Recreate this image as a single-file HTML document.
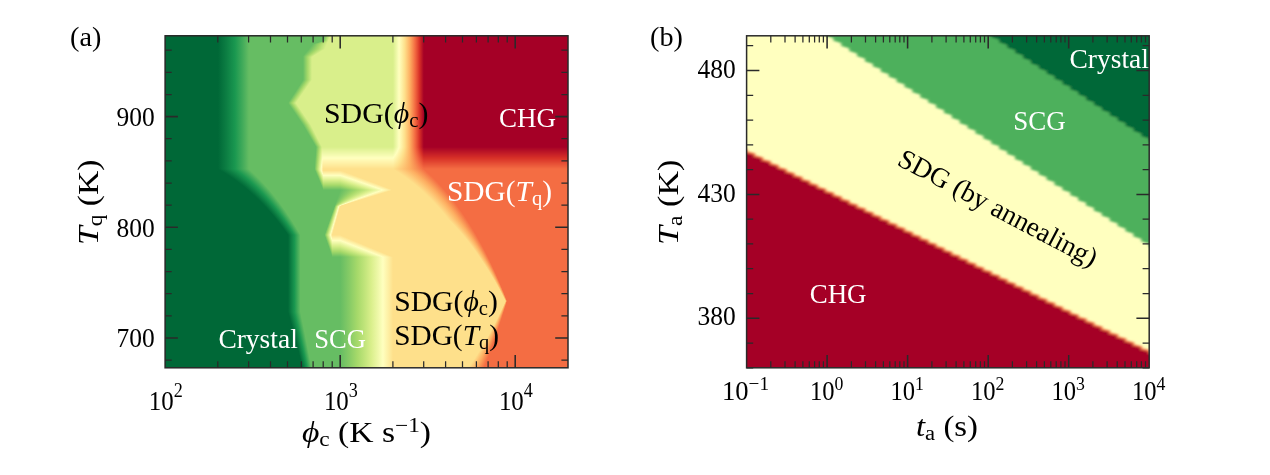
<!DOCTYPE html>
<html><head><meta charset="utf-8"><title>Phase diagrams</title>
<style>
html,body{margin:0;padding:0;background:#fff}
body{width:1270px;height:475px;position:relative;overflow:hidden;font-family:"Liberation Serif",serif}
#ha{position:absolute;left:165px;top:35px;width:403px;height:333px}
.r{height:1px;width:100%}
svg{position:absolute;left:0;top:0}
text{font-family:"Liberation Serif",serif}
.i{font-style:italic}
</style></head><body>
<div id="ha">

<div class="r" style="background:linear-gradient(90deg,#006837 -0.47%,#006837 13.15%,#0d8044 15.39%,#1a9850 17.39%,#40aa5a 19.19%,#66bd63 20.84%,#66bd63 39.43%,#a6d96a 40.24%,#d9ef8b 41.02%,#d9ef8b 56.58%,#ecf7a5 57.35%,#ffffbf 58.08%,#fef0a5 58.80%,#fee08b 59.48%,#fec776 60.14%,#fdae61 60.78%,#f88e52 61.40%,#f46d43 62.00%,#e64f35 62.58%,#d73027 63.14%,#be1826 63.69%,#a50026 64.22%,#a50026 100.48%)"></div>
<div class="r" style="background:linear-gradient(90deg,#006837 -0.47%,#006837 13.15%,#0d8044 15.39%,#1a9850 17.39%,#40aa5a 19.19%,#66bd63 20.84%,#66bd63 39.39%,#a6d96a 40.17%,#d9ef8b 40.92%,#d9ef8b 56.58%,#ecf7a5 57.35%,#ffffbf 58.08%,#fef0a5 58.80%,#fee08b 59.48%,#fec776 60.14%,#fdae61 60.78%,#f88e52 61.40%,#f46d43 62.00%,#e64f35 62.58%,#d73027 63.14%,#be1826 63.69%,#a50026 64.22%,#a50026 100.48%)"></div>
<div class="r" style="background:linear-gradient(90deg,#006837 -0.47%,#006837 13.15%,#0d8044 15.39%,#1a9850 17.39%,#40aa5a 19.19%,#66bd63 20.84%,#66bd63 39.35%,#a6d96a 40.10%,#d9ef8b 40.82%,#d9ef8b 56.58%,#ecf7a5 57.35%,#ffffbf 58.08%,#fef0a5 58.80%,#fee08b 59.48%,#fec776 60.14%,#fdae61 60.78%,#f88e52 61.40%,#f46d43 62.00%,#e64f35 62.58%,#d73027 63.14%,#be1826 63.69%,#a50026 64.22%,#a50026 100.48%)"></div>
<div class="r" style="background:linear-gradient(90deg,#006837 -0.47%,#006837 13.15%,#0d8044 15.39%,#1a9850 17.39%,#40aa5a 19.19%,#66bd63 20.84%,#66bd63 39.31%,#a6d96a 40.03%,#d9ef8b 40.73%,#d9ef8b 56.58%,#ecf7a5 57.35%,#ffffbf 58.08%,#fef0a5 58.80%,#fee08b 59.48%,#fec776 60.14%,#fdae61 60.78%,#f88e52 61.40%,#f46d43 62.00%,#e64f35 62.58%,#d73027 63.14%,#be1826 63.69%,#a50026 64.22%,#a50026 100.48%)"></div>
<div class="r" style="background:linear-gradient(90deg,#006837 -0.47%,#006837 13.15%,#0d8044 15.39%,#1a9850 17.39%,#40aa5a 19.19%,#66bd63 20.84%,#66bd63 39.27%,#a6d96a 39.96%,#d9ef8b 40.63%,#d9ef8b 56.58%,#ecf7a5 57.35%,#ffffbf 58.08%,#fef0a5 58.80%,#fee08b 59.48%,#fec776 60.14%,#fdae61 60.78%,#f88e52 61.40%,#f46d43 62.00%,#e64f35 62.58%,#d73027 63.14%,#be1826 63.69%,#a50026 64.22%,#a50026 100.48%)"></div>
<div class="r" style="background:linear-gradient(90deg,#006837 -0.47%,#006837 13.15%,#0d8044 15.39%,#1a9850 17.39%,#40aa5a 19.19%,#66bd63 20.84%,#66bd63 39.23%,#a6d96a 39.89%,#d9ef8b 40.53%,#d9ef8b 56.58%,#ecf7a5 57.35%,#ffffbf 58.08%,#fef0a5 58.80%,#fee08b 59.48%,#fec776 60.14%,#fdae61 60.78%,#f88e52 61.40%,#f46d43 62.00%,#e64f35 62.58%,#d73027 63.14%,#be1826 63.69%,#a50026 64.22%,#a50026 100.48%)"></div>
<div class="r" style="background:linear-gradient(90deg,#006837 -0.47%,#006837 13.15%,#0d8044 15.39%,#1a9850 17.39%,#40aa5a 19.19%,#66bd63 20.84%,#66bd63 38.79%,#a6d96a 39.63%,#d9ef8b 40.43%,#d9ef8b 56.58%,#ecf7a5 57.35%,#ffffbf 58.08%,#fef0a5 58.80%,#fee08b 59.48%,#fec776 60.14%,#fdae61 60.78%,#f88e52 61.40%,#f46d43 62.00%,#e64f35 62.58%,#d73027 63.14%,#be1826 63.69%,#a50026 64.22%,#a50026 100.48%)"></div>
<div class="r" style="background:linear-gradient(90deg,#006837 -0.47%,#006837 13.15%,#0d8044 15.39%,#1a9850 17.39%,#40aa5a 19.19%,#66bd63 20.84%,#66bd63 37.97%,#a6d96a 39.19%,#d9ef8b 40.34%,#d9ef8b 56.58%,#ecf7a5 57.35%,#ffffbf 58.08%,#fef0a5 58.80%,#fee08b 59.48%,#fec776 60.14%,#fdae61 60.78%,#f88e52 61.40%,#f46d43 62.00%,#e64f35 62.58%,#d73027 63.14%,#be1826 63.69%,#a50026 64.22%,#a50026 100.48%)"></div>
<div class="r" style="background:linear-gradient(90deg,#006837 -0.47%,#006837 13.15%,#0d8044 15.39%,#1a9850 17.39%,#40aa5a 19.19%,#66bd63 20.84%,#66bd63 37.14%,#a6d96a 38.75%,#d9ef8b 40.24%,#d9ef8b 56.58%,#ecf7a5 57.35%,#ffffbf 58.08%,#fef0a5 58.80%,#fee08b 59.48%,#fec776 60.14%,#fdae61 60.78%,#f88e52 61.40%,#f46d43 62.00%,#e64f35 62.58%,#d73027 63.14%,#be1826 63.69%,#a50026 64.22%,#a50026 100.48%)"></div>
<div class="r" style="background:linear-gradient(90deg,#006837 -0.47%,#006837 13.15%,#0d8044 15.39%,#1a9850 17.39%,#40aa5a 19.19%,#66bd63 20.84%,#66bd63 36.62%,#a6d96a 38.46%,#d9ef8b 40.14%,#d9ef8b 56.58%,#ecf7a5 57.35%,#ffffbf 58.08%,#fef0a5 58.80%,#fee08b 59.48%,#fec776 60.14%,#fdae61 60.78%,#f88e52 61.40%,#f46d43 62.00%,#e64f35 62.58%,#d73027 63.14%,#be1826 63.69%,#a50026 64.22%,#a50026 100.48%)"></div>
<div class="r" style="background:linear-gradient(90deg,#006837 -0.47%,#006837 13.15%,#0d8044 15.39%,#1a9850 17.39%,#40aa5a 19.19%,#66bd63 20.84%,#66bd63 36.41%,#a6d96a 38.32%,#d9ef8b 40.04%,#d9ef8b 56.58%,#ecf7a5 57.35%,#ffffbf 58.08%,#fef0a5 58.80%,#fee08b 59.48%,#fec776 60.14%,#fdae61 60.78%,#f88e52 61.40%,#f46d43 62.00%,#e64f35 62.58%,#d73027 63.14%,#be1826 63.69%,#a50026 64.22%,#a50026 100.48%)"></div>
<div class="r" style="background:linear-gradient(90deg,#006837 -0.47%,#006837 13.15%,#0d8044 15.39%,#1a9850 17.39%,#40aa5a 19.19%,#66bd63 20.84%,#66bd63 36.21%,#a6d96a 38.17%,#d9ef8b 39.95%,#d9ef8b 56.58%,#ecf7a5 57.35%,#ffffbf 58.08%,#fef0a5 58.80%,#fee08b 59.48%,#fec776 60.14%,#fdae61 60.78%,#f88e52 61.40%,#f46d43 62.00%,#e64f35 62.58%,#d73027 63.14%,#be1826 63.69%,#a50026 64.22%,#a50026 100.48%)"></div>
<div class="r" style="background:linear-gradient(90deg,#006837 -0.47%,#006837 13.15%,#0d8044 15.39%,#1a9850 17.39%,#40aa5a 19.19%,#66bd63 20.84%,#66bd63 36.00%,#a6d96a 38.02%,#d9ef8b 39.85%,#d9ef8b 56.58%,#ecf7a5 57.35%,#ffffbf 58.08%,#fef0a5 58.80%,#fee08b 59.48%,#fec776 60.14%,#fdae61 60.78%,#f88e52 61.40%,#f46d43 62.00%,#e64f35 62.58%,#d73027 63.14%,#be1826 63.69%,#a50026 64.22%,#a50026 100.48%)"></div>
<div class="r" style="background:linear-gradient(90deg,#006837 -0.47%,#006837 13.15%,#0d8044 15.39%,#1a9850 17.39%,#40aa5a 19.19%,#66bd63 20.84%,#66bd63 35.79%,#a6d96a 37.88%,#d9ef8b 39.75%,#d9ef8b 56.58%,#ecf7a5 57.35%,#ffffbf 58.08%,#fef0a5 58.80%,#fee08b 59.48%,#fec776 60.14%,#fdae61 60.78%,#f88e52 61.40%,#f46d43 62.00%,#e64f35 62.58%,#d73027 63.14%,#be1826 63.69%,#a50026 64.22%,#a50026 100.48%)"></div>
<div class="r" style="background:linear-gradient(90deg,#006837 -0.47%,#006837 13.15%,#0d8044 15.39%,#1a9850 17.39%,#40aa5a 19.19%,#66bd63 20.84%,#66bd63 35.59%,#a6d96a 37.65%,#d9ef8b 39.50%,#d9ef8b 56.58%,#ecf7a5 57.35%,#ffffbf 58.08%,#fef0a5 58.80%,#fee08b 59.48%,#fec776 60.14%,#fdae61 60.78%,#f88e52 61.40%,#f46d43 62.00%,#e64f35 62.58%,#d73027 63.14%,#be1826 63.69%,#a50026 64.22%,#a50026 100.48%)"></div>
<div class="r" style="background:linear-gradient(90deg,#006837 -0.47%,#006837 13.15%,#0d8044 15.39%,#1a9850 17.39%,#40aa5a 19.19%,#66bd63 20.84%,#66bd63 35.38%,#a6d96a 37.33%,#d9ef8b 39.10%,#d9ef8b 56.58%,#ecf7a5 57.35%,#ffffbf 58.08%,#fef0a5 58.80%,#fee08b 59.48%,#fec776 60.14%,#fdae61 60.78%,#f88e52 61.40%,#f46d43 62.00%,#e64f35 62.58%,#d73027 63.14%,#be1826 63.69%,#a50026 64.22%,#a50026 100.48%)"></div>
<div class="r" style="background:linear-gradient(90deg,#006837 -0.47%,#006837 13.15%,#0d8044 15.39%,#1a9850 17.39%,#40aa5a 19.19%,#66bd63 20.84%,#66bd63 35.17%,#a6d96a 37.02%,#d9ef8b 38.69%,#d9ef8b 56.58%,#ecf7a5 57.35%,#ffffbf 58.08%,#fef0a5 58.80%,#fee08b 59.48%,#fec776 60.14%,#fdae61 60.78%,#f88e52 61.40%,#f46d43 62.00%,#e64f35 62.58%,#d73027 63.14%,#be1826 63.69%,#a50026 64.22%,#a50026 100.48%)"></div>
<div class="r" style="background:linear-gradient(90deg,#006837 -0.47%,#006837 13.15%,#0d8044 15.39%,#1a9850 17.39%,#40aa5a 19.19%,#66bd63 20.84%,#66bd63 34.97%,#a6d96a 36.70%,#d9ef8b 38.29%,#d9ef8b 56.58%,#ecf7a5 57.35%,#ffffbf 58.08%,#fef0a5 58.80%,#fee08b 59.48%,#fec776 60.14%,#fdae61 60.78%,#f88e52 61.40%,#f46d43 62.00%,#e64f35 62.58%,#d73027 63.14%,#be1826 63.69%,#a50026 64.22%,#a50026 100.48%)"></div>
<div class="r" style="background:linear-gradient(90deg,#006837 -0.47%,#006837 13.15%,#0d8044 15.39%,#1a9850 17.39%,#40aa5a 19.19%,#66bd63 20.84%,#66bd63 34.76%,#a6d96a 36.39%,#d9ef8b 37.89%,#d9ef8b 56.58%,#ecf7a5 57.35%,#ffffbf 58.08%,#fef0a5 58.80%,#fee08b 59.48%,#fec776 60.14%,#fdae61 60.78%,#f88e52 61.40%,#f46d43 62.00%,#e64f35 62.58%,#d73027 63.14%,#be1826 63.69%,#a50026 64.22%,#a50026 100.48%)"></div>
<div class="r" style="background:linear-gradient(90deg,#006837 -0.47%,#006837 13.15%,#0d8044 15.39%,#1a9850 17.39%,#40aa5a 19.19%,#66bd63 20.84%,#66bd63 34.55%,#a6d96a 36.08%,#d9ef8b 37.48%,#d9ef8b 56.58%,#ecf7a5 57.35%,#ffffbf 58.08%,#fef0a5 58.80%,#fee08b 59.48%,#fec776 60.14%,#fdae61 60.78%,#f88e52 61.40%,#f46d43 62.00%,#e64f35 62.58%,#d73027 63.14%,#be1826 63.69%,#a50026 64.22%,#a50026 100.48%)"></div>
<div class="r" style="background:linear-gradient(90deg,#006837 -0.47%,#006837 13.15%,#0d8044 15.39%,#1a9850 17.39%,#40aa5a 19.19%,#66bd63 20.84%,#66bd63 34.35%,#a6d96a 35.76%,#d9ef8b 37.08%,#d9ef8b 56.58%,#ecf7a5 57.35%,#ffffbf 58.08%,#fef0a5 58.80%,#fee08b 59.48%,#fec776 60.14%,#fdae61 60.78%,#f88e52 61.40%,#f46d43 62.00%,#e64f35 62.58%,#d73027 63.14%,#be1826 63.69%,#a50026 64.22%,#a50026 100.48%)"></div>
<div class="r" style="background:linear-gradient(90deg,#006837 -0.47%,#006837 13.15%,#0d8044 15.39%,#1a9850 17.39%,#40aa5a 19.19%,#66bd63 20.84%,#66bd63 34.24%,#a6d96a 35.50%,#d9ef8b 36.68%,#d9ef8b 56.58%,#ecf7a5 57.35%,#ffffbf 58.08%,#fef0a5 58.80%,#fee08b 59.48%,#fec776 60.14%,#fdae61 60.78%,#f88e52 61.40%,#f46d43 62.00%,#e64f35 62.58%,#d73027 63.14%,#be1826 63.69%,#a50026 64.22%,#a50026 100.48%)"></div>
<div class="r" style="background:linear-gradient(90deg,#006837 -0.47%,#006837 13.15%,#0d8044 15.39%,#1a9850 17.39%,#40aa5a 19.19%,#66bd63 20.84%,#66bd63 34.24%,#a6d96a 35.39%,#d9ef8b 36.48%,#d9ef8b 56.58%,#ecf7a5 57.35%,#ffffbf 58.08%,#fef0a5 58.80%,#fee08b 59.48%,#fec776 60.14%,#fdae61 60.78%,#f88e52 61.40%,#f46d43 62.00%,#e64f35 62.58%,#d73027 63.14%,#be1826 63.69%,#a50026 64.22%,#a50026 100.48%)"></div>
<div class="r" style="background:linear-gradient(90deg,#006837 -0.47%,#006837 13.15%,#0d8044 15.39%,#1a9850 17.39%,#40aa5a 19.19%,#66bd63 20.84%,#66bd63 34.24%,#a6d96a 35.39%,#d9ef8b 36.48%,#d9ef8b 56.58%,#ecf7a5 57.35%,#ffffbf 58.08%,#fef0a5 58.80%,#fee08b 59.48%,#fec776 60.14%,#fdae61 60.78%,#f88e52 61.40%,#f46d43 62.00%,#e64f35 62.58%,#d73027 63.14%,#be1826 63.69%,#a50026 64.22%,#a50026 100.48%)"></div>
<div class="r" style="background:linear-gradient(90deg,#006837 -0.47%,#006837 13.15%,#0d8044 15.39%,#1a9850 17.39%,#40aa5a 19.19%,#66bd63 20.84%,#66bd63 34.24%,#a6d96a 35.39%,#d9ef8b 36.48%,#d9ef8b 56.58%,#ecf7a5 57.35%,#ffffbf 58.08%,#fef0a5 58.80%,#fee08b 59.48%,#fec776 60.14%,#fdae61 60.78%,#f88e52 61.40%,#f46d43 62.00%,#e64f35 62.58%,#d73027 63.14%,#be1826 63.69%,#a50026 64.22%,#a50026 100.48%)"></div>
<div class="r" style="background:linear-gradient(90deg,#006837 -0.47%,#006837 13.15%,#0d8044 15.39%,#1a9850 17.39%,#40aa5a 19.19%,#66bd63 20.84%,#66bd63 34.24%,#a6d96a 35.39%,#d9ef8b 36.48%,#d9ef8b 56.58%,#ecf7a5 57.35%,#ffffbf 58.08%,#fef0a5 58.80%,#fee08b 59.48%,#fec776 60.14%,#fdae61 60.78%,#f88e52 61.40%,#f46d43 62.00%,#e64f35 62.58%,#d73027 63.14%,#be1826 63.69%,#a50026 64.22%,#a50026 100.48%)"></div>
<div class="r" style="background:linear-gradient(90deg,#006837 -0.47%,#006837 13.15%,#0d8044 15.39%,#1a9850 17.39%,#40aa5a 19.19%,#66bd63 20.84%,#66bd63 34.24%,#a6d96a 35.39%,#d9ef8b 36.48%,#d9ef8b 56.58%,#ecf7a5 57.35%,#ffffbf 58.08%,#fef0a5 58.80%,#fee08b 59.48%,#fec776 60.14%,#fdae61 60.78%,#f88e52 61.40%,#f46d43 62.00%,#e64f35 62.58%,#d73027 63.14%,#be1826 63.69%,#a50026 64.22%,#a50026 100.48%)"></div>
<div class="r" style="background:linear-gradient(90deg,#006837 -0.47%,#006837 13.15%,#0d8044 15.39%,#1a9850 17.39%,#40aa5a 19.19%,#66bd63 20.84%,#66bd63 34.24%,#a6d96a 35.39%,#d9ef8b 36.48%,#d9ef8b 56.58%,#ecf7a5 57.35%,#ffffbf 58.08%,#fef0a5 58.80%,#fee08b 59.48%,#fec776 60.14%,#fdae61 60.78%,#f88e52 61.40%,#f46d43 62.00%,#e64f35 62.58%,#d73027 63.14%,#be1826 63.69%,#a50026 64.22%,#a50026 100.48%)"></div>
<div class="r" style="background:linear-gradient(90deg,#006837 -0.47%,#006837 13.15%,#0d8044 15.39%,#1a9850 17.39%,#40aa5a 19.19%,#66bd63 20.84%,#66bd63 34.24%,#a6d96a 35.39%,#d9ef8b 36.48%,#d9ef8b 56.58%,#ecf7a5 57.35%,#ffffbf 58.08%,#fef0a5 58.80%,#fee08b 59.48%,#fec776 60.14%,#fdae61 60.78%,#f88e52 61.40%,#f46d43 62.00%,#e64f35 62.58%,#d73027 63.14%,#be1826 63.69%,#a50026 64.22%,#a50026 100.48%)"></div>
<div class="r" style="background:linear-gradient(90deg,#006837 -0.47%,#006837 13.15%,#0d8044 15.39%,#1a9850 17.39%,#40aa5a 19.19%,#66bd63 20.84%,#66bd63 34.24%,#a6d96a 35.39%,#d9ef8b 36.48%,#d9ef8b 56.58%,#ecf7a5 57.35%,#ffffbf 58.08%,#fef0a5 58.80%,#fee08b 59.48%,#fec776 60.14%,#fdae61 60.78%,#f88e52 61.40%,#f46d43 62.00%,#e64f35 62.58%,#d73027 63.14%,#be1826 63.69%,#a50026 64.22%,#a50026 100.48%)"></div>
<div class="r" style="background:linear-gradient(90deg,#006837 -0.47%,#006837 13.15%,#0d8044 15.39%,#1a9850 17.39%,#40aa5a 19.19%,#66bd63 20.84%,#66bd63 34.24%,#a6d96a 35.39%,#d9ef8b 36.48%,#d9ef8b 56.58%,#ecf7a5 57.35%,#ffffbf 58.08%,#fef0a5 58.80%,#fee08b 59.48%,#fec776 60.14%,#fdae61 60.78%,#f88e52 61.40%,#f46d43 62.00%,#e64f35 62.58%,#d73027 63.14%,#be1826 63.69%,#a50026 64.22%,#a50026 100.48%)"></div>
<div class="r" style="background:linear-gradient(90deg,#006837 -0.47%,#006837 13.15%,#0d8044 15.39%,#1a9850 17.39%,#40aa5a 19.19%,#66bd63 20.84%,#66bd63 34.24%,#a6d96a 35.39%,#d9ef8b 36.48%,#d9ef8b 56.58%,#ecf7a5 57.35%,#ffffbf 58.08%,#fef0a5 58.80%,#fee08b 59.48%,#fec776 60.14%,#fdae61 60.78%,#f88e52 61.40%,#f46d43 62.00%,#e64f35 62.58%,#d73027 63.14%,#be1826 63.69%,#a50026 64.22%,#a50026 100.48%)"></div>
<div class="r" style="background:linear-gradient(90deg,#006837 -0.47%,#006837 13.15%,#0d8044 15.39%,#1a9850 17.39%,#40aa5a 19.19%,#66bd63 20.84%,#66bd63 34.24%,#a6d96a 35.39%,#d9ef8b 36.48%,#d9ef8b 56.58%,#ecf7a5 57.35%,#ffffbf 58.08%,#fef0a5 58.80%,#fee08b 59.48%,#fec776 60.14%,#fdae61 60.78%,#f88e52 61.40%,#f46d43 62.00%,#e64f35 62.58%,#d73027 63.14%,#be1826 63.69%,#a50026 64.22%,#a50026 100.48%)"></div>
<div class="r" style="background:linear-gradient(90deg,#006837 -0.47%,#006837 13.15%,#0d8044 15.39%,#1a9850 17.39%,#40aa5a 19.19%,#66bd63 20.84%,#66bd63 34.24%,#a6d96a 35.39%,#d9ef8b 36.48%,#d9ef8b 56.58%,#ecf7a5 57.35%,#ffffbf 58.08%,#fef0a5 58.80%,#fee08b 59.48%,#fec776 60.14%,#fdae61 60.78%,#f88e52 61.40%,#f46d43 62.00%,#e64f35 62.58%,#d73027 63.14%,#be1826 63.69%,#a50026 64.22%,#a50026 100.48%)"></div>
<div class="r" style="background:linear-gradient(90deg,#006837 -0.47%,#006837 13.15%,#0d8044 15.39%,#1a9850 17.39%,#40aa5a 19.19%,#66bd63 20.84%,#66bd63 34.24%,#a6d96a 35.39%,#d9ef8b 36.48%,#d9ef8b 56.58%,#ecf7a5 57.35%,#ffffbf 58.08%,#fef0a5 58.80%,#fee08b 59.48%,#fec776 60.14%,#fdae61 60.78%,#f88e52 61.40%,#f46d43 62.00%,#e64f35 62.58%,#d73027 63.14%,#be1826 63.69%,#a50026 64.22%,#a50026 100.48%)"></div>
<div class="r" style="background:linear-gradient(90deg,#006837 -0.47%,#006837 13.15%,#0d8044 15.39%,#1a9850 17.39%,#40aa5a 19.19%,#66bd63 20.84%,#66bd63 34.24%,#a6d96a 35.39%,#d9ef8b 36.48%,#d9ef8b 56.58%,#ecf7a5 57.35%,#ffffbf 58.08%,#fef0a5 58.80%,#fee08b 59.48%,#fec776 60.14%,#fdae61 60.78%,#f88e52 61.40%,#f46d43 62.00%,#e64f35 62.58%,#d73027 63.14%,#be1826 63.69%,#a50026 64.22%,#a50026 100.48%)"></div>
<div class="r" style="background:linear-gradient(90deg,#006837 -0.47%,#006837 13.15%,#0d8044 15.39%,#1a9850 17.39%,#40aa5a 19.19%,#66bd63 20.84%,#66bd63 34.24%,#a6d96a 35.39%,#d9ef8b 36.48%,#d9ef8b 56.58%,#ecf7a5 57.35%,#ffffbf 58.08%,#fef0a5 58.80%,#fee08b 59.48%,#fec776 60.14%,#fdae61 60.78%,#f88e52 61.40%,#f46d43 62.00%,#e64f35 62.58%,#d73027 63.14%,#be1826 63.69%,#a50026 64.22%,#a50026 100.48%)"></div>
<div class="r" style="background:linear-gradient(90deg,#006837 -0.47%,#006837 13.15%,#0d8044 15.39%,#1a9850 17.39%,#40aa5a 19.19%,#66bd63 20.84%,#66bd63 34.24%,#a6d96a 35.39%,#d9ef8b 36.48%,#d9ef8b 56.58%,#ecf7a5 57.35%,#ffffbf 58.08%,#fef0a5 58.80%,#fee08b 59.48%,#fec776 60.14%,#fdae61 60.78%,#f88e52 61.40%,#f46d43 62.00%,#e64f35 62.58%,#d73027 63.14%,#be1826 63.69%,#a50026 64.22%,#a50026 100.48%)"></div>
<div class="r" style="background:linear-gradient(90deg,#006837 -0.47%,#006837 13.15%,#0d8044 15.39%,#1a9850 17.39%,#40aa5a 19.19%,#66bd63 20.84%,#66bd63 34.24%,#a6d96a 35.39%,#d9ef8b 36.48%,#d9ef8b 56.58%,#ecf7a5 57.35%,#ffffbf 58.08%,#fef0a5 58.80%,#fee08b 59.48%,#fec776 60.14%,#fdae61 60.78%,#f88e52 61.40%,#f46d43 62.00%,#e64f35 62.58%,#d73027 63.14%,#be1826 63.69%,#a50026 64.22%,#a50026 100.48%)"></div>
<div class="r" style="background:linear-gradient(90deg,#006837 -0.47%,#006837 13.15%,#0d8044 15.39%,#1a9850 17.39%,#40aa5a 19.19%,#66bd63 20.84%,#66bd63 34.24%,#a6d96a 35.39%,#d9ef8b 36.48%,#d9ef8b 56.58%,#ecf7a5 57.35%,#ffffbf 58.08%,#fef0a5 58.80%,#fee08b 59.48%,#fec776 60.14%,#fdae61 60.78%,#f88e52 61.40%,#f46d43 62.00%,#e64f35 62.58%,#d73027 63.14%,#be1826 63.69%,#a50026 64.22%,#a50026 100.48%)"></div>
<div class="r" style="background:linear-gradient(90deg,#006837 -0.47%,#006837 13.15%,#0d8044 15.39%,#1a9850 17.39%,#40aa5a 19.19%,#66bd63 20.84%,#66bd63 34.24%,#a6d96a 35.39%,#d9ef8b 36.48%,#d9ef8b 56.58%,#ecf7a5 57.35%,#ffffbf 58.08%,#fef0a5 58.80%,#fee08b 59.48%,#fec776 60.14%,#fdae61 60.78%,#f88e52 61.40%,#f46d43 62.00%,#e64f35 62.58%,#d73027 63.14%,#be1826 63.69%,#a50026 64.22%,#a50026 100.48%)"></div>
<div class="r" style="background:linear-gradient(90deg,#006837 -0.47%,#006837 13.15%,#0d8044 15.39%,#1a9850 17.39%,#40aa5a 19.19%,#66bd63 20.84%,#66bd63 34.24%,#a6d96a 35.39%,#d9ef8b 36.48%,#d9ef8b 56.58%,#ecf7a5 57.35%,#ffffbf 58.08%,#fef0a5 58.80%,#fee08b 59.48%,#fec776 60.14%,#fdae61 60.78%,#f88e52 61.40%,#f46d43 62.00%,#e64f35 62.58%,#d73027 63.14%,#be1826 63.69%,#a50026 64.22%,#a50026 100.48%)"></div>
<div class="r" style="background:linear-gradient(90deg,#006837 -0.47%,#006837 13.15%,#0d8044 15.39%,#1a9850 17.39%,#40aa5a 19.19%,#66bd63 20.84%,#66bd63 34.24%,#a6d96a 35.39%,#d9ef8b 36.48%,#d9ef8b 56.58%,#ecf7a5 57.35%,#ffffbf 58.08%,#fef0a5 58.80%,#fee08b 59.48%,#fec776 60.14%,#fdae61 60.78%,#f88e52 61.40%,#f46d43 62.00%,#e64f35 62.58%,#d73027 63.14%,#be1826 63.69%,#a50026 64.22%,#a50026 100.48%)"></div>
<div class="r" style="background:linear-gradient(90deg,#006837 -0.47%,#006837 13.15%,#0d8044 15.39%,#1a9850 17.39%,#40aa5a 19.19%,#66bd63 20.84%,#66bd63 34.24%,#a6d96a 35.39%,#d9ef8b 36.48%,#d9ef8b 56.58%,#ecf7a5 57.35%,#ffffbf 58.08%,#fef0a5 58.80%,#fee08b 59.48%,#fec776 60.14%,#fdae61 60.78%,#f88e52 61.40%,#f46d43 62.00%,#e64f35 62.58%,#d73027 63.14%,#be1826 63.69%,#a50026 64.22%,#a50026 100.48%)"></div>
<div class="r" style="background:linear-gradient(90deg,#006837 -0.47%,#006837 13.15%,#0d8044 15.39%,#1a9850 17.39%,#40aa5a 19.19%,#66bd63 20.84%,#66bd63 34.24%,#a6d96a 35.39%,#d9ef8b 36.48%,#d9ef8b 56.58%,#ecf7a5 57.35%,#ffffbf 58.08%,#fef0a5 58.80%,#fee08b 59.48%,#fec776 60.14%,#fdae61 60.78%,#f88e52 61.40%,#f46d43 62.00%,#e64f35 62.58%,#d73027 63.14%,#be1826 63.69%,#a50026 64.22%,#a50026 100.48%)"></div>
<div class="r" style="background:linear-gradient(90deg,#006837 -0.47%,#006837 13.15%,#0d8044 15.39%,#1a9850 17.39%,#40aa5a 19.19%,#66bd63 20.84%,#66bd63 34.16%,#a6d96a 35.31%,#d9ef8b 36.39%,#d9ef8b 56.58%,#ecf7a5 57.35%,#ffffbf 58.08%,#fef0a5 58.80%,#fee08b 59.48%,#fec776 60.14%,#fdae61 60.78%,#f88e52 61.40%,#f46d43 62.00%,#e64f35 62.58%,#d73027 63.14%,#be1826 63.69%,#a50026 64.22%,#a50026 100.48%)"></div>
<div class="r" style="background:linear-gradient(90deg,#006837 -0.47%,#006837 13.15%,#0d8044 15.39%,#1a9850 17.39%,#40aa5a 19.19%,#66bd63 20.84%,#66bd63 34.00%,#a6d96a 35.14%,#d9ef8b 36.22%,#d9ef8b 56.58%,#ecf7a5 57.35%,#ffffbf 58.08%,#fef0a5 58.80%,#fee08b 59.48%,#fec776 60.14%,#fdae61 60.78%,#f88e52 61.40%,#f46d43 62.00%,#e64f35 62.58%,#d73027 63.14%,#be1826 63.69%,#a50026 64.22%,#a50026 100.48%)"></div>
<div class="r" style="background:linear-gradient(90deg,#006837 -0.47%,#006837 13.15%,#0d8044 15.39%,#1a9850 17.39%,#40aa5a 19.19%,#66bd63 20.84%,#66bd63 33.84%,#a6d96a 34.97%,#d9ef8b 36.04%,#d9ef8b 56.58%,#ecf7a5 57.35%,#ffffbf 58.08%,#fef0a5 58.80%,#fee08b 59.48%,#fec776 60.14%,#fdae61 60.78%,#f88e52 61.40%,#f46d43 62.00%,#e64f35 62.58%,#d73027 63.14%,#be1826 63.69%,#a50026 64.22%,#a50026 100.48%)"></div>
<div class="r" style="background:linear-gradient(90deg,#006837 -0.47%,#006837 13.15%,#0d8044 15.39%,#1a9850 17.39%,#40aa5a 19.19%,#66bd63 20.84%,#66bd63 33.68%,#a6d96a 34.81%,#d9ef8b 35.87%,#d9ef8b 56.58%,#ecf7a5 57.35%,#ffffbf 58.08%,#fef0a5 58.80%,#fee08b 59.48%,#fec776 60.14%,#fdae61 60.78%,#f88e52 61.40%,#f46d43 62.00%,#e64f35 62.58%,#d73027 63.14%,#be1826 63.69%,#a50026 64.22%,#a50026 100.48%)"></div>
<div class="r" style="background:linear-gradient(90deg,#006837 -0.47%,#006837 13.15%,#0d8044 15.39%,#1a9850 17.39%,#40aa5a 19.19%,#66bd63 20.84%,#66bd63 33.51%,#a6d96a 34.64%,#d9ef8b 35.70%,#d9ef8b 56.58%,#ecf7a5 57.35%,#ffffbf 58.08%,#fef0a5 58.80%,#fee08b 59.48%,#fec776 60.14%,#fdae61 60.78%,#f88e52 61.40%,#f46d43 62.00%,#e64f35 62.58%,#d73027 63.14%,#be1826 63.69%,#a50026 64.22%,#a50026 100.48%)"></div>
<div class="r" style="background:linear-gradient(90deg,#006837 -0.47%,#006837 13.15%,#0d8044 15.39%,#1a9850 17.39%,#40aa5a 19.19%,#66bd63 20.84%,#66bd63 33.35%,#a6d96a 34.47%,#d9ef8b 35.53%,#d9ef8b 56.58%,#ecf7a5 57.35%,#ffffbf 58.08%,#fef0a5 58.80%,#fee08b 59.48%,#fec776 60.14%,#fdae61 60.78%,#f88e52 61.40%,#f46d43 62.00%,#e64f35 62.58%,#d73027 63.14%,#be1826 63.69%,#a50026 64.22%,#a50026 100.48%)"></div>
<div class="r" style="background:linear-gradient(90deg,#006837 -0.47%,#006837 13.15%,#0d8044 15.39%,#1a9850 17.39%,#40aa5a 19.19%,#66bd63 20.84%,#66bd63 33.19%,#a6d96a 34.30%,#d9ef8b 35.35%,#d9ef8b 56.58%,#ecf7a5 57.35%,#ffffbf 58.08%,#fef0a5 58.80%,#fee08b 59.48%,#fec776 60.14%,#fdae61 60.78%,#f88e52 61.40%,#f46d43 62.00%,#e64f35 62.58%,#d73027 63.14%,#be1826 63.69%,#a50026 64.22%,#a50026 100.48%)"></div>
<div class="r" style="background:linear-gradient(90deg,#006837 -0.47%,#006837 13.15%,#0d8044 15.39%,#1a9850 17.39%,#40aa5a 19.19%,#66bd63 20.84%,#66bd63 33.03%,#a6d96a 34.14%,#d9ef8b 35.18%,#d9ef8b 56.58%,#ecf7a5 57.35%,#ffffbf 58.08%,#fef0a5 58.80%,#fee08b 59.48%,#fec776 60.14%,#fdae61 60.78%,#f88e52 61.40%,#f46d43 62.00%,#e64f35 62.58%,#d73027 63.14%,#be1826 63.69%,#a50026 64.22%,#a50026 100.48%)"></div>
<div class="r" style="background:linear-gradient(90deg,#006837 -0.47%,#006837 13.15%,#0d8044 15.39%,#1a9850 17.39%,#40aa5a 19.19%,#66bd63 20.84%,#66bd63 32.87%,#a6d96a 33.97%,#d9ef8b 35.01%,#d9ef8b 56.58%,#ecf7a5 57.35%,#ffffbf 58.08%,#fef0a5 58.80%,#fee08b 59.48%,#fec776 60.14%,#fdae61 60.78%,#f88e52 61.40%,#f46d43 62.00%,#e64f35 62.58%,#d73027 63.14%,#be1826 63.69%,#a50026 64.22%,#a50026 100.48%)"></div>
<div class="r" style="background:linear-gradient(90deg,#006837 -0.47%,#006837 13.15%,#0d8044 15.39%,#1a9850 17.39%,#40aa5a 19.19%,#66bd63 20.84%,#66bd63 32.71%,#a6d96a 33.80%,#d9ef8b 34.84%,#d9ef8b 56.58%,#ecf7a5 57.35%,#ffffbf 58.08%,#fef0a5 58.80%,#fee08b 59.48%,#fec776 60.14%,#fdae61 60.78%,#f88e52 61.40%,#f46d43 62.00%,#e64f35 62.58%,#d73027 63.14%,#be1826 63.69%,#a50026 64.22%,#a50026 100.48%)"></div>
<div class="r" style="background:linear-gradient(90deg,#006837 -0.47%,#006837 13.15%,#0d8044 15.39%,#1a9850 17.39%,#40aa5a 19.19%,#66bd63 20.84%,#66bd63 32.54%,#a6d96a 33.63%,#d9ef8b 34.66%,#d9ef8b 56.58%,#ecf7a5 57.35%,#ffffbf 58.08%,#fef0a5 58.80%,#fee08b 59.48%,#fec776 60.14%,#fdae61 60.78%,#f88e52 61.40%,#f46d43 62.00%,#e64f35 62.58%,#d73027 63.14%,#be1826 63.69%,#a50026 64.22%,#a50026 100.48%)"></div>
<div class="r" style="background:linear-gradient(90deg,#006837 -0.47%,#006837 13.15%,#0d8044 15.39%,#1a9850 17.39%,#40aa5a 19.19%,#66bd63 20.84%,#66bd63 32.38%,#a6d96a 33.47%,#d9ef8b 34.49%,#d9ef8b 56.58%,#ecf7a5 57.35%,#ffffbf 58.08%,#fef0a5 58.80%,#fee08b 59.48%,#fec776 60.14%,#fdae61 60.78%,#f88e52 61.40%,#f46d43 62.00%,#e64f35 62.58%,#d73027 63.14%,#be1826 63.69%,#a50026 64.22%,#a50026 100.48%)"></div>
<div class="r" style="background:linear-gradient(90deg,#006837 -0.47%,#006837 13.15%,#0d8044 15.39%,#1a9850 17.39%,#40aa5a 19.19%,#66bd63 20.84%,#66bd63 32.22%,#a6d96a 33.30%,#d9ef8b 34.32%,#d9ef8b 56.58%,#ecf7a5 57.35%,#ffffbf 58.08%,#fef0a5 58.80%,#fee08b 59.48%,#fec776 60.14%,#fdae61 60.78%,#f88e52 61.40%,#f46d43 62.00%,#e64f35 62.58%,#d73027 63.14%,#be1826 63.69%,#a50026 64.22%,#a50026 100.48%)"></div>
<div class="r" style="background:linear-gradient(90deg,#006837 -0.47%,#006837 13.15%,#0d8044 15.39%,#1a9850 17.39%,#40aa5a 19.19%,#66bd63 20.84%,#66bd63 32.06%,#a6d96a 33.13%,#d9ef8b 34.15%,#d9ef8b 56.58%,#ecf7a5 57.35%,#ffffbf 58.08%,#fef0a5 58.80%,#fee08b 59.48%,#fec776 60.14%,#fdae61 60.78%,#f88e52 61.40%,#f46d43 62.00%,#e64f35 62.58%,#d73027 63.14%,#be1826 63.69%,#a50026 64.22%,#a50026 100.48%)"></div>
<div class="r" style="background:linear-gradient(90deg,#006837 -0.47%,#006837 13.15%,#0d8044 15.39%,#1a9850 17.39%,#40aa5a 19.19%,#66bd63 20.84%,#66bd63 31.90%,#a6d96a 32.96%,#d9ef8b 33.97%,#d9ef8b 56.58%,#ecf7a5 57.35%,#ffffbf 58.08%,#fef0a5 58.80%,#fee08b 59.48%,#fec776 60.14%,#fdae61 60.78%,#f88e52 61.40%,#f46d43 62.00%,#e64f35 62.58%,#d73027 63.14%,#be1826 63.69%,#a50026 64.22%,#a50026 100.48%)"></div>
<div class="r" style="background:linear-gradient(90deg,#006837 -0.47%,#006837 13.15%,#0d8044 15.39%,#1a9850 17.39%,#40aa5a 19.19%,#66bd63 20.84%,#66bd63 31.73%,#a6d96a 32.80%,#d9ef8b 33.80%,#d9ef8b 56.58%,#ecf7a5 57.35%,#ffffbf 58.08%,#fef0a5 58.80%,#fee08b 59.48%,#fec776 60.14%,#fdae61 60.78%,#f88e52 61.40%,#f46d43 62.00%,#e64f35 62.58%,#d73027 63.14%,#be1826 63.69%,#a50026 64.22%,#a50026 100.48%)"></div>
<div class="r" style="background:linear-gradient(90deg,#006837 -0.47%,#006837 13.15%,#0d8044 15.39%,#1a9850 17.39%,#40aa5a 19.19%,#66bd63 20.84%,#66bd63 31.57%,#a6d96a 32.63%,#d9ef8b 33.63%,#d9ef8b 56.58%,#ecf7a5 57.35%,#ffffbf 58.08%,#fef0a5 58.80%,#fee08b 59.48%,#fec776 60.14%,#fdae61 60.78%,#f88e52 61.40%,#f46d43 62.00%,#e64f35 62.58%,#d73027 63.14%,#be1826 63.69%,#a50026 64.22%,#a50026 100.48%)"></div>
<div class="r" style="background:linear-gradient(90deg,#006837 -0.47%,#006837 13.15%,#0d8044 15.39%,#1a9850 17.39%,#40aa5a 19.19%,#66bd63 20.84%,#66bd63 31.41%,#a6d96a 32.46%,#d9ef8b 33.46%,#d9ef8b 56.58%,#ecf7a5 57.35%,#ffffbf 58.08%,#fef0a5 58.80%,#fee08b 59.48%,#fec776 60.14%,#fdae61 60.78%,#f88e52 61.40%,#f46d43 62.00%,#e64f35 62.58%,#d73027 63.14%,#be1826 63.69%,#a50026 64.22%,#a50026 100.48%)"></div>
<div class="r" style="background:linear-gradient(90deg,#006837 -0.47%,#006837 13.15%,#0d8044 15.39%,#1a9850 17.39%,#40aa5a 19.19%,#66bd63 20.84%,#66bd63 31.25%,#a6d96a 32.29%,#d9ef8b 33.28%,#d9ef8b 56.58%,#ecf7a5 57.35%,#ffffbf 58.08%,#fef0a5 58.80%,#fee08b 59.48%,#fec776 60.14%,#fdae61 60.78%,#f88e52 61.40%,#f46d43 62.00%,#e64f35 62.58%,#d73027 63.14%,#be1826 63.69%,#a50026 64.22%,#a50026 100.48%)"></div>
<div class="r" style="background:linear-gradient(90deg,#006837 -0.47%,#006837 13.15%,#0d8044 15.39%,#1a9850 17.39%,#40aa5a 19.19%,#66bd63 20.84%,#66bd63 31.09%,#a6d96a 32.13%,#d9ef8b 33.11%,#d9ef8b 56.58%,#ecf7a5 57.35%,#ffffbf 58.08%,#fef0a5 58.80%,#fee08b 59.48%,#fec776 60.14%,#fdae61 60.78%,#f88e52 61.40%,#f46d43 62.00%,#e64f35 62.58%,#d73027 63.14%,#be1826 63.69%,#a50026 64.22%,#a50026 100.48%)"></div>
<div class="r" style="background:linear-gradient(90deg,#006837 -0.47%,#006837 13.15%,#0d8044 15.39%,#1a9850 17.39%,#40aa5a 19.19%,#66bd63 20.84%,#66bd63 30.93%,#a6d96a 31.96%,#d9ef8b 32.94%,#d9ef8b 56.58%,#ecf7a5 57.35%,#ffffbf 58.08%,#fef0a5 58.80%,#fee08b 59.48%,#fec776 60.14%,#fdae61 60.78%,#f88e52 61.40%,#f46d43 62.00%,#e64f35 62.58%,#d73027 63.14%,#be1826 63.69%,#a50026 64.22%,#a50026 100.48%)"></div>
<div class="r" style="background:linear-gradient(90deg,#006837 -0.47%,#006837 13.15%,#0d8044 15.39%,#1a9850 17.39%,#40aa5a 19.19%,#66bd63 20.84%,#66bd63 30.76%,#a6d96a 31.79%,#d9ef8b 32.77%,#d9ef8b 56.58%,#ecf7a5 57.35%,#ffffbf 58.08%,#fef0a5 58.80%,#fee08b 59.48%,#fec776 60.14%,#fdae61 60.78%,#f88e52 61.40%,#f46d43 62.00%,#e64f35 62.58%,#d73027 63.14%,#be1826 63.69%,#a50026 64.22%,#a50026 100.48%)"></div>
<div class="r" style="background:linear-gradient(90deg,#006837 -0.47%,#006837 13.15%,#0d8044 15.39%,#1a9850 17.39%,#40aa5a 19.19%,#66bd63 20.84%,#66bd63 30.60%,#a6d96a 31.62%,#d9ef8b 32.59%,#d9ef8b 56.58%,#ecf7a5 57.35%,#ffffbf 58.08%,#fef0a5 58.80%,#fee08b 59.48%,#fec776 60.14%,#fdae61 60.78%,#f88e52 61.40%,#f46d43 62.00%,#e64f35 62.58%,#d73027 63.14%,#be1826 63.69%,#a50026 64.22%,#a50026 100.48%)"></div>
<div class="r" style="background:linear-gradient(90deg,#006837 -0.47%,#006837 13.15%,#0d8044 15.39%,#1a9850 17.39%,#40aa5a 19.19%,#66bd63 20.84%,#66bd63 30.61%,#a6d96a 31.62%,#d9ef8b 32.59%,#d9ef8b 56.58%,#ecf7a5 57.35%,#ffffbf 58.08%,#fef0a5 58.80%,#fee08b 59.48%,#fec776 60.14%,#fdae61 60.78%,#f88e52 61.40%,#f46d43 62.00%,#e64f35 62.58%,#d73027 63.14%,#be1826 63.69%,#a50026 64.22%,#a50026 100.48%)"></div>
<div class="r" style="background:linear-gradient(90deg,#006837 -0.47%,#006837 13.15%,#0d8044 15.39%,#1a9850 17.39%,#40aa5a 19.19%,#66bd63 20.84%,#66bd63 30.77%,#a6d96a 31.79%,#d9ef8b 32.76%,#d9ef8b 56.58%,#ecf7a5 57.35%,#ffffbf 58.08%,#fef0a5 58.80%,#fee08b 59.48%,#fec776 60.14%,#fdae61 60.78%,#f88e52 61.40%,#f46d43 62.00%,#e64f35 62.58%,#d73027 63.14%,#be1826 63.69%,#a50026 64.22%,#a50026 100.48%)"></div>
<div class="r" style="background:linear-gradient(90deg,#006837 -0.47%,#006837 13.15%,#0d8044 15.39%,#1a9850 17.39%,#40aa5a 19.19%,#66bd63 20.84%,#66bd63 30.94%,#a6d96a 31.96%,#d9ef8b 32.93%,#d9ef8b 56.58%,#ecf7a5 57.35%,#ffffbf 58.08%,#fef0a5 58.80%,#fee08b 59.48%,#fec776 60.14%,#fdae61 60.78%,#f88e52 61.40%,#f46d43 62.00%,#e64f35 62.58%,#d73027 63.14%,#be1826 63.69%,#a50026 64.22%,#a50026 100.48%)"></div>
<div class="r" style="background:linear-gradient(90deg,#006837 -0.47%,#006837 13.15%,#0d8044 15.39%,#1a9850 17.39%,#40aa5a 19.19%,#66bd63 20.84%,#66bd63 31.11%,#a6d96a 32.13%,#d9ef8b 33.10%,#d9ef8b 56.58%,#ecf7a5 57.35%,#ffffbf 58.08%,#fef0a5 58.80%,#fee08b 59.48%,#fec776 60.14%,#fdae61 60.78%,#f88e52 61.40%,#f46d43 62.00%,#e64f35 62.58%,#d73027 63.14%,#be1826 63.69%,#a50026 64.22%,#a50026 100.48%)"></div>
<div class="r" style="background:linear-gradient(90deg,#006837 -0.47%,#006837 13.15%,#0d8044 15.39%,#1a9850 17.39%,#40aa5a 19.19%,#66bd63 20.84%,#66bd63 31.28%,#a6d96a 32.30%,#d9ef8b 33.27%,#d9ef8b 56.58%,#ecf7a5 57.35%,#ffffbf 58.08%,#fef0a5 58.80%,#fee08b 59.48%,#fec776 60.14%,#fdae61 60.78%,#f88e52 61.40%,#f46d43 62.00%,#e64f35 62.58%,#d73027 63.14%,#be1826 63.69%,#a50026 64.22%,#a50026 100.48%)"></div>
<div class="r" style="background:linear-gradient(90deg,#006837 -0.47%,#006837 13.15%,#0d8044 15.39%,#1a9850 17.39%,#40aa5a 19.19%,#66bd63 20.84%,#66bd63 31.45%,#a6d96a 32.47%,#d9ef8b 33.44%,#d9ef8b 56.58%,#ecf7a5 57.35%,#ffffbf 58.08%,#fef0a5 58.80%,#fee08b 59.48%,#fec776 60.14%,#fdae61 60.78%,#f88e52 61.40%,#f46d43 62.00%,#e64f35 62.58%,#d73027 63.14%,#be1826 63.69%,#a50026 64.22%,#a50026 100.48%)"></div>
<div class="r" style="background:linear-gradient(90deg,#006837 -0.47%,#006837 13.15%,#0d8044 15.39%,#1a9850 17.39%,#40aa5a 19.19%,#66bd63 20.84%,#66bd63 31.62%,#a6d96a 32.64%,#d9ef8b 33.61%,#d9ef8b 56.58%,#ecf7a5 57.35%,#ffffbf 58.08%,#fef0a5 58.80%,#fee08b 59.48%,#fec776 60.14%,#fdae61 60.78%,#f88e52 61.40%,#f46d43 62.00%,#e64f35 62.58%,#d73027 63.14%,#be1826 63.69%,#a50026 64.22%,#a50026 100.48%)"></div>
<div class="r" style="background:linear-gradient(90deg,#006837 -0.47%,#006837 13.15%,#0d8044 15.39%,#1a9850 17.39%,#40aa5a 19.19%,#66bd63 20.84%,#66bd63 31.79%,#a6d96a 32.81%,#d9ef8b 33.78%,#d9ef8b 56.58%,#ecf7a5 57.35%,#ffffbf 58.08%,#fef0a5 58.80%,#fee08b 59.48%,#fec776 60.14%,#fdae61 60.78%,#f88e52 61.40%,#f46d43 62.00%,#e64f35 62.58%,#d73027 63.14%,#be1826 63.69%,#a50026 64.22%,#a50026 100.48%)"></div>
<div class="r" style="background:linear-gradient(90deg,#006837 -0.47%,#006837 13.15%,#0d8044 15.39%,#1a9850 17.39%,#40aa5a 19.19%,#66bd63 20.84%,#66bd63 31.96%,#a6d96a 32.98%,#d9ef8b 33.94%,#d9ef8b 56.58%,#ecf7a5 57.35%,#ffffbf 58.08%,#fef0a5 58.80%,#fee08b 59.48%,#fec776 60.14%,#fdae61 60.78%,#f88e52 61.40%,#f46d43 62.00%,#e64f35 62.58%,#d73027 63.14%,#be1826 63.69%,#a50026 64.22%,#a50026 100.48%)"></div>
<div class="r" style="background:linear-gradient(90deg,#006837 -0.47%,#006837 13.15%,#0d8044 15.39%,#1a9850 17.39%,#40aa5a 19.19%,#66bd63 20.84%,#66bd63 32.13%,#a6d96a 33.15%,#d9ef8b 34.11%,#d9ef8b 56.58%,#ecf7a5 57.35%,#ffffbf 58.08%,#fef0a5 58.80%,#fee08b 59.48%,#fec776 60.14%,#fdae61 60.78%,#f88e52 61.40%,#f46d43 62.00%,#e64f35 62.58%,#d73027 63.14%,#be1826 63.69%,#a50026 64.22%,#a50026 100.48%)"></div>
<div class="r" style="background:linear-gradient(90deg,#006837 -0.47%,#006837 13.15%,#0d8044 15.39%,#1a9850 17.39%,#40aa5a 19.19%,#66bd63 20.84%,#66bd63 32.30%,#a6d96a 33.32%,#d9ef8b 34.28%,#d9ef8b 56.58%,#ecf7a5 57.35%,#ffffbf 58.08%,#fef0a5 58.80%,#fee08b 59.48%,#fec776 60.14%,#fdae61 60.78%,#f88e52 61.40%,#f46d43 62.00%,#e64f35 62.58%,#d73027 63.14%,#be1826 63.69%,#a50026 64.22%,#a50026 100.48%)"></div>
<div class="r" style="background:linear-gradient(90deg,#006837 -0.47%,#006837 13.15%,#0d8044 15.39%,#1a9850 17.39%,#40aa5a 19.19%,#66bd63 20.84%,#66bd63 32.47%,#a6d96a 33.49%,#d9ef8b 34.45%,#d9ef8b 56.58%,#ecf7a5 57.35%,#ffffbf 58.08%,#fef0a5 58.80%,#fee08b 59.48%,#fec776 60.14%,#fdae61 60.78%,#f88e52 61.40%,#f46d43 62.00%,#e64f35 62.58%,#d73027 63.14%,#be1826 63.69%,#a50026 64.22%,#a50026 100.48%)"></div>
<div class="r" style="background:linear-gradient(90deg,#006837 -0.47%,#006837 13.15%,#0d8044 15.39%,#1a9850 17.39%,#40aa5a 19.19%,#66bd63 20.84%,#66bd63 32.64%,#a6d96a 33.65%,#d9ef8b 34.62%,#d9ef8b 56.58%,#ecf7a5 57.35%,#ffffbf 58.08%,#fef0a5 58.80%,#fee08b 59.48%,#fec776 60.14%,#fdae61 60.78%,#f88e52 61.40%,#f46d43 62.00%,#e64f35 62.58%,#d73027 63.14%,#be1826 63.69%,#a50026 64.22%,#a50026 100.48%)"></div>
<div class="r" style="background:linear-gradient(90deg,#006837 -0.47%,#006837 13.15%,#0d8044 15.39%,#1a9850 17.39%,#40aa5a 19.19%,#66bd63 20.84%,#66bd63 32.81%,#a6d96a 33.82%,#d9ef8b 34.79%,#d9ef8b 56.58%,#ecf7a5 57.35%,#ffffbf 58.08%,#fef0a5 58.80%,#fee08b 59.48%,#fec776 60.14%,#fdae61 60.78%,#f88e52 61.40%,#f46d43 62.00%,#e64f35 62.58%,#d73027 63.14%,#be1826 63.69%,#a50026 64.22%,#a50026 100.48%)"></div>
<div class="r" style="background:linear-gradient(90deg,#006837 -0.47%,#006837 13.15%,#0d8044 15.39%,#1a9850 17.39%,#40aa5a 19.19%,#66bd63 20.84%,#66bd63 32.97%,#a6d96a 33.99%,#d9ef8b 34.96%,#d9ef8b 56.58%,#ecf7a5 57.35%,#ffffbf 58.08%,#fef0a5 58.80%,#fee08b 59.48%,#fec776 60.14%,#fdae61 60.78%,#f88e52 61.40%,#f46d43 62.00%,#e64f35 62.58%,#d73027 63.14%,#be1826 63.69%,#a50026 64.22%,#a50026 100.48%)"></div>
<div class="r" style="background:linear-gradient(90deg,#006837 -0.47%,#006837 13.15%,#0d8044 15.39%,#1a9850 17.39%,#40aa5a 19.19%,#66bd63 20.84%,#66bd63 33.14%,#a6d96a 34.16%,#d9ef8b 35.13%,#d9ef8b 56.58%,#ecf7a5 57.35%,#ffffbf 58.08%,#fef0a5 58.80%,#fee08b 59.48%,#fec776 60.14%,#fdae61 60.78%,#f88e52 61.40%,#f46d43 62.00%,#e64f35 62.58%,#d73027 63.14%,#be1826 63.69%,#a50026 64.22%,#a50026 100.48%)"></div>
<div class="r" style="background:linear-gradient(90deg,#006837 -0.47%,#006837 13.15%,#0d8044 15.39%,#1a9850 17.39%,#40aa5a 19.19%,#66bd63 20.84%,#66bd63 33.31%,#a6d96a 34.33%,#d9ef8b 35.30%,#d9ef8b 56.58%,#ecf7a5 57.35%,#ffffbf 58.08%,#fef0a5 58.80%,#fee08b 59.48%,#fec776 60.14%,#fdae61 60.78%,#f88e52 61.40%,#f46d43 62.00%,#e64f35 62.58%,#d73027 63.14%,#be1826 63.69%,#a50026 64.22%,#a50026 100.48%)"></div>
<div class="r" style="background:linear-gradient(90deg,#006837 -0.47%,#006837 13.15%,#0d8044 15.39%,#1a9850 17.39%,#40aa5a 19.19%,#66bd63 20.84%,#66bd63 33.48%,#a6d96a 34.50%,#d9ef8b 35.47%,#d9ef8b 56.58%,#ecf7a5 57.35%,#ffffbf 58.08%,#fef0a5 58.80%,#fee08b 59.48%,#fec776 60.14%,#fdae61 60.78%,#f88e52 61.40%,#f46d43 62.00%,#e64f35 62.58%,#d73027 63.14%,#be1826 63.69%,#a50026 64.22%,#a50026 100.48%)"></div>
<div class="r" style="background:linear-gradient(90deg,#006837 -0.47%,#006837 13.15%,#0d8044 15.39%,#1a9850 17.39%,#40aa5a 19.19%,#66bd63 20.84%,#66bd63 33.65%,#a6d96a 34.67%,#d9ef8b 35.64%,#d9ef8b 56.58%,#ecf7a5 57.35%,#ffffbf 58.08%,#fef0a5 58.80%,#fee08b 59.48%,#fec776 60.14%,#fdae61 60.78%,#f88e52 61.40%,#f46d43 62.00%,#e64f35 62.58%,#d73027 63.14%,#be1826 63.69%,#a50026 64.22%,#a50026 100.48%)"></div>
<div class="r" style="background:linear-gradient(90deg,#006837 -0.47%,#006837 13.15%,#0d8044 15.39%,#1a9850 17.39%,#40aa5a 19.19%,#66bd63 20.84%,#66bd63 33.82%,#a6d96a 34.84%,#d9ef8b 35.81%,#d9ef8b 56.58%,#ecf7a5 57.35%,#ffffbf 58.08%,#fef0a5 58.80%,#fee08b 59.48%,#fec776 60.14%,#fdae61 60.78%,#f88e52 61.40%,#f46d43 62.00%,#e64f35 62.58%,#d73027 63.14%,#be1826 63.69%,#a50026 64.22%,#a50026 100.48%)"></div>
<div class="r" style="background:linear-gradient(90deg,#006837 -0.47%,#006837 13.15%,#0d8044 15.39%,#1a9850 17.39%,#40aa5a 19.19%,#66bd63 20.84%,#66bd63 33.99%,#a6d96a 35.01%,#d9ef8b 35.97%,#d9ef8b 56.58%,#ecf7a5 57.35%,#ffffbf 58.08%,#fef0a5 58.80%,#fee08b 59.48%,#fec776 60.14%,#fdae61 60.78%,#f88e52 61.40%,#f46d43 62.00%,#e64f35 62.58%,#d73027 63.14%,#be1826 63.69%,#a50026 64.22%,#a50026 100.48%)"></div>
<div class="r" style="background:linear-gradient(90deg,#006837 -0.47%,#006837 13.15%,#0d8044 15.39%,#1a9850 17.39%,#40aa5a 19.19%,#66bd63 20.84%,#66bd63 34.16%,#a6d96a 35.18%,#d9ef8b 36.14%,#d9ef8b 56.58%,#ecf7a5 57.35%,#ffffbf 58.08%,#fef0a5 58.80%,#fee08b 59.48%,#fec776 60.14%,#fdae61 60.78%,#f88e52 61.40%,#f46d43 62.00%,#e64f35 62.58%,#d73027 63.14%,#be1826 63.69%,#a50026 64.22%,#a50026 100.48%)"></div>
<div class="r" style="background:linear-gradient(90deg,#006837 -0.47%,#006837 13.15%,#0d8044 15.39%,#1a9850 17.39%,#40aa5a 19.19%,#66bd63 20.84%,#66bd63 34.32%,#a6d96a 35.33%,#d9ef8b 36.29%,#d9ef8b 56.58%,#ecf7a5 57.35%,#ffffbf 58.08%,#fef0a5 58.80%,#fee08b 59.48%,#fec776 60.14%,#fdae61 60.78%,#f88e52 61.40%,#f46d43 62.00%,#e64f35 62.58%,#d73027 63.14%,#be1826 63.69%,#a50026 64.22%,#a50026 100.48%)"></div>
<div class="r" style="background:linear-gradient(90deg,#006837 -0.47%,#006837 13.15%,#0d8044 15.39%,#1a9850 17.39%,#40aa5a 19.19%,#66bd63 20.84%,#66bd63 34.46%,#a6d96a 35.46%,#d9ef8b 36.41%,#d9ef8b 56.58%,#ecf7a5 57.35%,#ffffbf 58.08%,#fef0a5 58.80%,#fee08b 59.48%,#fec776 60.14%,#fdae61 60.78%,#f88e52 61.40%,#f46d43 62.00%,#e64f35 62.58%,#d73027 63.14%,#be1826 63.69%,#a50026 64.22%,#a50026 100.48%)"></div>
<div class="r" style="background:linear-gradient(90deg,#006837 -0.47%,#006837 13.15%,#0d8044 15.39%,#1a9850 17.39%,#40aa5a 19.19%,#66bd63 20.84%,#66bd63 34.61%,#a6d96a 35.60%,#d9ef8b 36.54%,#d9ef8b 56.58%,#ecf7a5 57.35%,#ffffbf 58.08%,#fef0a5 58.80%,#fee08b 59.48%,#fec776 60.14%,#fdae61 60.78%,#f88e52 61.40%,#f46d43 62.00%,#e64f35 62.58%,#d73027 63.14%,#be1826 63.69%,#a50026 64.22%,#a50026 100.48%)"></div>
<div class="r" style="background:linear-gradient(90deg,#006837 -0.47%,#006837 13.15%,#0d8044 15.39%,#1a9850 17.39%,#40aa5a 19.19%,#66bd63 20.84%,#66bd63 34.76%,#a6d96a 35.73%,#d9ef8b 36.66%,#d9ef8b 56.58%,#ecf7a5 57.35%,#ffffbf 58.08%,#fef0a5 58.80%,#fee08b 59.48%,#fec776 60.14%,#fdae61 60.78%,#f88e52 61.40%,#f46d43 62.00%,#e64f35 62.58%,#d73027 63.14%,#be1826 63.69%,#a50026 64.22%,#a50026 100.48%)"></div>
<div class="r" style="background:linear-gradient(90deg,#006837 -0.47%,#006837 13.15%,#0d8044 15.39%,#1a9850 17.39%,#40aa5a 19.19%,#66bd63 20.84%,#66bd63 34.90%,#a6d96a 35.87%,#d9ef8b 36.79%,#d9ef8b 56.58%,#ecf7a5 57.35%,#ffffbf 58.08%,#fef0a5 58.80%,#fee08b 59.48%,#fec776 60.14%,#fdae61 60.78%,#f88e52 61.40%,#f46d43 62.00%,#e64f35 62.58%,#d73027 63.14%,#be1826 63.69%,#a50026 64.22%,#a50026 100.48%)"></div>
<div class="r" style="background:linear-gradient(90deg,#006837 -0.47%,#006837 13.15%,#0d8044 15.39%,#1a9850 17.39%,#40aa5a 19.19%,#66bd63 20.84%,#66bd63 35.05%,#a6d96a 36.00%,#d9ef8b 36.91%,#d9ef8b 56.58%,#ecf7a5 57.35%,#ffffbf 58.08%,#fef0a5 58.80%,#fee08b 59.48%,#fec776 60.14%,#fdae61 60.78%,#f88e52 61.40%,#f46d43 62.00%,#e64f35 62.58%,#d73027 63.14%,#be1826 63.69%,#a50026 64.22%,#a50026 100.48%)"></div>
<div class="r" style="background:linear-gradient(90deg,#006837 -0.47%,#006837 13.15%,#0d8044 15.39%,#1a9850 17.39%,#40aa5a 19.19%,#66bd63 20.84%,#66bd63 35.20%,#a6d96a 36.14%,#d9ef8b 37.03%,#d9ef8b 56.58%,#ecf7a5 57.35%,#ffffbf 58.08%,#fef0a5 58.80%,#fee08b 59.48%,#fec776 60.14%,#fdae61 60.78%,#f88e52 61.40%,#f46d43 62.00%,#e64f35 62.58%,#d73027 63.14%,#be1826 63.69%,#a50026 64.22%,#a50026 100.48%)"></div>
<div class="r" style="background:linear-gradient(90deg,#006837 -0.47%,#006837 13.15%,#0d8044 15.39%,#1a9850 17.39%,#40aa5a 19.19%,#66bd63 20.84%,#66bd63 35.34%,#a6d96a 36.27%,#d9ef8b 37.16%,#d9ef8b 56.58%,#ecf7a5 57.35%,#ffffbf 58.08%,#fef0a5 58.80%,#fee08b 59.48%,#fec776 60.14%,#fdae61 60.78%,#f88e52 61.40%,#f46d43 62.00%,#e64f35 62.58%,#d73027 63.14%,#be1826 63.69%,#a50026 64.22%,#a50026 100.48%)"></div>
<div class="r" style="background:linear-gradient(90deg,#006837 -0.47%,#006837 13.15%,#0d8044 15.39%,#1a9850 17.39%,#40aa5a 19.19%,#66bd63 20.84%,#66bd63 35.49%,#a6d96a 36.41%,#d9ef8b 37.28%,#d9ef8b 56.58%,#ecf7a5 57.35%,#ffffbf 58.08%,#fef0a5 58.80%,#fee08b 59.48%,#fec776 60.14%,#fdae61 60.78%,#f88e52 61.40%,#f46d43 62.00%,#e64f35 62.58%,#d73027 63.14%,#be1826 63.69%,#a50026 64.22%,#a50026 100.48%)"></div>
<div class="r" style="background:linear-gradient(90deg,#006837 -0.47%,#006837 13.15%,#0d8044 15.39%,#1a9850 17.39%,#40aa5a 19.19%,#66bd63 20.84%,#66bd63 35.64%,#a6d96a 36.54%,#d9ef8b 37.41%,#d9ef8b 56.58%,#ecf7a5 57.35%,#ffffbf 58.08%,#fef0a5 58.80%,#fee08b 59.48%,#fec776 60.14%,#fdae61 60.78%,#f88e52 61.40%,#f46d43 62.00%,#e64f35 62.58%,#d73027 63.14%,#be1826 63.69%,#a50026 64.22%,#a50026 100.48%)"></div>
<div class="r" style="background:linear-gradient(90deg,#006837 -0.47%,#006837 13.15%,#0d8044 15.39%,#1a9850 17.39%,#40aa5a 19.19%,#66bd63 20.84%,#66bd63 35.78%,#a6d96a 36.68%,#d9ef8b 37.53%,#d9ef8b 56.58%,#ecf7a5 57.35%,#ffffbf 58.08%,#fef0a5 58.80%,#fee08b 59.48%,#fec776 60.14%,#fdae61 60.78%,#f88e52 61.40%,#f46d43 62.00%,#e64f35 62.58%,#d73027 63.14%,#be1826 63.69%,#a50026 64.22%,#a50026 100.48%)"></div>
<div class="r" style="background:linear-gradient(90deg,#006837 -0.47%,#006837 13.15%,#0d8044 15.39%,#1a9850 17.39%,#40aa5a 19.19%,#66bd63 20.84%,#66bd63 35.93%,#a6d96a 36.81%,#d9ef8b 37.66%,#d9ef8b 56.58%,#ecf7a5 57.35%,#ffffbf 58.08%,#fef0a5 58.80%,#fee08b 59.48%,#fec776 60.14%,#fdae61 60.78%,#f88e52 61.40%,#f46d43 62.00%,#e64f35 62.58%,#d73027 63.14%,#be1826 63.69%,#a50026 64.22%,#a50026 100.48%)"></div>
<div class="r" style="background:linear-gradient(90deg,#006837 -0.47%,#006837 13.15%,#0d8044 15.39%,#1a9850 17.39%,#40aa5a 19.19%,#66bd63 20.84%,#66bd63 36.08%,#a6d96a 36.95%,#d9ef8b 37.78%,#d9ef8b 56.58%,#ecf7a5 57.35%,#ffffbf 58.08%,#fef0a5 58.80%,#fee08b 59.48%,#fec776 60.14%,#fdae61 60.78%,#f88e52 61.40%,#f46d43 62.00%,#e64f35 62.58%,#d73027 63.14%,#be1826 63.69%,#a50026 64.22%,#a50026 100.48%)"></div>
<div class="r" style="background:linear-gradient(90deg,#006837 -0.47%,#006837 13.15%,#0d8044 15.39%,#1a9850 17.39%,#40aa5a 19.19%,#66bd63 20.84%,#66bd63 36.22%,#a6d96a 37.08%,#d9ef8b 37.90%,#d9ef8b 56.58%,#ecf7a5 57.35%,#ffffbf 58.08%,#fef0a5 58.80%,#fee08b 59.48%,#fec776 60.14%,#fdae61 60.78%,#f88e52 61.40%,#f46d43 62.00%,#e64f35 62.58%,#d73027 63.14%,#be1826 63.69%,#a50026 64.22%,#a50026 100.48%)"></div>
<div class="r" style="background:linear-gradient(90deg,#006837 -0.47%,#006837 13.15%,#0d8044 15.39%,#1a9850 17.39%,#40aa5a 19.19%,#66bd63 20.84%,#66bd63 36.37%,#a6d96a 37.22%,#d9ef8b 38.03%,#d9ef8b 56.58%,#ecf7a5 57.35%,#ffffbf 58.08%,#fef0a5 58.80%,#fee08b 59.48%,#fec776 60.14%,#fdae61 60.78%,#f88e52 61.40%,#f46d43 62.00%,#e64f35 62.58%,#d73027 63.14%,#be1826 63.69%,#a50026 64.22%,#a50026 100.48%)"></div>
<div class="r" style="background:linear-gradient(90deg,#006837 -0.47%,#006837 13.15%,#0d8044 15.39%,#1a9850 17.39%,#40aa5a 19.19%,#66bd63 20.84%,#66bd63 36.52%,#a6d96a 37.35%,#d9ef8b 38.15%,#d9ef8b 56.58%,#ecf7a5 57.35%,#ffffbf 58.08%,#fef0a5 58.80%,#fee08b 59.48%,#fec776 60.14%,#fdae61 60.78%,#f88e52 61.40%,#f46d43 62.00%,#e64f35 62.58%,#d73027 63.14%,#be1826 63.69%,#a50026 64.22%,#a50026 100.48%)"></div>
<div class="r" style="background:linear-gradient(90deg,#006837 -0.47%,#006837 13.15%,#0d8044 15.39%,#1a9850 17.39%,#40aa5a 19.19%,#66bd63 20.84%,#66bd63 36.66%,#a6d96a 37.49%,#d9ef8b 38.28%,#d9ef8b 56.58%,#ecf7a5 57.35%,#ffffbf 58.08%,#fef0a5 58.80%,#fee08b 59.48%,#fec776 60.14%,#fdae61 60.78%,#f88e52 61.40%,#f46d43 62.00%,#e64f35 62.58%,#d73027 63.14%,#be1826 63.69%,#a50026 64.22%,#a50026 100.48%)"></div>
<div class="r" style="background:linear-gradient(90deg,#006837 -0.47%,#006837 13.15%,#0d8044 15.39%,#1a9850 17.39%,#40aa5a 19.19%,#66bd63 20.84%,#66bd63 36.81%,#a6d96a 37.62%,#d9ef8b 38.40%,#d9ef8b 56.58%,#ecf7a5 57.35%,#ffffbf 58.08%,#fef0a5 58.80%,#fee08b 59.48%,#fec776 60.14%,#fdae61 60.78%,#f88e52 61.40%,#f46d43 62.00%,#e64f35 62.58%,#d73027 63.14%,#be1826 63.69%,#a50026 64.22%,#a50026 100.48%)"></div>
<div class="r" style="background:linear-gradient(90deg,#006837 -0.47%,#006837 13.15%,#0d8044 15.39%,#1a9850 17.39%,#40aa5a 19.19%,#66bd63 20.84%,#66bd63 36.96%,#a6d96a 37.76%,#d9ef8b 38.52%,#d9ef8b 56.58%,#ecf7a5 57.35%,#ffffbf 58.08%,#fef0a5 58.80%,#fee08b 59.48%,#fec776 60.14%,#fdae61 60.78%,#f88e52 61.40%,#f46d43 62.00%,#e64f35 62.58%,#d73027 63.14%,#be1826 63.69%,#a50026 64.22%,#a50026 100.48%)"></div>
<div class="r" style="background:linear-gradient(90deg,#006837 -0.47%,#006837 13.15%,#0d8044 15.39%,#1a9850 17.39%,#40aa5a 19.19%,#66bd63 20.84%,#66bd63 37.10%,#a6d96a 37.89%,#d9ef8b 38.65%,#d9ef8b 56.58%,#ecf7a5 57.35%,#ffffbf 58.08%,#fef0a5 58.80%,#fee08b 59.48%,#fec776 60.14%,#fdae61 60.78%,#f88e52 61.40%,#f46d43 62.00%,#e64f35 62.58%,#d73027 63.14%,#be1826 63.69%,#a50026 64.22%,#a50026 100.48%)"></div>
<div class="r" style="background:linear-gradient(90deg,#006837 -0.47%,#006837 13.15%,#0d8044 15.39%,#1a9850 17.39%,#40aa5a 19.19%,#66bd63 20.84%,#66bd63 37.25%,#a6d96a 38.03%,#d9ef8b 38.77%,#d9ef8b 56.58%,#ecf7a5 57.35%,#ffffbf 58.08%,#fef0a5 58.80%,#fee08b 59.48%,#fec776 60.14%,#fdae61 60.78%,#f88e52 61.40%,#f46d43 62.00%,#e64f35 62.58%,#d73027 63.14%,#be1826 63.69%,#a50026 64.22%,#a50026 100.48%)"></div>
<div class="r" style="background:linear-gradient(90deg,#006837 -0.47%,#006837 13.15%,#0d8044 15.39%,#1a9850 17.39%,#40aa5a 19.19%,#66bd63 20.84%,#66bd63 37.40%,#a6d96a 38.16%,#d9ef8b 38.90%,#d9ef8b 56.58%,#ecf7a5 57.35%,#ffffbf 58.08%,#fef0a5 58.80%,#fee08b 59.48%,#fec776 60.14%,#fdae61 60.78%,#f88e52 61.40%,#f46d43 62.00%,#e64f35 62.58%,#d73027 63.14%,#be1826 63.69%,#a50026 64.22%,#a50026 100.48%)"></div>
<div class="r" style="background:linear-gradient(90deg,#006837 -0.47%,#006837 13.15%,#0d8044 15.39%,#1a9850 17.39%,#40aa5a 19.19%,#66bd63 20.84%,#66bd63 37.46%,#a6d96a 38.21%,#d9ef8b 38.93%,#dbf08d 38.97%,#dbf08d 56.58%,#ecf7a5 57.29%,#ffffbf 58.04%,#fef0a5 58.76%,#fee08b 59.46%,#fec776 60.13%,#fdae61 60.78%,#f88e52 61.41%,#f46d43 62.02%,#e64f35 62.60%,#d73027 63.17%,#be1826 63.73%,#a70226 64.22%,#a70226 100.48%)"></div>
<div class="r" style="background:linear-gradient(90deg,#006837 -0.47%,#006837 13.15%,#0d8044 15.39%,#1a9850 17.39%,#40aa5a 19.19%,#66bd63 20.84%,#66bd63 37.44%,#a6d96a 38.18%,#d9ef8b 38.89%,#def192 38.98%,#def192 56.58%,#ecf7a5 57.16%,#ffffbf 57.95%,#fef0a5 58.70%,#fee08b 59.42%,#fec776 60.11%,#fdae61 60.78%,#f88e52 61.43%,#f46d43 62.05%,#e64f35 62.66%,#d73027 63.25%,#be1826 63.82%,#ac0726 64.22%,#ac0726 100.48%)"></div>
<div class="r" style="background:linear-gradient(90deg,#006837 -0.47%,#006837 13.15%,#0d8044 15.39%,#1a9850 17.39%,#40aa5a 19.19%,#66bd63 20.84%,#66bd63 37.43%,#a6d96a 38.15%,#d9ef8b 38.84%,#e2f397 38.99%,#e2f397 56.58%,#ecf7a5 57.03%,#ffffbf 57.85%,#fef0a5 58.62%,#fee08b 59.37%,#fec776 60.09%,#fdae61 60.78%,#f88e52 61.45%,#f46d43 62.09%,#e64f35 62.72%,#d73027 63.32%,#be1826 63.91%,#b00b26 64.22%,#b00b26 100.48%)"></div>
<div class="r" style="background:linear-gradient(90deg,#006837 -0.47%,#006837 13.15%,#0d8044 15.39%,#1a9850 17.39%,#40aa5a 19.19%,#66bd63 20.84%,#66bd63 37.41%,#a6d96a 38.12%,#d9ef8b 38.80%,#e5f49c 39.01%,#e5f49c 56.58%,#ecf7a5 56.89%,#ffffbf 57.74%,#fef0a5 58.55%,#fee08b 59.32%,#fec776 60.07%,#fdae61 60.78%,#f88e52 61.47%,#f46d43 62.14%,#e64f35 62.78%,#d73027 63.40%,#be1826 64.00%,#b50f26 64.22%,#b50f26 100.48%)"></div>
<div class="r" style="background:linear-gradient(90deg,#006837 -0.47%,#006837 13.15%,#0d8044 15.39%,#1a9850 17.39%,#40aa5a 19.19%,#66bd63 20.84%,#66bd63 37.39%,#a6d96a 38.09%,#d9ef8b 38.76%,#e9f6a0 39.02%,#e9f6a0 56.58%,#ecf7a5 56.74%,#ffffbf 57.62%,#fef0a5 58.46%,#fee08b 59.27%,#fec776 60.04%,#fdae61 60.78%,#f88e52 61.50%,#f46d43 62.18%,#e64f35 62.85%,#d73027 63.49%,#be1826 64.11%,#b91426 64.22%,#b91426 100.48%)"></div>
<div class="r" style="background:linear-gradient(90deg,#006837 -0.47%,#006837 13.15%,#0d8044 15.39%,#1a9850 17.39%,#40aa5a 19.19%,#66bd63 20.84%,#66bd63 37.38%,#a6d96a 38.06%,#d9ef8b 38.72%,#ecf7a5 39.04%,#ecf7a5 56.58%,#ffffbf 57.50%,#fef0a5 58.37%,#fee08b 59.21%,#fec776 60.01%,#fdae61 60.78%,#f88e52 61.52%,#f46d43 62.23%,#e64f35 62.92%,#d73027 63.58%,#be1826 64.22%,#be1826 100.48%)"></div>
<div class="r" style="background:linear-gradient(90deg,#006837 -0.47%,#006837 13.15%,#0d8044 15.39%,#1a9850 17.39%,#40aa5a 19.19%,#66bd63 20.84%,#66bd63 37.36%,#a6d96a 38.03%,#d9ef8b 38.68%,#eff8aa 39.05%,#eff8aa 56.58%,#ffffbf 57.36%,#fef0a5 58.27%,#fee08b 59.15%,#fec776 59.98%,#fdae61 60.78%,#f88e52 61.55%,#f46d43 62.28%,#e64f35 62.99%,#d73027 63.68%,#c31c27 64.22%,#c31c27 100.48%)"></div>
<div class="r" style="background:linear-gradient(90deg,#006837 -0.47%,#006837 13.15%,#0d8044 15.39%,#1a9850 17.39%,#40aa5a 19.19%,#66bd63 20.84%,#66bd63 37.34%,#a6d96a 38.00%,#d9ef8b 38.64%,#f3faae 39.07%,#f3faae 56.58%,#ffffbf 57.21%,#fef0a5 58.17%,#fee08b 59.08%,#fec776 59.95%,#fdae61 60.78%,#f88e52 61.58%,#f46d43 62.34%,#e64f35 63.08%,#d73027 63.78%,#c72127 64.22%,#c72127 100.48%)"></div>
<div class="r" style="background:linear-gradient(90deg,#006837 -0.47%,#006837 13.15%,#0d8044 15.39%,#1a9850 17.39%,#40aa5a 19.19%,#66bd63 20.84%,#66bd63 37.33%,#a6d96a 37.98%,#d9ef8b 38.61%,#f6fbb3 39.08%,#f6fbb3 56.58%,#ffffbf 57.05%,#fef0a5 58.05%,#fee08b 59.01%,#fec776 59.92%,#fdae61 60.78%,#f88e52 61.61%,#f46d43 62.40%,#e64f35 63.16%,#d73027 63.89%,#cc2527 64.22%,#cc2527 100.48%)"></div>
<div class="r" style="background:linear-gradient(90deg,#006837 -0.47%,#006837 13.15%,#0d8044 15.39%,#1a9850 17.39%,#40aa5a 19.19%,#66bd63 20.84%,#66bd63 37.31%,#a6d96a 37.95%,#d9ef8b 38.58%,#fafdb8 39.10%,#fafdb8 56.58%,#ffffbf 56.87%,#fef0a5 57.93%,#fee08b 58.93%,#fec776 59.88%,#fdae61 60.78%,#f88e52 61.64%,#f46d43 62.47%,#e64f35 63.26%,#d73027 64.02%,#d02927 64.22%,#d02927 100.48%)"></div>
<div class="r" style="background:linear-gradient(90deg,#006837 -0.47%,#006837 13.15%,#0d8044 15.39%,#1a9850 17.39%,#40aa5a 19.19%,#66bd63 20.84%,#66bd63 37.29%,#a6d96a 37.93%,#d9ef8b 38.54%,#fdfebd 39.11%,#fdfebd 56.58%,#ffffbf 56.68%,#fef0a5 57.79%,#fee08b 58.84%,#fec776 59.84%,#fdae61 60.78%,#f88e52 61.68%,#f46d43 62.54%,#e64f35 63.36%,#d73027 64.15%,#d52e27 64.22%,#d52e27 100.48%)"></div>
<div class="r" style="background:linear-gradient(90deg,#006837 -0.47%,#006837 13.15%,#0d8044 15.39%,#1a9850 17.39%,#40aa5a 19.19%,#66bd63 20.84%,#66bd63 37.27%,#a6d96a 37.90%,#d9ef8b 38.51%,#ffffbf 39.10%,#fffebd 39.13%,#fffebd 56.58%,#fef0a5 57.64%,#fee08b 58.75%,#fec776 59.79%,#fdae61 60.78%,#f88e52 61.72%,#f46d43 62.62%,#e64f35 63.47%,#d83328 64.22%,#d83328 100.48%)"></div>
<div class="r" style="background:linear-gradient(90deg,#006837 -0.47%,#006837 13.15%,#0d8044 15.39%,#1a9850 17.39%,#40aa5a 19.19%,#66bd63 20.84%,#66bd63 37.26%,#a6d96a 37.88%,#d9ef8b 38.48%,#ffffbf 39.06%,#fffbb8 39.14%,#fffbb8 56.58%,#fef0a5 57.47%,#fee08b 58.64%,#fec776 59.74%,#fdae61 60.78%,#f88e52 61.77%,#f46d43 62.70%,#e64f35 63.60%,#db382b 64.22%,#db382b 100.48%)"></div>
<div class="r" style="background:linear-gradient(90deg,#006837 -0.47%,#006837 13.15%,#0d8044 15.39%,#1a9850 17.39%,#40aa5a 19.19%,#66bd63 20.84%,#66bd63 37.24%,#a6d96a 37.86%,#d9ef8b 38.45%,#ffffbf 39.03%,#fff8b3 39.16%,#fff8b3 56.58%,#fef0a5 57.29%,#fee08b 58.53%,#fec776 59.69%,#fdae61 60.78%,#f88e52 61.82%,#f46d43 62.80%,#e64f35 63.73%,#de3e2d 64.22%,#de3e2d 100.48%)"></div>
<div class="r" style="background:linear-gradient(90deg,#006837 -0.47%,#006837 13.15%,#0d8044 15.39%,#1a9850 17.39%,#40aa5a 19.19%,#66bd63 20.84%,#66bd63 37.22%,#a6d96a 37.83%,#d9ef8b 38.42%,#ffffbf 38.99%,#fff5ae 39.17%,#fff5ae 56.58%,#fef0a5 57.08%,#fee08b 58.40%,#fec776 59.63%,#fdae61 60.78%,#f88e52 61.87%,#f46d43 62.90%,#e64f35 63.88%,#e04330 64.22%,#e04330 100.48%)"></div>
<div class="r" style="background:linear-gradient(90deg,#006837 -0.47%,#006837 13.15%,#0d8044 15.39%,#1a9850 17.39%,#40aa5a 19.19%,#66bd63 20.84%,#66bd63 37.21%,#a6d96a 37.81%,#d9ef8b 38.39%,#ffffbf 38.96%,#fff2aa 39.19%,#fff2aa 56.58%,#fef0a5 56.84%,#fee08b 58.25%,#fec776 59.56%,#fdae61 60.78%,#f88e52 61.93%,#f46d43 63.01%,#e64f35 64.04%,#e34932 64.22%,#e34932 100.48%)"></div>
<div class="r" style="background:linear-gradient(90deg,#006837 -0.47%,#006837 13.15%,#0d8044 15.39%,#1a9850 17.39%,#40aa5a 19.19%,#66bd63 20.84%,#66bd63 37.19%,#a6d96a 37.79%,#d9ef8b 38.36%,#ffffbf 38.93%,#fef0a5 39.20%,#fef0a5 56.58%,#fee08b 58.08%,#fec776 59.48%,#fdae61 60.78%,#f88e52 62.00%,#f46d43 63.14%,#e64f35 64.22%,#e64f35 100.48%)"></div>
<div class="r" style="background:linear-gradient(90deg,#006837 -0.47%,#006837 13.15%,#0d8044 15.39%,#1a9850 17.39%,#40aa5a 19.19%,#66bd63 20.84%,#66bd63 37.17%,#a6d96a 37.76%,#d9ef8b 38.34%,#ffffbf 38.89%,#feeda0 39.21%,#feeda0 56.58%,#fee08b 57.90%,#fec776 59.39%,#fdae61 60.78%,#f88e52 62.07%,#f46d43 63.28%,#e85438 64.22%,#e85438 100.48%)"></div>
<div class="r" style="background:linear-gradient(90deg,#006837 -0.47%,#006837 13.15%,#0d8044 15.39%,#1a9850 17.39%,#40aa5a 19.19%,#66bd63 20.84%,#66bd63 37.16%,#a6d96a 37.74%,#d9ef8b 38.31%,#ffffbf 38.86%,#feea9c 39.23%,#feea9c 56.58%,#fee08b 57.68%,#fec776 59.29%,#fdae61 60.78%,#f88e52 62.16%,#f46d43 63.44%,#eb5a3a 64.22%,#eb5a3a 100.48%)"></div>
<div class="r" style="background:linear-gradient(90deg,#006837 -0.47%,#006837 13.15%,#0d8044 15.39%,#1a9850 17.39%,#40aa5a 19.19%,#66bd63 20.84%,#66bd63 37.14%,#a6d96a 37.72%,#d9ef8b 38.28%,#ffffbf 38.83%,#fee797 39.24%,#fee797 56.58%,#fee08b 57.43%,#fec776 59.18%,#fdae61 60.78%,#f88e52 62.26%,#f46d43 63.63%,#ed5f3d 64.22%,#ed5f3d 100.48%)"></div>
<div class="r" style="background:linear-gradient(90deg,#006837 -0.47%,#006837 13.15%,#0d8044 15.39%,#1a9850 17.39%,#40aa5a 19.19%,#66bd63 20.84%,#66bd63 37.12%,#a6d96a 37.70%,#d9ef8b 38.26%,#ffffbf 38.80%,#fee492 39.26%,#fee492 56.58%,#fee08b 57.13%,#fec776 59.05%,#fdae61 60.78%,#f88e52 62.37%,#f46d43 63.84%,#f0653f 64.22%,#f0653f 100.48%)"></div>
<div class="r" style="background:linear-gradient(90deg,#006837 -0.47%,#006837 13.15%,#0d8044 15.39%,#1a9850 17.39%,#40aa5a 19.19%,#66bd63 20.84%,#66bd63 37.11%,#a6d96a 37.68%,#d9ef8b 38.23%,#ffffbf 38.77%,#fee18d 39.27%,#fee18d 56.58%,#fee08b 56.78%,#fec776 58.89%,#fdae61 60.78%,#f88e52 62.50%,#f46d43 64.08%,#f36a42 64.22%,#f36a42 100.48%)"></div>
<div class="r" style="background:linear-gradient(90deg,#006837 -0.47%,#006837 13.37%,#0d8044 15.58%,#1a9850 17.56%,#40aa5a 19.35%,#66bd63 20.98%,#66bd63 37.15%,#a6d96a 37.70%,#d9ef8b 38.24%,#ffffbf 38.77%,#fee08b 39.28%,#fee08b 43.50%,#fee08b 43.60%,#fee08b 56.78%,#fec776 58.98%,#fdae61 60.95%,#f88e52 62.73%,#f46d43 64.36%,#f46d43 100.48%)"></div>
<div class="r" style="background:linear-gradient(90deg,#006837 -0.47%,#006837 13.79%,#0d8044 15.95%,#1a9850 17.89%,#40aa5a 19.65%,#66bd63 21.25%,#66bd63 37.25%,#a6d96a 37.78%,#d9ef8b 38.29%,#ffffbf 38.79%,#fee08b 39.28%,#fee08b 43.50%,#fee08b 43.80%,#fee08b 57.17%,#fec776 59.33%,#fdae61 61.27%,#f88e52 63.03%,#f46d43 64.64%,#f46d43 100.48%)"></div>
<div class="r" style="background:linear-gradient(90deg,#006837 -0.47%,#006837 14.20%,#0d8044 16.31%,#1a9850 18.22%,#40aa5a 19.94%,#66bd63 21.52%,#66bd63 37.36%,#a6d96a 37.88%,#d9ef8b 38.39%,#ffffbf 38.89%,#fee696 39.28%,#fee696 43.50%,#fee08b 44.45%,#fee08b 57.56%,#fec776 59.68%,#fdae61 61.59%,#f88e52 63.33%,#f46d43 64.92%,#f46d43 100.48%)"></div>
<div class="r" style="background:linear-gradient(90deg,#006837 -0.47%,#006837 14.61%,#0d8044 16.67%,#1a9850 18.54%,#40aa5a 20.23%,#66bd63 21.79%,#66bd63 37.46%,#a6d96a 37.99%,#d9ef8b 38.50%,#ffffbf 38.99%,#feeda0 39.28%,#feeda0 43.50%,#fee08b 45.11%,#fee08b 57.94%,#fec776 60.03%,#fdae61 61.91%,#f88e52 63.62%,#f46d43 65.19%,#f46d43 100.48%)"></div>
<div class="r" style="background:linear-gradient(90deg,#006837 -0.47%,#006837 15.00%,#0d8044 17.03%,#1a9850 18.85%,#40aa5a 20.52%,#66bd63 22.05%,#66bd63 37.56%,#a6d96a 38.09%,#d9ef8b 38.60%,#ffffbf 39.09%,#fff3ab 39.28%,#fff3ab 43.50%,#fee08b 45.76%,#fee08b 58.31%,#fec776 60.36%,#fdae61 62.22%,#f88e52 63.91%,#f46d43 65.45%,#f46d43 100.48%)"></div>
<div class="r" style="background:linear-gradient(90deg,#006837 -0.47%,#006837 15.39%,#0d8044 17.37%,#1a9850 19.16%,#40aa5a 20.80%,#66bd63 22.31%,#66bd63 37.67%,#a6d96a 38.19%,#d9ef8b 38.70%,#ffffbf 39.19%,#fff9b6 39.28%,#fff9b6 43.50%,#fee08b 46.42%,#fee08b 58.67%,#fec776 60.69%,#fdae61 62.52%,#f88e52 64.19%,#f46d43 65.72%,#f46d43 100.48%)"></div>
<div class="r" style="background:linear-gradient(90deg,#006837 -0.47%,#006837 15.77%,#0d8044 17.71%,#1a9850 19.47%,#40aa5a 21.08%,#66bd63 22.56%,#66bd63 37.77%,#a6d96a 38.29%,#d9ef8b 38.80%,#feffbe 39.28%,#feffbe 43.50%,#ffffbf 43.60%,#fee08b 47.07%,#fee08b 59.03%,#fec776 61.02%,#fdae61 62.82%,#f88e52 64.47%,#f46d43 65.98%,#f46d43 100.48%)"></div>
<div class="r" style="background:linear-gradient(90deg,#006837 -0.47%,#006837 16.14%,#0d8044 18.04%,#1a9850 19.77%,#40aa5a 21.35%,#66bd63 22.81%,#66bd63 37.88%,#a6d96a 38.40%,#d9ef8b 38.90%,#f6fbb3 39.28%,#f6fbb3 43.50%,#ffffbf 44.37%,#fef0a5 46.12%,#fee08b 47.73%,#fee08b 59.38%,#fec776 61.34%,#fdae61 63.12%,#f88e52 64.74%,#f46d43 66.24%,#f46d43 100.48%)"></div>
<div class="r" style="background:linear-gradient(90deg,#006837 -0.47%,#006837 16.51%,#0d8044 18.37%,#1a9850 20.07%,#40aa5a 21.62%,#66bd63 23.06%,#66bd63 37.98%,#a6d96a 38.50%,#d9ef8b 39.00%,#eef8a8 39.28%,#eef8a8 43.50%,#ffffbf 45.12%,#fef0a5 46.82%,#fee08b 48.38%,#fee08b 59.72%,#fec776 61.65%,#fdae61 63.41%,#f88e52 65.01%,#f46d43 66.49%,#f46d43 100.48%)"></div>
<div class="r" style="background:linear-gradient(90deg,#006837 -0.47%,#006837 16.86%,#0d8044 18.69%,#1a9850 20.36%,#40aa5a 21.89%,#66bd63 23.31%,#66bd63 38.08%,#a6d96a 38.60%,#d9ef8b 39.10%,#e7f59e 39.28%,#e7f59e 43.50%,#ecf7a5 44.04%,#ffffbf 45.86%,#fef0a5 47.52%,#fee08b 49.04%,#fee08b 60.06%,#fec776 61.96%,#fdae61 63.69%,#f88e52 65.28%,#f46d43 66.74%,#f46d43 100.48%)"></div>
<div class="r" style="background:linear-gradient(90deg,#006837 -0.47%,#006837 17.22%,#0d8044 19.01%,#1a9850 20.65%,#40aa5a 22.15%,#66bd63 23.55%,#66bd63 38.19%,#a6d96a 38.70%,#d9ef8b 39.20%,#dff193 39.28%,#dff193 43.50%,#ecf7a5 44.83%,#ffffbf 46.59%,#fef0a5 48.21%,#fee08b 49.69%,#fee08b 60.39%,#fec776 62.27%,#fdae61 63.98%,#f88e52 65.54%,#f46d43 66.99%,#f46d43 100.48%)"></div>
<div class="r" style="background:linear-gradient(90deg,#006837 -0.47%,#006837 17.56%,#0d8044 19.32%,#1a9850 20.93%,#40aa5a 22.41%,#66bd63 23.79%,#66bd63 38.29%,#a6d96a 38.81%,#d6ee89 39.28%,#d6ee89 43.50%,#d9ef8b 43.70%,#ecf7a5 45.60%,#ffffbf 47.32%,#fef0a5 48.89%,#fee08b 50.35%,#fee08b 60.72%,#fec776 62.57%,#fdae61 64.25%,#f88e52 65.80%,#f46d43 67.23%,#f46d43 100.48%)"></div>
<div class="r" style="background:linear-gradient(90deg,#006837 -0.47%,#006837 17.90%,#0d8044 19.63%,#1a9850 21.21%,#40aa5a 22.67%,#66bd63 24.02%,#66bd63 38.40%,#a6d96a 38.91%,#cce983 39.28%,#cce983 43.50%,#d9ef8b 44.52%,#ecf7a5 46.36%,#ffffbf 48.04%,#fef0a5 49.58%,#fee08b 51.01%,#fee08b 61.04%,#fec776 62.86%,#fdae61 64.53%,#f88e52 66.06%,#f46d43 67.47%,#f46d43 100.48%)"></div>
<div class="r" style="background:linear-gradient(90deg,#006837 -0.47%,#006837 18.23%,#0d8044 19.93%,#1a9850 21.48%,#40aa5a 22.92%,#66bd63 24.25%,#66bd63 38.50%,#a6d96a 39.01%,#c1e57c 39.28%,#c1e57c 43.50%,#d9ef8b 45.32%,#ecf7a5 47.12%,#ffffbf 48.76%,#fef0a5 50.26%,#fee08b 51.66%,#fee08b 61.35%,#fec776 63.15%,#fdae61 64.80%,#f88e52 66.31%,#f46d43 67.71%,#f46d43 100.48%)"></div>
<div class="r" style="background:linear-gradient(90deg,#006837 -0.47%,#006837 18.56%,#0d8044 20.22%,#1a9850 21.75%,#40aa5a 23.17%,#66bd63 24.48%,#66bd63 38.60%,#a6d96a 39.11%,#b7e075 39.28%,#b7e075 43.50%,#c0e47a 44.19%,#d9ef8b 46.12%,#ecf7a5 47.87%,#ffffbf 49.47%,#fef0a5 50.95%,#fee08b 52.32%,#fee08b 61.66%,#fec776 63.44%,#fdae61 65.06%,#f88e52 66.56%,#f46d43 67.94%,#f46d43 100.48%)"></div>
<div class="r" style="background:linear-gradient(90deg,#006837 -0.47%,#006837 18.88%,#0d8044 20.52%,#1a9850 22.02%,#40aa5a 23.41%,#66bd63 24.71%,#66bd63 38.71%,#a6d96a 39.22%,#addc6e 39.28%,#addc6e 43.50%,#c0e47a 45.03%,#d9ef8b 46.91%,#ecf7a5 48.62%,#ffffbf 50.18%,#fef0a5 51.63%,#fee08b 52.97%,#fee08b 61.97%,#fec776 63.72%,#fdae61 65.33%,#f88e52 66.80%,#f46d43 68.17%,#f46d43 100.48%)"></div>
<div class="r" style="background:linear-gradient(90deg,#006837 -0.47%,#006837 19.20%,#0d8044 20.80%,#1a9850 22.28%,#40aa5a 23.66%,#66bd63 24.93%,#66bd63 38.81%,#a1d769 39.28%,#a1d769 43.50%,#a6d96a 43.83%,#c0e47a 45.86%,#d9ef8b 47.69%,#ecf7a5 49.36%,#ffffbf 50.89%,#fef0a5 52.31%,#fee08b 53.63%,#fee08b 62.27%,#fec776 64.00%,#fdae61 65.58%,#f88e52 67.05%,#f46d43 68.40%,#f46d43 100.48%)"></div>
<div class="r" style="background:linear-gradient(90deg,#006837 -0.47%,#006837 19.51%,#0d8044 21.09%,#1a9850 22.54%,#40aa5a 23.89%,#66bd63 25.16%,#66bd63 38.92%,#94d168 39.28%,#94d168 43.50%,#a6d96a 44.71%,#c0e47a 46.68%,#d9ef8b 48.47%,#ecf7a5 50.10%,#ffffbf 51.60%,#fef0a5 52.99%,#fee08b 54.28%,#fee08b 62.56%,#fec776 64.27%,#fdae61 65.84%,#f88e52 67.29%,#f46d43 68.63%,#f46d43 100.48%)"></div>
<div class="r" style="background:linear-gradient(90deg,#006837 -0.47%,#006837 19.81%,#0d8044 21.37%,#1a9850 22.80%,#40aa5a 24.13%,#66bd63 25.38%,#66bd63 39.02%,#87cb67 39.28%,#87cb67 43.50%,#a6d96a 45.58%,#c0e47a 47.50%,#d9ef8b 49.24%,#ecf7a5 50.83%,#ffffbf 52.30%,#fef0a5 53.67%,#fee08b 54.94%,#fee08b 62.86%,#fec776 64.54%,#fdae61 66.09%,#f88e52 67.52%,#f46d43 68.85%,#f46d43 100.48%)"></div>
<div class="r" style="background:linear-gradient(90deg,#006837 -0.47%,#006837 20.11%,#0d8044 21.64%,#1a9850 23.05%,#40aa5a 24.36%,#66bd63 25.59%,#66bd63 39.12%,#7ac665 39.28%,#7ac665 43.50%,#86cb66 44.36%,#a6d96a 46.44%,#c0e47a 48.30%,#d9ef8b 50.00%,#ecf7a5 51.56%,#ffffbf 53.00%,#fef0a5 54.34%,#fee08b 55.59%,#fee08b 63.14%,#fec776 64.81%,#fdae61 66.34%,#f88e52 67.76%,#f46d43 69.07%,#f46d43 100.48%)"></div>
<div class="r" style="background:linear-gradient(90deg,#006837 -0.47%,#006837 20.41%,#0d8044 21.91%,#1a9850 23.30%,#40aa5a 24.60%,#66bd63 25.81%,#66bd63 39.23%,#6dc064 39.28%,#6dc064 43.50%,#86cb66 45.27%,#a6d96a 47.29%,#c0e47a 49.11%,#d9ef8b 50.77%,#ecf7a5 52.29%,#ffffbf 53.71%,#fef0a5 55.02%,#fee08b 56.25%,#fee08b 63.42%,#fec776 65.07%,#fdae61 66.59%,#f88e52 67.99%,#f46d43 69.29%,#f46d43 100.48%)"></div>
<div class="r" style="background:linear-gradient(90deg,#006837 -0.47%,#006837 20.70%,#0d8044 22.18%,#1a9850 23.55%,#40aa5a 24.82%,#66bd63 26.02%,#66bd63 43.46%,#86cb66 45.60%,#a6d96a 47.52%,#c0e47a 49.27%,#d9ef8b 50.86%,#ecf7a5 52.33%,#ffffbf 53.70%,#fef0a5 54.97%,#fee08b 56.17%,#fee08b 63.70%,#fec776 65.33%,#fdae61 66.83%,#f88e52 68.22%,#f46d43 69.51%,#f46d43 100.48%)"></div>
<div class="r" style="background:linear-gradient(90deg,#006837 -0.47%,#006837 20.99%,#0d8044 22.44%,#1a9850 23.79%,#40aa5a 25.05%,#66bd63 26.23%,#66bd63 43.37%,#86cb66 45.35%,#a6d96a 47.15%,#c0e47a 48.79%,#d9ef8b 50.29%,#ecf7a5 51.69%,#ffffbf 52.99%,#fef0a5 54.21%,#fee08b 55.35%,#fee08b 63.98%,#fec776 65.58%,#fdae61 67.07%,#f88e52 68.44%,#f46d43 69.72%,#f46d43 100.48%)"></div>
<div class="r" style="background:linear-gradient(90deg,#006837 -0.47%,#006837 21.27%,#0d8044 22.70%,#1a9850 24.03%,#40aa5a 25.27%,#66bd63 26.43%,#66bd63 43.28%,#86cb66 45.11%,#a6d96a 46.78%,#c0e47a 48.32%,#d9ef8b 49.73%,#ecf7a5 51.05%,#ffffbf 52.29%,#fef0a5 53.44%,#fee08b 54.53%,#fee08b 64.25%,#fec776 65.84%,#fdae61 67.30%,#f88e52 68.66%,#f46d43 69.93%,#f46d43 100.48%)"></div>
<div class="r" style="background:linear-gradient(90deg,#006837 -0.47%,#006837 21.55%,#0d8044 22.96%,#1a9850 24.27%,#40aa5a 25.49%,#66bd63 26.64%,#66bd63 43.19%,#86cb66 44.88%,#a6d96a 46.42%,#c0e47a 47.85%,#d9ef8b 49.18%,#ecf7a5 50.42%,#ffffbf 51.58%,#fef0a5 52.68%,#fee08b 53.72%,#fee08b 64.51%,#fec776 66.08%,#fdae61 67.54%,#f88e52 68.88%,#f46d43 70.14%,#f46d43 100.48%)"></div>
<div class="r" style="background:linear-gradient(90deg,#006837 -0.47%,#006837 21.83%,#0d8044 23.21%,#1a9850 24.50%,#40aa5a 25.71%,#66bd63 26.84%,#66bd63 43.11%,#86cb66 44.65%,#a6d96a 46.07%,#c0e47a 47.39%,#d9ef8b 48.63%,#ecf7a5 49.79%,#ffffbf 50.88%,#fef0a5 51.92%,#fee08b 52.90%,#fee08b 64.77%,#fec776 66.33%,#fdae61 67.77%,#f88e52 69.10%,#f46d43 70.35%,#f46d43 100.48%)"></div>
<div class="r" style="background:linear-gradient(90deg,#006837 -0.47%,#006837 22.10%,#0d8044 23.46%,#1a9850 24.73%,#40aa5a 25.92%,#66bd63 27.04%,#66bd63 43.02%,#86cb66 44.42%,#a6d96a 45.72%,#c0e47a 46.94%,#d9ef8b 48.09%,#ecf7a5 49.17%,#ffffbf 50.19%,#fef0a5 51.16%,#fee08b 52.08%,#fee08b 65.03%,#fec776 66.57%,#fdae61 67.99%,#f88e52 69.32%,#f46d43 70.55%,#f46d43 100.48%)"></div>
<div class="r" style="background:linear-gradient(90deg,#006837 -0.47%,#006837 22.36%,#0d8044 23.71%,#1a9850 24.96%,#40aa5a 26.13%,#66bd63 27.24%,#66bd63 42.93%,#86cb66 44.20%,#a6d96a 45.38%,#c0e47a 46.50%,#d9ef8b 47.55%,#ecf7a5 48.55%,#ffffbf 49.50%,#fef0a5 50.40%,#fee08b 51.26%,#fee08b 65.29%,#fec776 66.81%,#fdae61 68.22%,#f88e52 69.53%,#f46d43 70.75%,#f46d43 100.48%)"></div>
<div class="r" style="background:linear-gradient(90deg,#006837 -0.47%,#006837 22.63%,#0d8044 23.95%,#1a9850 25.18%,#40aa5a 26.34%,#66bd63 27.44%,#66bd63 42.85%,#86cb66 43.98%,#a6d96a 45.05%,#c0e47a 46.06%,#d9ef8b 47.03%,#ecf7a5 47.94%,#ffffbf 48.81%,#fef0a5 49.65%,#fee08b 50.45%,#fee08b 65.54%,#fec776 67.05%,#fdae61 68.44%,#f88e52 69.74%,#f46d43 70.95%,#f46d43 100.48%)"></div>
<div class="r" style="background:linear-gradient(90deg,#006837 -0.47%,#006837 22.89%,#0d8044 24.19%,#1a9850 25.41%,#40aa5a 26.55%,#66bd63 27.63%,#66bd63 42.76%,#86cb66 43.77%,#a6d96a 44.72%,#c0e47a 45.64%,#d9ef8b 46.50%,#ecf7a5 47.34%,#ffffbf 48.13%,#fef0a5 48.89%,#fee08b 49.63%,#fee08b 65.79%,#fec776 67.28%,#fdae61 68.66%,#f88e52 69.95%,#f46d43 71.15%,#f46d43 100.48%)"></div>
<div class="r" style="background:linear-gradient(90deg,#006837 -0.47%,#006837 23.14%,#0d8044 24.43%,#1a9850 25.63%,#40aa5a 26.76%,#66bd63 27.82%,#66bd63 42.67%,#86cb66 43.56%,#a6d96a 44.40%,#c0e47a 45.21%,#d9ef8b 45.99%,#ecf7a5 46.74%,#ffffbf 47.45%,#fef0a5 48.14%,#fee08b 48.81%,#fee08b 66.04%,#fec776 67.51%,#fdae61 68.88%,#f88e52 70.15%,#f46d43 71.35%,#f46d43 100.48%)"></div>
<div class="r" style="background:linear-gradient(90deg,#006837 -0.47%,#006837 23.40%,#0d8044 24.66%,#1a9850 25.85%,#40aa5a 26.96%,#66bd63 28.01%,#66bd63 42.58%,#86cb66 43.35%,#a6d96a 44.09%,#c0e47a 44.80%,#d9ef8b 45.48%,#ecf7a5 46.14%,#ffffbf 46.78%,#fef0a5 47.40%,#fee08b 47.99%,#fee08b 66.28%,#fec776 67.74%,#fdae61 69.09%,#f88e52 70.36%,#f46d43 71.54%,#f46d43 100.48%)"></div>
<div class="r" style="background:linear-gradient(90deg,#006837 -0.47%,#006837 23.64%,#0d8044 24.89%,#1a9850 26.06%,#40aa5a 27.16%,#66bd63 28.20%,#66bd63 42.50%,#86cb66 43.15%,#a6d96a 43.78%,#c0e47a 44.39%,#d9ef8b 44.98%,#ecf7a5 45.55%,#ffffbf 46.11%,#fef0a5 46.65%,#fee08b 47.18%,#fee08b 66.52%,#fec776 67.96%,#fdae61 69.30%,#f88e52 70.56%,#f46d43 71.73%,#f46d43 100.48%)"></div>
<div class="r" style="background:linear-gradient(90deg,#006837 -0.47%,#006837 23.89%,#0d8044 25.12%,#1a9850 26.27%,#40aa5a 27.36%,#66bd63 28.39%,#66bd63 42.41%,#a6d96a 43.48%,#d9ef8b 44.49%,#ffffbf 45.45%,#fee08b 46.36%,#fee08b 66.75%,#fec776 68.18%,#fdae61 69.51%,#f88e52 70.76%,#f46d43 71.92%,#f46d43 100.48%)"></div>
<div class="r" style="background:linear-gradient(90deg,#006837 -0.47%,#006837 24.13%,#0d8044 25.35%,#1a9850 26.48%,#40aa5a 27.56%,#66bd63 28.57%,#66bd63 42.32%,#a6d96a 43.18%,#d9ef8b 44.00%,#ffffbf 44.79%,#fee08b 45.54%,#fee08b 66.99%,#fec776 68.40%,#fdae61 69.72%,#f88e52 70.95%,#f46d43 72.11%,#f46d43 100.48%)"></div>
<div class="r" style="background:linear-gradient(90deg,#006837 -0.47%,#006837 24.37%,#0d8044 25.57%,#1a9850 26.69%,#40aa5a 27.75%,#66bd63 28.76%,#66bd63 42.24%,#a6d96a 42.89%,#d9ef8b 43.52%,#ffffbf 44.13%,#fee08b 44.72%,#fee08b 67.22%,#fec776 68.62%,#fdae61 69.93%,#f88e52 71.15%,#f46d43 72.30%,#f46d43 100.48%)"></div>
<div class="r" style="background:linear-gradient(90deg,#006837 -0.47%,#006837 24.61%,#0d8044 25.79%,#1a9850 26.90%,#40aa5a 27.94%,#66bd63 28.94%,#66bd63 42.15%,#a6d96a 42.60%,#d9ef8b 43.05%,#ffffbf 43.48%,#fee08b 43.91%,#fee08b 67.45%,#fec776 68.84%,#fdae61 70.13%,#f88e52 71.34%,#f46d43 72.48%,#f46d43 100.48%)"></div>
<div class="r" style="background:linear-gradient(90deg,#006837 -0.47%,#006837 24.84%,#0d8044 26.01%,#1a9850 27.10%,#40aa5a 28.14%,#66bd63 29.12%,#66bd63 42.06%,#a6d96a 42.42%,#d9ef8b 42.78%,#ffffbf 43.12%,#fee08b 43.46%,#fee08b 67.67%,#fec776 69.05%,#fdae61 70.33%,#f88e52 71.53%,#f46d43 72.66%,#f46d43 100.48%)"></div>
<div class="r" style="background:linear-gradient(90deg,#006837 -0.47%,#006837 25.08%,#0d8044 26.22%,#1a9850 27.30%,#40aa5a 28.32%,#66bd63 29.29%,#66bd63 41.97%,#a6d96a 42.34%,#d9ef8b 42.70%,#ffffbf 43.05%,#fee08b 43.40%,#fee08b 67.89%,#fec776 69.26%,#fdae61 70.53%,#f88e52 71.72%,#f46d43 72.84%,#f46d43 100.48%)"></div>
<div class="r" style="background:linear-gradient(90deg,#006837 -0.47%,#006837 25.30%,#0d8044 26.43%,#1a9850 27.50%,#40aa5a 28.51%,#66bd63 29.47%,#66bd63 41.89%,#a6d96a 42.26%,#d9ef8b 42.62%,#ffffbf 42.98%,#fee08b 43.33%,#fee08b 68.11%,#fec776 69.46%,#fdae61 70.73%,#f88e52 71.91%,#f46d43 73.02%,#f46d43 100.48%)"></div>
<div class="r" style="background:linear-gradient(90deg,#006837 -0.47%,#006837 25.53%,#0d8044 26.65%,#1a9850 27.70%,#40aa5a 28.70%,#66bd63 29.64%,#66bd63 41.80%,#a6d96a 42.18%,#d9ef8b 42.54%,#ffffbf 42.90%,#fee08b 43.26%,#fee08b 68.33%,#fec776 69.67%,#fdae61 70.92%,#f88e52 72.09%,#f46d43 73.20%,#f46d43 100.48%)"></div>
<div class="r" style="background:linear-gradient(90deg,#006837 -0.47%,#006837 25.75%,#0d8044 26.85%,#1a9850 27.89%,#40aa5a 28.88%,#66bd63 29.82%,#66bd63 41.71%,#a6d96a 42.09%,#d9ef8b 42.47%,#ffffbf 42.83%,#fee08b 43.19%,#fee08b 68.54%,#fec776 69.87%,#fdae61 71.11%,#f88e52 72.28%,#f46d43 73.37%,#f46d43 100.48%)"></div>
<div class="r" style="background:linear-gradient(90deg,#006837 -0.47%,#006837 25.97%,#0d8044 27.06%,#1a9850 28.09%,#40aa5a 29.06%,#66bd63 29.99%,#66bd63 41.63%,#a6d96a 42.01%,#d9ef8b 42.39%,#ffffbf 42.76%,#fee08b 43.12%,#fee08b 68.76%,#fec776 70.07%,#fdae61 71.30%,#f88e52 72.46%,#f46d43 73.55%,#f46d43 100.48%)"></div>
<div class="r" style="background:linear-gradient(90deg,#006837 -0.47%,#006837 26.19%,#1a9850 28.28%,#66bd63 30.16%,#66bd63 41.54%,#a6d96a 41.93%,#d9ef8b 42.31%,#ffffbf 42.69%,#fee08b 43.05%,#fee08b 68.97%,#fec776 70.27%,#fdae61 71.49%,#f88e52 72.64%,#f46d43 73.72%,#f46d43 100.48%)"></div>
<div class="r" style="background:linear-gradient(90deg,#006837 -0.47%,#006837 26.40%,#1a9850 28.47%,#66bd63 30.33%,#66bd63 41.45%,#a6d96a 41.85%,#d9ef8b 42.23%,#ffffbf 42.61%,#fee08b 42.99%,#fee08b 69.17%,#fec776 70.47%,#fdae61 71.68%,#f88e52 72.82%,#f46d43 73.89%,#f46d43 100.48%)"></div>
<div class="r" style="background:linear-gradient(90deg,#006837 -0.47%,#006837 26.62%,#1a9850 28.65%,#66bd63 30.49%,#66bd63 41.36%,#a6d96a 41.76%,#d9ef8b 42.16%,#ffffbf 42.54%,#fee08b 42.92%,#fee08b 69.38%,#fec776 70.66%,#fdae61 71.87%,#f88e52 73.00%,#f46d43 74.06%,#f46d43 100.48%)"></div>
<div class="r" style="background:linear-gradient(90deg,#006837 -0.47%,#006837 26.83%,#1a9850 28.84%,#66bd63 30.66%,#66bd63 41.28%,#a6d96a 41.68%,#d9ef8b 42.08%,#ffffbf 42.47%,#fee08b 42.85%,#fee08b 69.58%,#fec776 70.86%,#fdae61 72.05%,#f88e52 73.17%,#f46d43 74.23%,#f46d43 100.48%)"></div>
<div class="r" style="background:linear-gradient(90deg,#006837 -0.47%,#006837 27.04%,#1a9850 29.02%,#66bd63 30.82%,#66bd63 41.19%,#a6d96a 41.60%,#d9ef8b 42.00%,#ffffbf 42.39%,#fee08b 42.78%,#fee08b 69.78%,#fec776 71.05%,#fdae61 72.23%,#f88e52 73.34%,#f46d43 74.40%,#f46d43 100.48%)"></div>
<div class="r" style="background:linear-gradient(90deg,#006837 -0.47%,#006837 27.24%,#1a9850 29.21%,#66bd63 30.99%,#66bd63 41.10%,#a6d96a 41.52%,#d9ef8b 41.92%,#ffffbf 42.32%,#fee08b 42.71%,#fee08b 69.98%,#fec776 71.24%,#fdae61 72.41%,#f88e52 73.52%,#f46d43 74.56%,#f46d43 100.48%)"></div>
<div class="r" style="background:linear-gradient(90deg,#006837 -0.47%,#006837 27.45%,#1a9850 29.39%,#66bd63 31.15%,#66bd63 41.02%,#a6d96a 41.44%,#d9ef8b 41.85%,#ffffbf 42.25%,#fee08b 42.64%,#fee08b 70.18%,#fec776 71.42%,#fdae61 72.59%,#f88e52 73.69%,#f46d43 74.72%,#f46d43 100.48%)"></div>
<div class="r" style="background:linear-gradient(90deg,#006837 -0.47%,#006837 27.65%,#1a9850 29.56%,#66bd63 31.31%,#66bd63 40.93%,#a6d96a 41.35%,#d9ef8b 41.77%,#ffffbf 42.18%,#fee08b 42.57%,#fee08b 70.37%,#fec776 71.61%,#fdae61 72.76%,#f88e52 73.86%,#f46d43 74.89%,#f46d43 100.48%)"></div>
<div class="r" style="background:linear-gradient(90deg,#006837 -0.47%,#006837 27.85%,#1a9850 29.74%,#66bd63 31.46%,#66bd63 40.84%,#a6d96a 41.27%,#d9ef8b 41.69%,#ffffbf 42.10%,#fee08b 42.51%,#fee08b 70.60%,#fec776 71.81%,#fdae61 72.95%,#f88e52 74.03%,#f46d43 75.05%,#f46d43 100.48%)"></div>
<div class="r" style="background:linear-gradient(90deg,#006837 -0.47%,#006837 28.04%,#1a9850 29.92%,#66bd63 31.62%,#66bd63 40.75%,#a6d96a 41.19%,#d9ef8b 41.61%,#ffffbf 42.03%,#fee08b 42.44%,#fee08b 70.85%,#fec776 72.03%,#fdae61 73.15%,#f88e52 74.21%,#f46d43 75.21%,#f46d43 100.48%)"></div>
<div class="r" style="background:linear-gradient(90deg,#006837 -0.47%,#006837 28.24%,#1a9850 30.09%,#66bd63 31.78%,#66bd63 40.67%,#a6d96a 41.11%,#d9ef8b 41.54%,#ffffbf 41.96%,#fee08b 42.37%,#fee08b 71.09%,#fec776 72.25%,#fdae61 73.35%,#f88e52 74.38%,#f46d43 75.36%,#f46d43 100.48%)"></div>
<div class="r" style="background:linear-gradient(90deg,#006837 -0.47%,#006837 28.43%,#1a9850 30.26%,#66bd63 31.93%,#66bd63 40.58%,#a6d96a 41.03%,#d9ef8b 41.46%,#ffffbf 41.89%,#fee08b 42.30%,#fee08b 71.33%,#fec776 72.47%,#fdae61 73.54%,#f88e52 74.56%,#f46d43 75.52%,#f46d43 100.48%)"></div>
<div class="r" style="background:linear-gradient(90deg,#006837 -0.47%,#006837 28.62%,#1a9850 30.43%,#66bd63 32.08%,#66bd63 40.49%,#a6d96a 40.94%,#d9ef8b 41.38%,#ffffbf 41.81%,#fee08b 42.23%,#fee08b 71.57%,#fec776 72.68%,#fdae61 73.73%,#f88e52 74.73%,#f46d43 75.68%,#f46d43 100.48%)"></div>
<div class="r" style="background:linear-gradient(90deg,#006837 -0.47%,#006837 28.81%,#1a9850 30.60%,#66bd63 32.24%,#66bd63 40.41%,#a6d96a 40.86%,#d9ef8b 41.31%,#ffffbf 41.74%,#fee08b 42.16%,#fee08b 71.81%,#fec776 72.90%,#fdae61 73.93%,#f88e52 74.90%,#f46d43 75.83%,#f46d43 100.48%)"></div>
<div class="r" style="background:linear-gradient(90deg,#006837 -0.47%,#006837 29.00%,#1a9850 30.77%,#66bd63 32.39%,#66bd63 40.32%,#a6d96a 40.78%,#d9ef8b 41.23%,#ffffbf 41.67%,#fee08b 42.10%,#fee08b 72.04%,#fdae61 74.11%,#f46d43 75.98%,#f46d43 100.48%)"></div>
<div class="r" style="background:linear-gradient(90deg,#006837 -0.47%,#006837 29.18%,#1a9850 30.94%,#66bd63 32.54%,#66bd63 40.23%,#a6d96a 40.70%,#d9ef8b 41.15%,#ffffbf 41.59%,#fee08b 42.03%,#fee08b 72.27%,#fdae61 74.30%,#f46d43 76.13%,#f46d43 100.48%)"></div>
<div class="r" style="background:linear-gradient(90deg,#006837 -0.47%,#006837 29.37%,#1a9850 31.10%,#66bd63 32.69%,#66bd63 40.14%,#a6d96a 40.61%,#d9ef8b 41.07%,#ffffbf 41.52%,#fee08b 41.96%,#fee08b 72.50%,#fdae61 74.49%,#f46d43 76.28%,#f46d43 100.48%)"></div>
<div class="r" style="background:linear-gradient(90deg,#006837 -0.47%,#006837 29.55%,#1a9850 31.26%,#66bd63 32.83%,#66bd63 40.06%,#a6d96a 40.53%,#d9ef8b 41.00%,#ffffbf 41.45%,#fee08b 41.89%,#fee08b 72.72%,#fdae61 74.67%,#f46d43 76.43%,#f46d43 100.48%)"></div>
<div class="r" style="background:linear-gradient(90deg,#006837 -0.47%,#006837 29.73%,#1a9850 31.42%,#66bd63 32.98%,#66bd63 39.97%,#a6d96a 40.45%,#d9ef8b 40.92%,#ffffbf 41.38%,#fee08b 41.82%,#fee08b 72.94%,#fdae61 74.85%,#f46d43 76.58%,#f46d43 100.48%)"></div>
<div class="r" style="background:linear-gradient(90deg,#006837 -0.47%,#006837 29.91%,#1a9850 31.59%,#66bd63 33.12%,#66bd63 39.88%,#a6d96a 40.37%,#d9ef8b 40.84%,#ffffbf 41.30%,#fee08b 41.75%,#fee08b 73.16%,#fdae61 75.03%,#f46d43 76.73%,#f46d43 100.48%)"></div>
<div class="r" style="background:linear-gradient(90deg,#006837 -0.47%,#006837 30.09%,#1a9850 31.74%,#66bd63 33.27%,#66bd63 39.80%,#a6d96a 40.29%,#d9ef8b 40.76%,#ffffbf 41.23%,#fee08b 41.68%,#fee08b 73.38%,#fdae61 75.21%,#f46d43 76.87%,#f46d43 100.48%)"></div>
<div class="r" style="background:linear-gradient(90deg,#006837 -0.47%,#006837 30.26%,#1a9850 31.90%,#66bd63 33.41%,#66bd63 39.71%,#a6d96a 40.20%,#d9ef8b 40.69%,#ffffbf 41.16%,#fee08b 41.62%,#fee08b 73.59%,#fdae61 75.38%,#f46d43 77.02%,#f46d43 100.48%)"></div>
<div class="r" style="background:linear-gradient(90deg,#006837 -0.47%,#006837 30.43%,#1a9850 32.06%,#66bd63 33.55%,#66bd63 39.62%,#a6d96a 40.12%,#d9ef8b 40.61%,#ffffbf 41.08%,#fee08b 41.55%,#fee08b 73.81%,#fdae61 75.56%,#f46d43 77.16%,#f46d43 100.48%)"></div>
<div class="r" style="background:linear-gradient(90deg,#006837 -0.47%,#006837 30.52%,#1a9850 32.14%,#66bd63 33.62%,#66bd63 39.62%,#a6d96a 40.12%,#d9ef8b 40.61%,#ffffbf 41.09%,#fee390 41.51%,#fee390 43.50%,#fee08b 43.79%,#fee08b 74.02%,#fdae61 75.73%,#f46d43 77.31%,#f46d43 100.48%)"></div>
<div class="r" style="background:linear-gradient(90deg,#006837 -0.47%,#006837 30.52%,#1a9850 32.14%,#66bd63 33.62%,#66bd63 39.71%,#a6d96a 40.21%,#d9ef8b 40.70%,#ffffbf 41.17%,#fee899 41.51%,#fee899 43.50%,#fee08b 44.38%,#fee08b 74.22%,#fdae61 75.90%,#f46d43 77.45%,#f46d43 100.48%)"></div>
<div class="r" style="background:linear-gradient(90deg,#006837 -0.47%,#006837 30.52%,#1a9850 32.14%,#66bd63 33.62%,#66bd63 39.80%,#a6d96a 40.30%,#d9ef8b 40.78%,#ffffbf 41.26%,#feeea3 41.51%,#feeea3 43.50%,#fee08b 44.98%,#fee08b 74.43%,#fdae61 76.07%,#f46d43 77.59%,#f46d43 100.48%)"></div>
<div class="r" style="background:linear-gradient(90deg,#006837 -0.47%,#006837 30.52%,#1a9850 32.14%,#66bd63 33.62%,#66bd63 39.89%,#a6d96a 40.38%,#d9ef8b 40.87%,#ffffbf 41.34%,#fff4ac 41.51%,#fff4ac 43.50%,#fee08b 45.57%,#fee08b 74.63%,#fdae61 76.24%,#f46d43 77.73%,#f46d43 100.48%)"></div>
<div class="r" style="background:linear-gradient(90deg,#006837 -0.47%,#006837 30.52%,#1a9850 32.14%,#66bd63 33.62%,#66bd63 39.97%,#a6d96a 40.47%,#d9ef8b 40.96%,#ffffbf 41.43%,#fff9b5 41.51%,#fff9b5 43.50%,#fee08b 46.17%,#fee08b 74.83%,#fdae61 76.41%,#f46d43 77.86%,#f46d43 100.48%)"></div>
<div class="r" style="background:linear-gradient(90deg,#006837 -0.47%,#006837 30.52%,#1a9850 32.14%,#66bd63 33.62%,#66bd63 40.06%,#a6d96a 40.56%,#d9ef8b 41.04%,#ffffbf 41.51%,#ffffbf 43.50%,#fee08b 46.76%,#fee08b 75.03%,#fdae61 76.57%,#f46d43 78.00%,#f46d43 100.48%)"></div>
<div class="r" style="background:linear-gradient(90deg,#006837 -0.47%,#006837 30.52%,#1a9850 32.14%,#66bd63 33.62%,#66bd63 40.15%,#a6d96a 40.65%,#d9ef8b 41.13%,#f8fcb6 41.51%,#f8fcb6 43.50%,#ffffbf 44.14%,#fee08b 47.36%,#fee08b 75.23%,#fdae61 76.74%,#f46d43 78.14%,#f46d43 100.48%)"></div>
<div class="r" style="background:linear-gradient(90deg,#006837 -0.47%,#006837 30.52%,#1a9850 32.14%,#66bd63 33.62%,#66bd63 40.24%,#a6d96a 40.73%,#d9ef8b 41.21%,#f1f9ac 41.51%,#f1f9ac 43.50%,#ffffbf 44.79%,#fef0a5 46.44%,#fee08b 47.95%,#fee08b 75.42%,#fdae61 76.90%,#f46d43 78.27%,#f46d43 100.48%)"></div>
<div class="r" style="background:linear-gradient(90deg,#006837 -0.47%,#006837 30.52%,#1a9850 32.14%,#66bd63 33.62%,#66bd63 40.33%,#a6d96a 40.82%,#d9ef8b 41.30%,#eaf6a3 41.51%,#eaf6a3 43.50%,#ecf7a5 43.66%,#ffffbf 45.44%,#fef0a5 47.06%,#fee08b 48.55%,#fee08b 75.61%,#fdae61 77.06%,#f46d43 78.41%,#f46d43 100.48%)"></div>
<div class="r" style="background:linear-gradient(90deg,#006837 -0.47%,#006837 30.52%,#1a9850 32.14%,#66bd63 33.62%,#66bd63 40.41%,#a6d96a 40.91%,#d9ef8b 41.38%,#e3f399 41.51%,#e3f399 43.50%,#ecf7a5 44.34%,#ffffbf 46.08%,#fef0a5 47.67%,#fee08b 49.14%,#fee08b 75.80%,#fdae61 77.22%,#f46d43 78.54%,#f46d43 100.48%)"></div>
<div class="r" style="background:linear-gradient(90deg,#006837 -0.47%,#006837 30.52%,#1a9850 32.14%,#66bd63 33.62%,#66bd63 40.50%,#a6d96a 40.99%,#d9ef8b 41.47%,#dcf090 41.51%,#dcf090 43.50%,#ecf7a5 45.02%,#ffffbf 46.73%,#fef0a5 48.29%,#fee08b 49.74%,#fee08b 75.99%,#fdae61 77.38%,#f46d43 78.67%,#f46d43 100.48%)"></div>
<div class="r" style="background:linear-gradient(90deg,#006837 -0.47%,#006837 30.52%,#1a9850 32.14%,#66bd63 33.62%,#66bd63 40.59%,#a6d96a 41.08%,#d4ed88 41.51%,#d4ed88 43.50%,#d9ef8b 43.85%,#ecf7a5 45.69%,#ffffbf 47.37%,#fef0a5 48.91%,#fee08b 50.33%,#fee08b 76.18%,#fdae61 77.54%,#f46d43 78.81%,#f46d43 100.48%)"></div>
<div class="r" style="background:linear-gradient(90deg,#006837 -0.47%,#006837 30.52%,#1a9850 32.14%,#66bd63 33.62%,#66bd63 40.68%,#a6d96a 41.17%,#cbe982 41.51%,#cbe982 43.50%,#d9ef8b 44.56%,#ecf7a5 46.36%,#ffffbf 48.01%,#fef0a5 49.52%,#fee08b 50.93%,#fee08b 76.36%,#fdae61 77.69%,#f46d43 78.94%,#f46d43 100.48%)"></div>
<div class="r" style="background:linear-gradient(90deg,#006837 -0.47%,#006837 30.52%,#1a9850 32.14%,#66bd63 33.62%,#66bd63 40.77%,#a6d96a 41.25%,#c2e57c 41.51%,#c2e57c 43.50%,#d9ef8b 45.26%,#ecf7a5 47.03%,#ffffbf 48.65%,#fef0a5 50.14%,#fee08b 51.52%,#fee08b 76.55%,#fdae61 77.85%,#f46d43 79.07%,#f46d43 100.48%)"></div>
<div class="r" style="background:linear-gradient(90deg,#006837 -0.47%,#006837 30.52%,#1a9850 32.14%,#66bd63 33.62%,#66bd63 40.85%,#a6d96a 41.34%,#b9e176 41.51%,#b9e176 43.50%,#c0e47a 44.05%,#d9ef8b 45.96%,#ecf7a5 47.70%,#ffffbf 49.29%,#fef0a5 50.76%,#fee08b 52.12%,#fee08b 76.73%,#fdae61 78.00%,#f46d43 79.19%,#f46d43 100.48%)"></div>
<div class="r" style="background:linear-gradient(90deg,#006837 -0.47%,#006837 30.52%,#1a9850 32.14%,#66bd63 33.62%,#66bd63 40.94%,#a6d96a 41.43%,#afdd70 41.51%,#afdd70 43.50%,#c0e47a 44.79%,#d9ef8b 46.66%,#ecf7a5 48.37%,#ffffbf 49.93%,#fef0a5 51.37%,#fee08b 52.71%,#fee08b 76.91%,#fdae61 78.15%,#f46d43 79.32%,#f46d43 100.48%)"></div>
<div class="r" style="background:linear-gradient(90deg,#006837 -0.47%,#006837 30.52%,#1a9850 32.14%,#66bd63 33.62%,#66bd63 41.03%,#a6d96a 41.51%,#a6d96a 43.50%,#c0e47a 45.53%,#d9ef8b 47.36%,#ecf7a5 49.03%,#ffffbf 50.57%,#fef0a5 51.99%,#fee08b 53.30%,#fee08b 77.09%,#fdae61 78.31%,#f46d43 79.45%,#f46d43 100.48%)"></div>
<div class="r" style="background:linear-gradient(90deg,#006837 -0.47%,#006837 30.52%,#1a9850 32.14%,#66bd63 33.62%,#66bd63 41.12%,#9ad469 41.51%,#9ad469 43.50%,#a6d96a 44.27%,#c0e47a 46.26%,#d9ef8b 48.05%,#ecf7a5 49.69%,#ffffbf 51.20%,#fef0a5 52.60%,#fee08b 53.90%,#fee08b 77.26%,#fdae61 78.46%,#f46d43 79.58%,#f46d43 100.48%)"></div>
<div class="r" style="background:linear-gradient(90deg,#006837 -0.47%,#006837 30.52%,#1a9850 32.14%,#66bd63 33.62%,#66bd63 41.21%,#8fcf67 41.51%,#8fcf67 43.50%,#a6d96a 45.05%,#c0e47a 46.99%,#d9ef8b 48.75%,#ecf7a5 50.36%,#ffffbf 51.84%,#fef0a5 53.21%,#fee08b 54.49%,#fee08b 77.44%,#fdae61 78.60%,#f46d43 79.70%,#f46d43 100.48%)"></div>
<div class="r" style="background:linear-gradient(90deg,#006837 -0.47%,#006837 30.52%,#1a9850 32.14%,#66bd63 33.62%,#66bd63 41.29%,#83ca66 41.51%,#83ca66 43.50%,#86cb66 43.70%,#a6d96a 45.81%,#c0e47a 47.71%,#d9ef8b 49.44%,#ecf7a5 51.02%,#ffffbf 52.47%,#fef0a5 53.83%,#fee08b 55.09%,#fee08b 77.61%,#fdae61 78.75%,#f46d43 79.83%,#f46d43 100.48%)"></div>
<div class="r" style="background:linear-gradient(90deg,#006837 -0.47%,#006837 30.52%,#1a9850 32.14%,#66bd63 33.62%,#66bd63 41.38%,#77c565 41.51%,#77c565 43.50%,#86cb66 44.51%,#a6d96a 46.57%,#c0e47a 48.43%,#d9ef8b 50.12%,#ecf7a5 51.67%,#ffffbf 53.11%,#fef0a5 54.44%,#fee08b 55.68%,#fee08b 77.78%,#fdae61 78.90%,#f46d43 79.95%,#f46d43 100.48%)"></div>
<div class="r" style="background:linear-gradient(90deg,#006837 -0.47%,#006837 30.52%,#1a9850 32.14%,#66bd63 33.62%,#66bd63 41.47%,#6cc064 41.51%,#6cc064 43.50%,#86cb66 45.32%,#a6d96a 47.33%,#c0e47a 49.15%,#d9ef8b 50.81%,#ecf7a5 52.33%,#ffffbf 53.74%,#fef0a5 55.05%,#fee08b 56.28%,#fee08b 77.95%,#fdae61 79.04%,#f46d43 80.07%,#f46d43 100.48%)"></div>
<div class="r" style="background:linear-gradient(90deg,#006837 -0.47%,#006837 30.52%,#1a9850 32.14%,#66bd63 33.62%,#66bd63 43.50%,#86cb66 45.72%,#a6d96a 47.71%,#c0e47a 49.51%,#d9ef8b 51.15%,#ecf7a5 52.66%,#ffffbf 54.06%,#fef0a5 55.36%,#fee08b 56.58%,#fee08b 78.12%,#fdae61 79.19%,#f46d43 80.19%,#f46d43 100.48%)"></div>
<div class="r" style="background:linear-gradient(90deg,#006837 -0.47%,#006837 30.52%,#1a9850 32.14%,#66bd63 33.62%,#66bd63 43.50%,#86cb66 45.72%,#a6d96a 47.71%,#c0e47a 49.51%,#d9ef8b 51.15%,#ecf7a5 52.66%,#ffffbf 54.06%,#fef0a5 55.36%,#fee08b 56.58%,#fee08b 78.29%,#fdae61 79.33%,#f46d43 80.32%,#f46d43 100.48%)"></div>
<div class="r" style="background:linear-gradient(90deg,#006837 -0.47%,#006837 30.52%,#1a9850 32.14%,#66bd63 33.62%,#66bd63 43.50%,#86cb66 45.72%,#a6d96a 47.71%,#c0e47a 49.51%,#d9ef8b 51.15%,#ecf7a5 52.66%,#ffffbf 54.06%,#fef0a5 55.36%,#fee08b 56.58%,#fee08b 78.45%,#fdae61 79.47%,#f46d43 80.44%,#f46d43 100.48%)"></div>
<div class="r" style="background:linear-gradient(90deg,#006837 -0.47%,#006837 30.52%,#1a9850 32.14%,#66bd63 33.62%,#66bd63 43.50%,#86cb66 45.72%,#a6d96a 47.71%,#c0e47a 49.51%,#d9ef8b 51.15%,#ecf7a5 52.66%,#ffffbf 54.06%,#fef0a5 55.36%,#fee08b 56.58%,#fee08b 78.62%,#fdae61 79.61%,#f46d43 80.56%,#f46d43 100.48%)"></div>
<div class="r" style="background:linear-gradient(90deg,#006837 -0.47%,#006837 30.52%,#1a9850 32.14%,#66bd63 33.62%,#66bd63 43.50%,#86cb66 45.72%,#a6d96a 47.71%,#c0e47a 49.51%,#d9ef8b 51.15%,#ecf7a5 52.66%,#ffffbf 54.06%,#fef0a5 55.36%,#fee08b 56.58%,#fee08b 78.79%,#fdae61 79.76%,#f46d43 80.68%,#f46d43 100.48%)"></div>
<div class="r" style="background:linear-gradient(90deg,#006837 -0.47%,#006837 30.52%,#1a9850 32.14%,#66bd63 33.62%,#66bd63 43.50%,#86cb66 45.72%,#a6d96a 47.71%,#c0e47a 49.51%,#d9ef8b 51.15%,#ecf7a5 52.66%,#ffffbf 54.06%,#fef0a5 55.36%,#fee08b 56.58%,#fee08b 78.96%,#fdae61 79.90%,#f46d43 80.79%,#f46d43 100.48%)"></div>
<div class="r" style="background:linear-gradient(90deg,#006837 -0.47%,#006837 30.52%,#1a9850 32.14%,#66bd63 33.62%,#66bd63 43.50%,#86cb66 45.72%,#a6d96a 47.71%,#c0e47a 49.51%,#d9ef8b 51.15%,#ecf7a5 52.66%,#ffffbf 54.06%,#fef0a5 55.36%,#fee08b 56.58%,#fee08b 79.12%,#fdae61 80.04%,#f46d43 80.91%,#f46d43 100.48%)"></div>
<div class="r" style="background:linear-gradient(90deg,#006837 -0.47%,#006837 30.52%,#1a9850 32.14%,#66bd63 33.62%,#66bd63 43.50%,#86cb66 45.72%,#a6d96a 47.71%,#c0e47a 49.51%,#d9ef8b 51.15%,#ecf7a5 52.66%,#ffffbf 54.06%,#fef0a5 55.36%,#fee08b 56.58%,#fee08b 79.29%,#fdae61 80.18%,#f46d43 81.03%,#f46d43 100.48%)"></div>
<div class="r" style="background:linear-gradient(90deg,#006837 -0.47%,#006837 30.52%,#1a9850 32.14%,#66bd63 33.62%,#66bd63 43.50%,#86cb66 45.72%,#a6d96a 47.71%,#c0e47a 49.51%,#d9ef8b 51.15%,#ecf7a5 52.66%,#ffffbf 54.06%,#fef0a5 55.36%,#fee08b 56.58%,#fee08b 79.45%,#fdae61 80.32%,#f46d43 81.14%,#f46d43 100.48%)"></div>
<div class="r" style="background:linear-gradient(90deg,#006837 -0.47%,#006837 30.52%,#1a9850 32.14%,#66bd63 33.62%,#66bd63 43.50%,#86cb66 45.72%,#a6d96a 47.71%,#c0e47a 49.51%,#d9ef8b 51.15%,#ecf7a5 52.66%,#ffffbf 54.06%,#fef0a5 55.36%,#fee08b 56.58%,#fee08b 79.61%,#fdae61 80.46%,#f46d43 81.26%,#f46d43 100.48%)"></div>
<div class="r" style="background:linear-gradient(90deg,#006837 -0.47%,#006837 30.52%,#1a9850 32.14%,#66bd63 33.62%,#66bd63 43.50%,#86cb66 45.72%,#a6d96a 47.71%,#c0e47a 49.51%,#d9ef8b 51.15%,#ecf7a5 52.66%,#ffffbf 54.06%,#fef0a5 55.36%,#fee08b 56.58%,#fee08b 79.78%,#fdae61 80.59%,#f46d43 81.37%,#f46d43 100.48%)"></div>
<div class="r" style="background:linear-gradient(90deg,#006837 -0.47%,#006837 30.52%,#1a9850 32.14%,#66bd63 33.62%,#66bd63 43.50%,#86cb66 45.72%,#a6d96a 47.71%,#c0e47a 49.51%,#d9ef8b 51.15%,#ecf7a5 52.66%,#ffffbf 54.06%,#fef0a5 55.36%,#fee08b 56.58%,#fee08b 79.93%,#fdae61 80.73%,#f46d43 81.49%,#f46d43 100.48%)"></div>
<div class="r" style="background:linear-gradient(90deg,#006837 -0.47%,#006837 30.52%,#1a9850 32.14%,#66bd63 33.62%,#66bd63 43.50%,#86cb66 45.72%,#a6d96a 47.71%,#c0e47a 49.51%,#d9ef8b 51.15%,#ecf7a5 52.66%,#ffffbf 54.06%,#fef0a5 55.36%,#fee08b 56.58%,#fee08b 80.09%,#fdae61 80.86%,#f46d43 81.60%,#f46d43 100.48%)"></div>
<div class="r" style="background:linear-gradient(90deg,#006837 -0.47%,#006837 30.52%,#1a9850 32.14%,#66bd63 33.62%,#66bd63 43.50%,#86cb66 45.72%,#a6d96a 47.71%,#c0e47a 49.51%,#d9ef8b 51.15%,#ecf7a5 52.66%,#ffffbf 54.06%,#fef0a5 55.36%,#fee08b 56.58%,#fee08b 80.25%,#fdae61 81.00%,#f46d43 81.71%,#f46d43 100.48%)"></div>
<div class="r" style="background:linear-gradient(90deg,#006837 -0.47%,#006837 30.52%,#1a9850 32.14%,#66bd63 33.62%,#66bd63 43.50%,#86cb66 45.72%,#a6d96a 47.71%,#c0e47a 49.51%,#d9ef8b 51.15%,#ecf7a5 52.66%,#ffffbf 54.06%,#fef0a5 55.36%,#fee08b 56.58%,#fee08b 80.40%,#fdae61 81.13%,#f46d43 81.83%,#f46d43 100.48%)"></div>
<div class="r" style="background:linear-gradient(90deg,#006837 -0.47%,#006837 30.52%,#1a9850 32.14%,#66bd63 33.62%,#66bd63 43.50%,#86cb66 45.72%,#a6d96a 47.71%,#c0e47a 49.51%,#d9ef8b 51.15%,#ecf7a5 52.66%,#ffffbf 54.06%,#fef0a5 55.36%,#fee08b 56.58%,#fee08b 80.56%,#fdae61 81.26%,#f46d43 81.94%,#f46d43 100.48%)"></div>
<div class="r" style="background:linear-gradient(90deg,#006837 -0.47%,#006837 30.52%,#1a9850 32.14%,#66bd63 33.62%,#66bd63 43.50%,#86cb66 45.72%,#a6d96a 47.71%,#c0e47a 49.51%,#d9ef8b 51.15%,#ecf7a5 52.66%,#ffffbf 54.06%,#fef0a5 55.36%,#fee08b 56.58%,#fee08b 80.71%,#fdae61 81.39%,#f46d43 82.05%,#f46d43 100.48%)"></div>
<div class="r" style="background:linear-gradient(90deg,#006837 -0.47%,#006837 30.52%,#1a9850 32.14%,#66bd63 33.62%,#66bd63 43.50%,#86cb66 45.72%,#a6d96a 47.71%,#c0e47a 49.51%,#d9ef8b 51.15%,#ecf7a5 52.66%,#ffffbf 54.06%,#fef0a5 55.36%,#fee08b 56.58%,#fee08b 80.86%,#fdae61 81.52%,#f46d43 82.16%,#f46d43 100.48%)"></div>
<div class="r" style="background:linear-gradient(90deg,#006837 -0.47%,#006837 30.52%,#1a9850 32.14%,#66bd63 33.62%,#66bd63 43.50%,#86cb66 45.72%,#a6d96a 47.71%,#c0e47a 49.51%,#d9ef8b 51.15%,#ecf7a5 52.66%,#ffffbf 54.06%,#fef0a5 55.36%,#fee08b 56.58%,#fee08b 81.01%,#fdae61 81.65%,#f46d43 82.27%,#f46d43 100.48%)"></div>
<div class="r" style="background:linear-gradient(90deg,#006837 -0.47%,#006837 30.52%,#1a9850 32.14%,#66bd63 33.62%,#66bd63 43.50%,#86cb66 45.72%,#a6d96a 47.71%,#c0e47a 49.51%,#d9ef8b 51.15%,#ecf7a5 52.66%,#ffffbf 54.06%,#fef0a5 55.36%,#fee08b 56.58%,#fee08b 81.16%,#fdae61 81.78%,#f46d43 82.38%,#f46d43 100.48%)"></div>
<div class="r" style="background:linear-gradient(90deg,#006837 -0.47%,#006837 30.52%,#1a9850 32.14%,#66bd63 33.62%,#66bd63 43.50%,#86cb66 45.72%,#a6d96a 47.71%,#c0e47a 49.51%,#d9ef8b 51.15%,#ecf7a5 52.66%,#ffffbf 54.06%,#fef0a5 55.36%,#fee08b 56.58%,#fee08b 81.31%,#fdae61 81.91%,#f46d43 82.49%,#f46d43 100.48%)"></div>
<div class="r" style="background:linear-gradient(90deg,#006837 -0.47%,#006837 30.52%,#1a9850 32.14%,#66bd63 33.62%,#66bd63 43.50%,#86cb66 45.72%,#a6d96a 47.71%,#c0e47a 49.51%,#d9ef8b 51.15%,#ecf7a5 52.66%,#ffffbf 54.06%,#fef0a5 55.36%,#fee08b 56.58%,#fee08b 81.46%,#fdae61 82.03%,#f46d43 82.59%,#f46d43 100.48%)"></div>
<div class="r" style="background:linear-gradient(90deg,#006837 -0.47%,#006837 30.52%,#1a9850 32.14%,#66bd63 33.62%,#66bd63 43.50%,#86cb66 45.72%,#a6d96a 47.71%,#c0e47a 49.51%,#d9ef8b 51.15%,#ecf7a5 52.66%,#ffffbf 54.06%,#fef0a5 55.36%,#fee08b 56.58%,#fee08b 81.60%,#fdae61 82.16%,#f46d43 82.70%,#f46d43 100.48%)"></div>
<div class="r" style="background:linear-gradient(90deg,#006837 -0.47%,#006837 30.52%,#1a9850 32.14%,#66bd63 33.62%,#66bd63 43.50%,#86cb66 45.72%,#a6d96a 47.71%,#c0e47a 49.51%,#d9ef8b 51.15%,#ecf7a5 52.66%,#ffffbf 54.06%,#fef0a5 55.36%,#fee08b 56.58%,#fee08b 81.75%,#fdae61 82.28%,#f46d43 82.81%,#f46d43 100.48%)"></div>
<div class="r" style="background:linear-gradient(90deg,#006837 -0.47%,#006837 30.52%,#1a9850 32.14%,#66bd63 33.62%,#66bd63 43.50%,#86cb66 45.72%,#a6d96a 47.71%,#c0e47a 49.51%,#d9ef8b 51.15%,#ecf7a5 52.66%,#ffffbf 54.06%,#fef0a5 55.36%,#fee08b 56.58%,#fee08b 81.89%,#fdae61 82.41%,#f46d43 82.91%,#f46d43 100.48%)"></div>
<div class="r" style="background:linear-gradient(90deg,#006837 -0.47%,#006837 30.52%,#1a9850 32.14%,#66bd63 33.62%,#66bd63 43.50%,#86cb66 45.72%,#a6d96a 47.71%,#c0e47a 49.51%,#d9ef8b 51.15%,#ecf7a5 52.66%,#ffffbf 54.06%,#fef0a5 55.36%,#fee08b 56.58%,#fee08b 82.03%,#fdae61 82.53%,#f46d43 83.02%,#f46d43 100.48%)"></div>
<div class="r" style="background:linear-gradient(90deg,#006837 -0.47%,#006837 30.52%,#1a9850 32.14%,#66bd63 33.62%,#66bd63 43.50%,#86cb66 45.72%,#a6d96a 47.71%,#c0e47a 49.51%,#d9ef8b 51.15%,#ecf7a5 52.66%,#ffffbf 54.06%,#fef0a5 55.36%,#fee08b 56.58%,#fee08b 82.17%,#fdae61 82.65%,#f46d43 83.12%,#f46d43 100.48%)"></div>
<div class="r" style="background:linear-gradient(90deg,#006837 -0.47%,#006837 30.52%,#1a9850 32.14%,#66bd63 33.62%,#66bd63 43.50%,#86cb66 45.72%,#a6d96a 47.71%,#c0e47a 49.51%,#d9ef8b 51.15%,#ecf7a5 52.66%,#ffffbf 54.06%,#fef0a5 55.36%,#fee08b 56.58%,#fee08b 82.32%,#fdae61 82.78%,#f46d43 83.23%,#f46d43 100.48%)"></div>
<div class="r" style="background:linear-gradient(90deg,#006837 -0.47%,#006837 30.52%,#1a9850 32.14%,#66bd63 33.62%,#66bd63 43.50%,#86cb66 45.72%,#a6d96a 47.71%,#c0e47a 49.51%,#d9ef8b 51.15%,#ecf7a5 52.66%,#ffffbf 54.06%,#fef0a5 55.36%,#fee08b 56.58%,#fee08b 82.45%,#fdae61 82.90%,#f46d43 83.33%,#f46d43 100.48%)"></div>
<div class="r" style="background:linear-gradient(90deg,#006837 -0.47%,#006837 30.52%,#1a9850 32.14%,#66bd63 33.62%,#66bd63 43.50%,#86cb66 45.72%,#a6d96a 47.71%,#c0e47a 49.51%,#d9ef8b 51.15%,#ecf7a5 52.66%,#ffffbf 54.06%,#fef0a5 55.36%,#fee08b 56.58%,#fee08b 82.59%,#fdae61 83.02%,#f46d43 83.43%,#f46d43 100.48%)"></div>
<div class="r" style="background:linear-gradient(90deg,#006837 -0.47%,#006837 30.52%,#1a9850 32.14%,#66bd63 33.62%,#66bd63 43.50%,#86cb66 45.72%,#a6d96a 47.71%,#c0e47a 49.51%,#d9ef8b 51.15%,#ecf7a5 52.66%,#ffffbf 54.06%,#fef0a5 55.36%,#fee08b 56.58%,#fee08b 82.73%,#fdae61 83.14%,#f46d43 83.53%,#f46d43 100.48%)"></div>
<div class="r" style="background:linear-gradient(90deg,#006837 -0.47%,#006837 30.52%,#1a9850 32.14%,#66bd63 33.62%,#66bd63 43.50%,#86cb66 45.72%,#a6d96a 47.71%,#c0e47a 49.51%,#d9ef8b 51.15%,#ecf7a5 52.66%,#ffffbf 54.06%,#fef0a5 55.36%,#fee08b 56.58%,#fee08b 82.87%,#fdae61 83.26%,#f46d43 83.64%,#f46d43 100.48%)"></div>
<div class="r" style="background:linear-gradient(90deg,#006837 -0.47%,#006837 30.52%,#1a9850 32.14%,#66bd63 33.62%,#66bd63 43.50%,#86cb66 45.72%,#a6d96a 47.71%,#c0e47a 49.51%,#d9ef8b 51.15%,#ecf7a5 52.66%,#ffffbf 54.06%,#fef0a5 55.36%,#fee08b 56.58%,#fee08b 83.00%,#fdae61 83.37%,#f46d43 83.74%,#f46d43 100.48%)"></div>
<div class="r" style="background:linear-gradient(90deg,#006837 -0.47%,#006837 30.52%,#1a9850 32.14%,#66bd63 33.62%,#66bd63 43.50%,#86cb66 45.72%,#a6d96a 47.71%,#c0e47a 49.51%,#d9ef8b 51.15%,#ecf7a5 52.66%,#ffffbf 54.06%,#fef0a5 55.36%,#fee08b 56.58%,#fee08b 83.14%,#fdae61 83.49%,#f46d43 83.84%,#f46d43 100.48%)"></div>
<div class="r" style="background:linear-gradient(90deg,#006837 -0.47%,#006837 30.52%,#1a9850 32.14%,#66bd63 33.62%,#66bd63 43.50%,#86cb66 45.72%,#a6d96a 47.71%,#c0e47a 49.51%,#d9ef8b 51.15%,#ecf7a5 52.66%,#ffffbf 54.06%,#fef0a5 55.36%,#fee08b 56.58%,#fee08b 83.27%,#fdae61 83.61%,#f46d43 83.94%,#f46d43 100.48%)"></div>
<div class="r" style="background:linear-gradient(90deg,#006837 -0.47%,#006837 30.52%,#1a9850 32.14%,#66bd63 33.62%,#66bd63 43.50%,#86cb66 45.72%,#a6d96a 47.71%,#c0e47a 49.51%,#d9ef8b 51.15%,#ecf7a5 52.66%,#ffffbf 54.06%,#fef0a5 55.36%,#fee08b 56.58%,#fee08b 83.40%,#fdae61 83.72%,#f46d43 84.04%,#f46d43 100.48%)"></div>
<div class="r" style="background:linear-gradient(90deg,#006837 -0.47%,#006837 30.52%,#1a9850 32.14%,#66bd63 33.62%,#66bd63 43.50%,#86cb66 45.72%,#a6d96a 47.71%,#c0e47a 49.51%,#d9ef8b 51.15%,#ecf7a5 52.66%,#ffffbf 54.06%,#fef0a5 55.36%,#fee08b 56.58%,#fee08b 83.53%,#fdae61 83.84%,#f46d43 84.14%,#f46d43 100.48%)"></div>
<div class="r" style="background:linear-gradient(90deg,#006837 -0.47%,#006837 30.52%,#1a9850 32.14%,#66bd63 33.62%,#66bd63 43.50%,#86cb66 45.72%,#a6d96a 47.71%,#c0e47a 49.51%,#d9ef8b 51.15%,#ecf7a5 52.66%,#ffffbf 54.06%,#fef0a5 55.36%,#fee08b 56.58%,#fee08b 83.66%,#fdae61 83.95%,#f46d43 84.24%,#f46d43 100.48%)"></div>
<div class="r" style="background:linear-gradient(90deg,#006837 -0.47%,#006837 30.52%,#1a9850 32.14%,#66bd63 33.62%,#66bd63 43.50%,#86cb66 45.72%,#a6d96a 47.71%,#c0e47a 49.51%,#d9ef8b 51.15%,#ecf7a5 52.66%,#ffffbf 54.06%,#fef0a5 55.36%,#fee08b 56.58%,#fee08b 83.79%,#fdae61 84.07%,#f46d43 84.33%,#f46d43 100.48%)"></div>
<div class="r" style="background:linear-gradient(90deg,#006837 -0.47%,#006837 30.52%,#1a9850 32.14%,#66bd63 33.62%,#66bd63 43.50%,#86cb66 45.72%,#a6d96a 47.71%,#c0e47a 49.51%,#d9ef8b 51.15%,#ecf7a5 52.66%,#ffffbf 54.06%,#fef0a5 55.36%,#fee08b 56.58%,#fee08b 83.92%,#fdae61 84.18%,#f46d43 84.43%,#f46d43 100.48%)"></div>
<div class="r" style="background:linear-gradient(90deg,#006837 -0.47%,#006837 30.52%,#1a9850 32.14%,#66bd63 33.62%,#66bd63 43.50%,#86cb66 45.72%,#a6d96a 47.71%,#c0e47a 49.51%,#d9ef8b 51.15%,#ecf7a5 52.66%,#ffffbf 54.06%,#fef0a5 55.36%,#fee08b 56.58%,#fee08b 84.05%,#fdae61 84.29%,#f46d43 84.53%,#f46d43 100.48%)"></div>
<div class="r" style="background:linear-gradient(90deg,#006837 -0.47%,#006837 30.52%,#1a9850 32.14%,#66bd63 33.62%,#66bd63 43.50%,#86cb66 45.72%,#a6d96a 47.71%,#c0e47a 49.51%,#d9ef8b 51.15%,#ecf7a5 52.66%,#ffffbf 54.06%,#fef0a5 55.36%,#fee08b 56.58%,#fee08b 84.18%,#fdae61 84.40%,#f46d43 84.62%,#f46d43 100.48%)"></div>
<div class="r" style="background:linear-gradient(90deg,#006837 -0.47%,#006837 30.52%,#1a9850 32.14%,#66bd63 33.62%,#66bd63 43.50%,#86cb66 45.72%,#a6d96a 47.71%,#c0e47a 49.51%,#d9ef8b 51.15%,#ecf7a5 52.66%,#ffffbf 54.06%,#fef0a5 55.36%,#fee08b 56.58%,#fee08b 84.30%,#fdae61 84.51%,#f46d43 84.72%,#f46d43 100.48%)"></div>
<div class="r" style="background:linear-gradient(90deg,#006837 -0.47%,#006837 30.52%,#1a9850 32.14%,#66bd63 33.62%,#66bd63 43.50%,#86cb66 45.72%,#a6d96a 47.71%,#c0e47a 49.51%,#d9ef8b 51.15%,#ecf7a5 52.66%,#ffffbf 54.06%,#fef0a5 55.36%,#fee08b 56.58%,#fee08b 84.43%,#fdae61 84.62%,#f46d43 84.82%,#f46d43 100.48%)"></div>
<div class="r" style="background:linear-gradient(90deg,#006837 -0.47%,#006837 30.52%,#1a9850 32.14%,#66bd63 33.62%,#66bd63 43.50%,#86cb66 45.72%,#a6d96a 47.71%,#c0e47a 49.51%,#d9ef8b 51.15%,#ecf7a5 52.66%,#ffffbf 54.06%,#fef0a5 55.36%,#fee08b 56.58%,#fee08b 84.44%,#fdae61 84.63%,#f46d43 84.83%,#f46d43 100.48%)"></div>
<div class="r" style="background:linear-gradient(90deg,#006837 -0.47%,#006837 30.52%,#1a9850 32.14%,#66bd63 33.62%,#66bd63 43.50%,#86cb66 45.72%,#a6d96a 47.71%,#c0e47a 49.51%,#d9ef8b 51.15%,#ecf7a5 52.66%,#ffffbf 54.06%,#fef0a5 55.36%,#fee08b 56.58%,#fee08b 84.33%,#fdae61 84.54%,#f46d43 84.75%,#f46d43 100.48%)"></div>
<div class="r" style="background:linear-gradient(90deg,#006837 -0.47%,#006837 30.52%,#1a9850 32.14%,#66bd63 33.62%,#66bd63 43.50%,#86cb66 45.72%,#a6d96a 47.71%,#c0e47a 49.51%,#d9ef8b 51.15%,#ecf7a5 52.66%,#ffffbf 54.06%,#fef0a5 55.36%,#fee08b 56.58%,#fee08b 84.22%,#fdae61 84.45%,#f46d43 84.68%,#f46d43 100.48%)"></div>
<div class="r" style="background:linear-gradient(90deg,#006837 -0.47%,#006837 30.52%,#1a9850 32.14%,#66bd63 33.62%,#66bd63 43.50%,#86cb66 45.72%,#a6d96a 47.71%,#c0e47a 49.51%,#d9ef8b 51.15%,#ecf7a5 52.66%,#ffffbf 54.06%,#fef0a5 55.36%,#fee08b 56.58%,#fee08b 84.10%,#fdae61 84.36%,#f46d43 84.60%,#f46d43 100.48%)"></div>
<div class="r" style="background:linear-gradient(90deg,#006837 -0.47%,#006837 30.52%,#1a9850 32.14%,#66bd63 33.62%,#66bd63 43.50%,#86cb66 45.72%,#a6d96a 47.71%,#c0e47a 49.51%,#d9ef8b 51.15%,#ecf7a5 52.66%,#ffffbf 54.06%,#fef0a5 55.36%,#fee08b 56.58%,#fee08b 83.99%,#fdae61 84.26%,#f46d43 84.53%,#f46d43 100.48%)"></div>
<div class="r" style="background:linear-gradient(90deg,#006837 -0.47%,#006837 30.52%,#1a9850 32.14%,#66bd63 33.62%,#66bd63 43.50%,#86cb66 45.72%,#a6d96a 47.71%,#c0e47a 49.51%,#d9ef8b 51.15%,#ecf7a5 52.66%,#ffffbf 54.06%,#fef0a5 55.36%,#fee08b 56.58%,#fee08b 83.88%,#fdae61 84.17%,#f46d43 84.45%,#f46d43 100.48%)"></div>
<div class="r" style="background:linear-gradient(90deg,#006837 -0.47%,#006837 30.52%,#1a9850 32.14%,#66bd63 33.62%,#66bd63 43.50%,#86cb66 45.72%,#a6d96a 47.71%,#c0e47a 49.51%,#d9ef8b 51.15%,#ecf7a5 52.66%,#ffffbf 54.06%,#fef0a5 55.36%,#fee08b 56.58%,#fee08b 83.76%,#fdae61 84.07%,#f46d43 84.38%,#f46d43 100.48%)"></div>
<div class="r" style="background:linear-gradient(90deg,#006837 -0.47%,#006837 30.52%,#1a9850 32.14%,#66bd63 33.62%,#66bd63 43.50%,#86cb66 45.72%,#a6d96a 47.71%,#c0e47a 49.51%,#d9ef8b 51.15%,#ecf7a5 52.66%,#ffffbf 54.06%,#fef0a5 55.36%,#fee08b 56.58%,#fee08b 83.65%,#fdae61 83.98%,#f46d43 84.30%,#f46d43 100.48%)"></div>
<div class="r" style="background:linear-gradient(90deg,#006837 -0.47%,#006837 30.52%,#1a9850 32.14%,#66bd63 33.62%,#66bd63 43.50%,#86cb66 45.72%,#a6d96a 47.71%,#c0e47a 49.51%,#d9ef8b 51.15%,#ecf7a5 52.66%,#ffffbf 54.06%,#fef0a5 55.36%,#fee08b 56.58%,#fee08b 83.54%,#fdae61 83.89%,#f46d43 84.23%,#f46d43 100.48%)"></div>
<div class="r" style="background:linear-gradient(90deg,#006837 -0.47%,#006837 30.52%,#1a9850 32.14%,#66bd63 33.62%,#66bd63 43.50%,#86cb66 45.72%,#a6d96a 47.71%,#c0e47a 49.51%,#d9ef8b 51.15%,#ecf7a5 52.66%,#ffffbf 54.06%,#fef0a5 55.36%,#fee08b 56.58%,#fee08b 83.42%,#fdae61 83.79%,#f46d43 84.15%,#f46d43 100.48%)"></div>
<div class="r" style="background:linear-gradient(90deg,#006837 -0.47%,#006837 30.52%,#1a9850 32.14%,#66bd63 33.62%,#66bd63 43.50%,#86cb66 45.72%,#a6d96a 47.71%,#c0e47a 49.51%,#d9ef8b 51.15%,#ecf7a5 52.66%,#ffffbf 54.06%,#fef0a5 55.36%,#fee08b 56.58%,#fee08b 83.30%,#fdae61 83.69%,#f46d43 84.08%,#f46d43 100.48%)"></div>
<div class="r" style="background:linear-gradient(90deg,#006837 -0.47%,#006837 30.56%,#1a9850 32.17%,#66bd63 33.65%,#66bd63 43.50%,#86cb66 45.72%,#a6d96a 47.71%,#c0e47a 49.51%,#d9ef8b 51.15%,#ecf7a5 52.66%,#ffffbf 54.06%,#fef0a5 55.36%,#fee08b 56.58%,#fee08b 83.19%,#fdae61 83.60%,#f46d43 84.00%,#f46d43 100.48%)"></div>
<div class="r" style="background:linear-gradient(90deg,#006837 -0.47%,#006837 30.63%,#1a9850 32.23%,#66bd63 33.70%,#66bd63 43.50%,#86cb66 45.72%,#a6d96a 47.71%,#c0e47a 49.51%,#d9ef8b 51.15%,#ecf7a5 52.66%,#ffffbf 54.06%,#fef0a5 55.36%,#fee08b 56.58%,#fee08b 83.07%,#fdae61 83.50%,#f46d43 83.92%,#f46d43 100.48%)"></div>
<div class="r" style="background:linear-gradient(90deg,#006837 -0.47%,#006837 30.70%,#1a9850 32.29%,#66bd63 33.75%,#66bd63 43.50%,#86cb66 45.72%,#a6d96a 47.71%,#c0e47a 49.51%,#d9ef8b 51.15%,#ecf7a5 52.66%,#ffffbf 54.06%,#fef0a5 55.36%,#fee08b 56.58%,#fee08b 82.95%,#fdae61 83.40%,#f46d43 83.84%,#f46d43 100.48%)"></div>
<div class="r" style="background:linear-gradient(90deg,#006837 -0.47%,#006837 30.77%,#1a9850 32.35%,#66bd63 33.81%,#66bd63 43.50%,#86cb66 45.72%,#a6d96a 47.71%,#c0e47a 49.51%,#d9ef8b 51.15%,#ecf7a5 52.66%,#ffffbf 54.06%,#fef0a5 55.36%,#fee08b 56.58%,#fee08b 82.83%,#fdae61 83.30%,#f46d43 83.77%,#f46d43 100.48%)"></div>
<div class="r" style="background:linear-gradient(90deg,#006837 -0.47%,#006837 30.84%,#1a9850 32.41%,#66bd63 33.86%,#66bd63 43.50%,#86cb66 45.72%,#a6d96a 47.71%,#c0e47a 49.51%,#d9ef8b 51.15%,#ecf7a5 52.66%,#ffffbf 54.06%,#fef0a5 55.36%,#fee08b 56.58%,#fee08b 82.71%,#fdae61 83.21%,#f46d43 83.69%,#f46d43 100.48%)"></div>
<div class="r" style="background:linear-gradient(90deg,#006837 -0.47%,#006837 30.91%,#1a9850 32.47%,#66bd63 33.91%,#66bd63 43.50%,#86cb66 45.72%,#a6d96a 47.71%,#c0e47a 49.51%,#d9ef8b 51.15%,#ecf7a5 52.66%,#ffffbf 54.06%,#fef0a5 55.36%,#fee08b 56.58%,#fee08b 82.59%,#fdae61 83.11%,#f46d43 83.61%,#f46d43 100.48%)"></div>
<div class="r" style="background:linear-gradient(90deg,#006837 -0.47%,#006837 30.98%,#1a9850 32.53%,#66bd63 33.96%,#66bd63 43.50%,#86cb66 45.72%,#a6d96a 47.71%,#c0e47a 49.51%,#d9ef8b 51.15%,#ecf7a5 52.66%,#ffffbf 54.06%,#fef0a5 55.36%,#fee08b 56.58%,#fee08b 82.47%,#fdae61 83.01%,#f46d43 83.53%,#f46d43 100.48%)"></div>
<div class="r" style="background:linear-gradient(90deg,#006837 -0.47%,#006837 31.04%,#1a9850 32.59%,#66bd63 34.01%,#66bd63 43.50%,#86cb66 45.72%,#a6d96a 47.71%,#c0e47a 49.51%,#d9ef8b 51.15%,#ecf7a5 52.66%,#ffffbf 54.06%,#fef0a5 55.36%,#fee08b 56.58%,#fee08b 82.35%,#fdae61 82.91%,#f46d43 83.45%,#f46d43 100.48%)"></div>
<div class="r" style="background:linear-gradient(90deg,#006837 -0.47%,#006837 31.11%,#1a9850 32.65%,#66bd63 34.06%,#66bd63 43.50%,#86cb66 45.72%,#a6d96a 47.71%,#c0e47a 49.51%,#d9ef8b 51.15%,#ecf7a5 52.66%,#ffffbf 54.06%,#fef0a5 55.36%,#fee08b 56.58%,#fee08b 82.22%,#fdae61 82.81%,#f46d43 83.37%,#f46d43 100.48%)"></div>
<div class="r" style="background:linear-gradient(90deg,#006837 -0.47%,#006837 31.18%,#1a9850 32.71%,#66bd63 34.11%,#66bd63 43.50%,#86cb66 45.72%,#a6d96a 47.71%,#c0e47a 49.51%,#d9ef8b 51.15%,#ecf7a5 52.66%,#ffffbf 54.06%,#fef0a5 55.36%,#fee08b 56.58%,#fee08b 82.10%,#fdae61 82.71%,#f46d43 83.29%,#f46d43 100.48%)"></div>
<div class="r" style="background:linear-gradient(90deg,#006837 -0.47%,#006837 31.25%,#1a9850 32.76%,#66bd63 34.17%,#66bd63 43.50%,#86cb66 45.72%,#a6d96a 47.71%,#c0e47a 49.51%,#d9ef8b 51.15%,#ecf7a5 52.66%,#ffffbf 54.06%,#fef0a5 55.36%,#fee08b 56.58%,#fee08b 81.97%,#fdae61 82.60%,#f46d43 83.21%,#f46d43 100.48%)"></div>
<div class="r" style="background:linear-gradient(90deg,#006837 -0.47%,#006837 31.32%,#1a9850 32.82%,#66bd63 34.22%,#66bd63 43.50%,#86cb66 45.72%,#a6d96a 47.71%,#c0e47a 49.51%,#d9ef8b 51.15%,#ecf7a5 52.66%,#ffffbf 54.06%,#fef0a5 55.36%,#fee08b 56.58%,#fee08b 81.85%,#fdae61 82.50%,#f46d43 83.13%,#f46d43 100.48%)"></div>
<div class="r" style="background:linear-gradient(90deg,#006837 -0.47%,#006837 31.39%,#1a9850 32.88%,#66bd63 34.27%,#66bd63 43.50%,#86cb66 45.72%,#a6d96a 47.71%,#c0e47a 49.51%,#d9ef8b 51.15%,#ecf7a5 52.66%,#ffffbf 54.06%,#fef0a5 55.36%,#fee08b 56.58%,#fee08b 81.72%,#fdae61 82.40%,#f46d43 83.05%,#f46d43 100.48%)"></div>
<div class="r" style="background:linear-gradient(90deg,#006837 -0.47%,#006837 31.45%,#1a9850 32.94%,#66bd63 34.32%,#66bd63 43.50%,#86cb66 45.72%,#a6d96a 47.71%,#c0e47a 49.51%,#d9ef8b 51.15%,#ecf7a5 52.66%,#ffffbf 54.06%,#fef0a5 55.36%,#fee08b 56.58%,#fee08b 81.59%,#fdae61 82.29%,#f46d43 82.97%,#f46d43 100.48%)"></div>
<div class="r" style="background:linear-gradient(90deg,#006837 -0.47%,#006837 31.52%,#1a9850 33.00%,#66bd63 34.37%,#66bd63 43.50%,#86cb66 45.72%,#a6d96a 47.71%,#c0e47a 49.51%,#d9ef8b 51.15%,#ecf7a5 52.66%,#ffffbf 54.06%,#fef0a5 55.36%,#fee08b 56.58%,#fee08b 81.47%,#fdae61 82.19%,#f46d43 82.89%,#f46d43 100.48%)"></div>
<div class="r" style="background:linear-gradient(90deg,#006837 -0.47%,#006837 31.59%,#1a9850 33.06%,#66bd63 34.42%,#66bd63 43.50%,#86cb66 45.72%,#a6d96a 47.71%,#c0e47a 49.51%,#d9ef8b 51.15%,#ecf7a5 52.66%,#ffffbf 54.06%,#fef0a5 55.36%,#fee08b 56.58%,#fee08b 81.34%,#fdae61 82.09%,#f46d43 82.81%,#f46d43 100.48%)"></div>
<div class="r" style="background:linear-gradient(90deg,#006837 -0.47%,#006837 31.65%,#1a9850 33.11%,#66bd63 34.47%,#66bd63 43.50%,#86cb66 45.72%,#a6d96a 47.71%,#c0e47a 49.51%,#d9ef8b 51.15%,#ecf7a5 52.66%,#ffffbf 54.06%,#fef0a5 55.36%,#fee08b 56.58%,#fee08b 81.21%,#fdae61 81.98%,#f46d43 82.73%,#f46d43 100.48%)"></div>
<div class="r" style="background:linear-gradient(90deg,#006837 -0.47%,#006837 31.72%,#1a9850 33.17%,#66bd63 34.52%,#66bd63 43.50%,#86cb66 45.72%,#a6d96a 47.71%,#c0e47a 49.51%,#d9ef8b 51.15%,#ecf7a5 52.66%,#ffffbf 54.06%,#fef0a5 55.36%,#fee08b 56.58%,#fee08b 81.08%,#fdae61 81.88%,#f46d43 82.64%,#f46d43 100.48%)"></div>
<div class="r" style="background:linear-gradient(90deg,#006837 -0.47%,#006837 31.79%,#1a9850 33.23%,#66bd63 34.57%,#66bd63 43.50%,#86cb66 45.72%,#a6d96a 47.71%,#c0e47a 49.51%,#d9ef8b 51.15%,#ecf7a5 52.66%,#ffffbf 54.06%,#fef0a5 55.36%,#fee08b 56.58%,#fee08b 80.94%,#fdae61 81.77%,#f46d43 82.56%,#f46d43 100.48%)"></div>
<div class="r" style="background:linear-gradient(90deg,#006837 -0.47%,#006837 31.85%,#1a9850 33.29%,#66bd63 34.62%,#66bd63 43.50%,#86cb66 45.72%,#a6d96a 47.71%,#c0e47a 49.51%,#d9ef8b 51.15%,#ecf7a5 52.66%,#ffffbf 54.06%,#fef0a5 55.36%,#fee08b 56.58%,#fee08b 80.81%,#fdae61 81.66%,#f46d43 82.48%,#f46d43 100.48%)"></div>
<div class="r" style="background:linear-gradient(90deg,#006837 -0.47%,#006837 31.92%,#1a9850 33.34%,#66bd63 34.67%,#66bd63 43.50%,#86cb66 45.72%,#a6d96a 47.71%,#c0e47a 49.51%,#d9ef8b 51.15%,#ecf7a5 52.66%,#ffffbf 54.06%,#fef0a5 55.36%,#fee08b 56.58%,#fee08b 80.68%,#fdae61 81.55%,#f46d43 82.39%,#f46d43 100.48%)"></div>
<div class="r" style="background:linear-gradient(90deg,#006837 -0.47%,#006837 31.98%,#1a9850 33.40%,#66bd63 34.72%,#66bd63 43.50%,#86cb66 45.72%,#a6d96a 47.71%,#c0e47a 49.51%,#d9ef8b 51.15%,#ecf7a5 52.66%,#ffffbf 54.06%,#fef0a5 55.36%,#fee08b 56.58%,#fee08b 80.54%,#fdae61 81.45%,#f46d43 82.31%,#f46d43 100.48%)"></div>
<div class="r" style="background:linear-gradient(90deg,#006837 -0.47%,#006837 32.05%,#1a9850 33.46%,#66bd63 34.77%,#66bd63 43.50%,#86cb66 45.72%,#a6d96a 47.71%,#c0e47a 49.51%,#d9ef8b 51.15%,#ecf7a5 52.66%,#ffffbf 54.06%,#fef0a5 55.36%,#fee08b 56.58%,#fee08b 80.41%,#fdae61 81.34%,#f46d43 82.22%,#f46d43 100.48%)"></div>
<div class="r" style="background:linear-gradient(90deg,#006837 -0.47%,#006837 32.12%,#1a9850 33.51%,#66bd63 34.82%,#66bd63 43.50%,#86cb66 45.72%,#a6d96a 47.71%,#c0e47a 49.51%,#d9ef8b 51.15%,#ecf7a5 52.66%,#ffffbf 54.06%,#fef0a5 55.36%,#fee08b 56.58%,#fee08b 80.27%,#fdae61 81.23%,#f46d43 82.14%,#f46d43 100.48%)"></div>
<div class="r" style="background:linear-gradient(90deg,#006837 -0.47%,#006837 32.18%,#1a9850 33.57%,#66bd63 34.87%,#66bd63 43.50%,#86cb66 45.72%,#a6d96a 47.71%,#c0e47a 49.51%,#d9ef8b 51.15%,#ecf7a5 52.66%,#ffffbf 54.06%,#fef0a5 55.36%,#fee08b 56.58%,#fee08b 80.13%,#fdae61 81.12%,#f46d43 82.06%,#f46d43 100.48%)"></div>
<div class="r" style="background:linear-gradient(90deg,#006837 -0.47%,#006837 32.24%,#1a9850 33.63%,#66bd63 34.91%,#66bd63 43.50%,#86cb66 45.72%,#a6d96a 47.71%,#c0e47a 49.51%,#d9ef8b 51.15%,#ecf7a5 52.66%,#ffffbf 54.06%,#fef0a5 55.36%,#fee08b 56.58%,#fee08b 79.99%,#fdae61 81.01%,#f46d43 81.97%,#f46d43 100.48%)"></div>
<div class="r" style="background:linear-gradient(90deg,#006837 -0.47%,#006837 32.31%,#1a9850 33.68%,#66bd63 34.96%,#66bd63 43.50%,#86cb66 45.72%,#a6d96a 47.71%,#c0e47a 49.51%,#d9ef8b 51.15%,#ecf7a5 52.66%,#ffffbf 54.06%,#fef0a5 55.36%,#fee08b 56.58%,#fee08b 79.85%,#fdae61 80.90%,#f46d43 81.88%,#f46d43 100.48%)"></div>
<div class="r" style="background:linear-gradient(90deg,#006837 -0.47%,#006837 32.37%,#1a9850 33.74%,#66bd63 35.01%,#66bd63 43.50%,#86cb66 45.72%,#a6d96a 47.71%,#c0e47a 49.51%,#d9ef8b 51.15%,#ecf7a5 52.66%,#ffffbf 54.06%,#fef0a5 55.36%,#fee08b 56.58%,#fee08b 79.71%,#fdae61 80.78%,#f46d43 81.80%,#f46d43 100.48%)"></div>
<div class="r" style="background:linear-gradient(90deg,#006837 -0.47%,#006837 32.44%,#1a9850 33.80%,#66bd63 35.06%,#66bd63 43.50%,#86cb66 45.72%,#a6d96a 47.71%,#c0e47a 49.51%,#d9ef8b 51.15%,#ecf7a5 52.66%,#ffffbf 54.06%,#fef0a5 55.36%,#fee08b 56.58%,#fee08b 79.57%,#fdae61 80.67%,#f46d43 81.71%,#f46d43 100.48%)"></div>
<div class="r" style="background:linear-gradient(90deg,#006837 -0.47%,#006837 32.50%,#1a9850 33.85%,#66bd63 35.11%,#66bd63 43.50%,#86cb66 45.72%,#a6d96a 47.71%,#c0e47a 49.51%,#d9ef8b 51.15%,#ecf7a5 52.66%,#ffffbf 54.06%,#fef0a5 55.36%,#fee08b 56.58%,#fee08b 79.43%,#fdae61 80.56%,#f46d43 81.62%,#f46d43 100.48%)"></div>
<div class="r" style="background:linear-gradient(90deg,#006837 -0.47%,#006837 32.57%,#1a9850 33.91%,#66bd63 35.16%,#66bd63 43.50%,#86cb66 45.72%,#a6d96a 47.71%,#c0e47a 49.51%,#d9ef8b 51.15%,#ecf7a5 52.66%,#ffffbf 54.06%,#fef0a5 55.36%,#fee08b 56.58%,#fee08b 79.28%,#fdae61 80.44%,#f46d43 81.54%,#f46d43 100.48%)"></div>
<div class="r" style="background:linear-gradient(90deg,#006837 -0.47%,#006837 32.63%,#1a9850 33.96%,#66bd63 35.21%,#66bd63 43.50%,#86cb66 45.72%,#a6d96a 47.71%,#c0e47a 49.51%,#d9ef8b 51.15%,#ecf7a5 52.66%,#ffffbf 54.06%,#fef0a5 55.36%,#fee08b 56.58%,#fee08b 79.14%,#fdae61 80.33%,#f46d43 81.45%,#f46d43 100.48%)"></div>
<div class="r" style="background:linear-gradient(90deg,#006837 -0.47%,#006837 32.69%,#1a9850 34.02%,#66bd63 35.25%,#66bd63 43.50%,#86cb66 45.72%,#a6d96a 47.71%,#c0e47a 49.51%,#d9ef8b 51.15%,#ecf7a5 52.66%,#ffffbf 54.06%,#fef0a5 55.36%,#fee08b 56.58%,#fee08b 78.99%,#fdae61 80.21%,#f46d43 81.36%,#f46d43 100.48%)"></div>
<div class="r" style="background:linear-gradient(90deg,#006837 -0.47%,#006837 32.75%,#1a9850 34.07%,#66bd63 35.30%,#66bd63 43.50%,#86cb66 45.72%,#a6d96a 47.71%,#c0e47a 49.51%,#d9ef8b 51.15%,#ecf7a5 52.66%,#ffffbf 54.06%,#fef0a5 55.36%,#fee08b 56.58%,#fee08b 78.85%,#fdae61 80.10%,#f46d43 81.27%,#f46d43 100.48%)"></div>
<div class="r" style="background:linear-gradient(90deg,#006837 -0.47%,#006837 32.82%,#1a9850 34.13%,#66bd63 35.35%,#66bd63 43.50%,#86cb66 45.72%,#a6d96a 47.71%,#c0e47a 49.51%,#d9ef8b 51.15%,#ecf7a5 52.66%,#ffffbf 54.06%,#fef0a5 55.36%,#fee08b 56.58%,#fee08b 78.70%,#fdae61 79.98%,#f46d43 81.18%,#f46d43 100.48%)"></div>
<div class="r" style="background:linear-gradient(90deg,#006837 -0.47%,#006837 32.88%,#1a9850 34.18%,#66bd63 35.40%,#66bd63 43.50%,#86cb66 45.72%,#a6d96a 47.71%,#c0e47a 49.51%,#d9ef8b 51.15%,#ecf7a5 52.66%,#ffffbf 54.06%,#fef0a5 55.36%,#fee08b 56.58%,#fee08b 78.55%,#fdae61 79.86%,#f46d43 81.09%,#f46d43 100.48%)"></div>
<div class="r" style="background:linear-gradient(90deg,#006837 -0.47%,#006837 32.94%,#1a9850 34.24%,#66bd63 35.45%,#66bd63 43.50%,#86cb66 45.72%,#a6d96a 47.71%,#c0e47a 49.51%,#d9ef8b 51.15%,#ecf7a5 52.66%,#ffffbf 54.06%,#fef0a5 55.36%,#fee08b 56.58%,#fee08b 78.40%,#fdae61 79.74%,#f46d43 81.00%,#f46d43 100.48%)"></div>
<div class="r" style="background:linear-gradient(90deg,#006837 -0.47%,#006837 33.00%,#1a9850 34.29%,#66bd63 35.49%,#66bd63 43.50%,#86cb66 45.72%,#a6d96a 47.71%,#c0e47a 49.51%,#d9ef8b 51.15%,#ecf7a5 52.66%,#ffffbf 54.06%,#fef0a5 55.36%,#fee08b 56.58%,#fee08b 78.25%,#fdae61 79.63%,#f46d43 80.91%,#f46d43 100.48%)"></div>
<div class="r" style="background:linear-gradient(90deg,#006837 -0.47%,#006837 33.07%,#1a9850 34.34%,#66bd63 35.54%,#66bd63 43.50%,#86cb66 45.72%,#a6d96a 47.71%,#c0e47a 49.51%,#d9ef8b 51.15%,#ecf7a5 52.66%,#ffffbf 54.06%,#fef0a5 55.36%,#fee08b 56.58%,#fee08b 78.09%,#fdae61 79.51%,#f46d43 80.82%,#f46d43 100.48%)"></div>
<div class="r" style="background:linear-gradient(90deg,#006837 -0.47%,#006837 33.13%,#1a9850 34.40%,#66bd63 35.59%,#66bd63 43.50%,#86cb66 45.72%,#a6d96a 47.71%,#c0e47a 49.51%,#d9ef8b 51.15%,#ecf7a5 52.66%,#ffffbf 54.06%,#fef0a5 55.36%,#fee08b 56.58%,#fee08b 77.94%,#fdae61 79.39%,#f46d43 80.73%,#f46d43 100.48%)"></div>
<div class="r" style="background:linear-gradient(90deg,#006837 -0.47%,#006837 33.19%,#1a9850 34.45%,#66bd63 35.64%,#66bd63 43.50%,#86cb66 45.72%,#a6d96a 47.71%,#c0e47a 49.51%,#d9ef8b 51.15%,#ecf7a5 52.66%,#ffffbf 54.06%,#fef0a5 55.36%,#fee08b 56.58%,#fee08b 77.78%,#fdae61 79.26%,#f46d43 80.64%,#f46d43 100.48%)"></div>
<div class="r" style="background:linear-gradient(90deg,#006837 -0.47%,#006837 33.25%,#1a9850 34.51%,#66bd63 35.68%,#66bd63 43.50%,#86cb66 45.72%,#a6d96a 47.71%,#c0e47a 49.51%,#d9ef8b 51.15%,#ecf7a5 52.66%,#ffffbf 54.06%,#fef0a5 55.36%,#fee08b 56.58%,#fee08b 77.62%,#fdae61 79.14%,#f46d43 80.55%,#f46d43 100.48%)"></div>
<div class="r" style="background:linear-gradient(90deg,#006837 -0.47%,#006837 33.31%,#1a9850 34.56%,#66bd63 35.73%,#66bd63 43.50%,#86cb66 45.72%,#a6d96a 47.71%,#c0e47a 49.51%,#d9ef8b 51.15%,#ecf7a5 52.66%,#ffffbf 54.06%,#fef0a5 55.36%,#fee08b 56.58%,#fee08b 77.47%,#fdae61 79.02%,#f46d43 80.45%,#f46d43 100.48%)"></div>
<div class="r" style="background:linear-gradient(90deg,#006837 -0.47%,#006837 33.37%,#1a9850 34.61%,#66bd63 35.78%,#66bd63 43.50%,#86cb66 45.72%,#a6d96a 47.71%,#c0e47a 49.51%,#d9ef8b 51.15%,#ecf7a5 52.66%,#ffffbf 54.06%,#fef0a5 55.36%,#fee08b 56.58%,#fee08b 77.31%,#fdae61 78.90%,#f46d43 80.36%,#f46d43 100.48%)"></div>
<div class="r" style="background:linear-gradient(90deg,#006837 -0.47%,#006837 33.43%,#1a9850 34.67%,#66bd63 35.82%,#66bd63 43.50%,#86cb66 45.72%,#a6d96a 47.71%,#c0e47a 49.51%,#d9ef8b 51.15%,#ecf7a5 52.66%,#ffffbf 54.06%,#fef0a5 55.36%,#fee08b 56.58%,#fee08b 77.15%,#fdae61 78.77%,#f46d43 80.27%,#f46d43 100.48%)"></div>
<div class="r" style="background:linear-gradient(90deg,#006837 -0.47%,#006837 33.49%,#1a9850 34.72%,#66bd63 35.87%,#66bd63 43.50%,#86cb66 45.72%,#a6d96a 47.71%,#c0e47a 49.51%,#d9ef8b 51.15%,#ecf7a5 52.66%,#ffffbf 54.06%,#fef0a5 55.36%,#fee08b 56.58%,#fee08b 76.98%,#fdae61 78.65%,#f46d43 80.17%,#f46d43 100.48%)"></div>
<div class="r" style="background:linear-gradient(90deg,#006837 -0.47%,#006837 33.56%,#1a9850 34.77%,#66bd63 35.92%,#66bd63 43.50%,#86cb66 45.72%,#a6d96a 47.71%,#c0e47a 49.51%,#d9ef8b 51.15%,#ecf7a5 52.66%,#ffffbf 54.06%,#fef0a5 55.36%,#fee08b 56.58%,#fee08b 76.82%,#fdae61 78.52%,#f46d43 80.08%,#f46d43 100.48%)"></div>
<div class="r" style="background:linear-gradient(90deg,#006837 -0.47%,#006837 33.62%,#1a9850 34.83%,#66bd63 35.96%,#66bd63 43.50%,#86cb66 45.72%,#a6d96a 47.71%,#c0e47a 49.51%,#d9ef8b 51.15%,#ecf7a5 52.66%,#ffffbf 54.06%,#fef0a5 55.36%,#fee08b 56.58%,#fee08b 76.65%,#fdae61 78.39%,#f46d43 79.98%,#f46d43 100.48%)"></div>
<div class="r" style="background:linear-gradient(90deg,#006837 -0.47%,#006837 33.68%,#1a9850 34.88%,#66bd63 36.01%,#66bd63 43.50%,#86cb66 45.72%,#a6d96a 47.71%,#c0e47a 49.51%,#d9ef8b 51.15%,#ecf7a5 52.66%,#ffffbf 54.06%,#fef0a5 55.36%,#fee08b 56.58%,#fee08b 76.49%,#fdae61 78.26%,#f46d43 79.89%,#f46d43 100.48%)"></div>
<div class="r" style="background:linear-gradient(90deg,#006837 -0.47%,#006837 33.74%,#1a9850 34.93%,#66bd63 36.06%,#66bd63 43.50%,#86cb66 45.72%,#a6d96a 47.71%,#c0e47a 49.51%,#d9ef8b 51.15%,#ecf7a5 52.66%,#ffffbf 54.06%,#fef0a5 55.36%,#fee08b 56.58%,#fee08b 76.32%,#fdae61 78.14%,#f46d43 79.79%,#f46d43 100.48%)"></div>
<div class="r" style="background:linear-gradient(90deg,#006837 -0.47%,#006837 33.79%,#1a9850 34.98%,#66bd63 36.10%,#66bd63 43.50%,#86cb66 45.72%,#a6d96a 47.71%,#c0e47a 49.51%,#d9ef8b 51.15%,#ecf7a5 52.66%,#ffffbf 54.06%,#fef0a5 55.36%,#fee08b 56.58%,#fee08b 76.15%,#fdae61 78.01%,#f46d43 79.70%,#f46d43 100.48%)"></div>
<div class="r" style="background:linear-gradient(90deg,#006837 -0.47%,#006837 33.85%,#1a9850 35.04%,#66bd63 36.15%,#66bd63 43.50%,#86cb66 45.72%,#a6d96a 47.71%,#c0e47a 49.51%,#d9ef8b 51.15%,#ecf7a5 52.66%,#ffffbf 54.06%,#fef0a5 55.36%,#fee08b 56.58%,#fee08b 75.98%,#fdae61 77.87%,#f46d43 79.60%,#f46d43 100.48%)"></div>
<div class="r" style="background:linear-gradient(90deg,#006837 -0.47%,#006837 33.91%,#1a9850 35.09%,#66bd63 36.19%,#66bd63 43.50%,#86cb66 45.72%,#a6d96a 47.71%,#c0e47a 49.51%,#d9ef8b 51.15%,#ecf7a5 52.66%,#ffffbf 54.06%,#fef0a5 55.36%,#fee08b 56.58%,#fee08b 75.80%,#fdae61 77.74%,#f46d43 79.50%,#f46d43 100.48%)"></div>
<div class="r" style="background:linear-gradient(90deg,#006837 -0.47%,#006837 33.97%,#1a9850 35.14%,#66bd63 36.24%,#66bd63 43.50%,#86cb66 45.72%,#a6d96a 47.71%,#c0e47a 49.51%,#d9ef8b 51.15%,#ecf7a5 52.66%,#ffffbf 54.06%,#fef0a5 55.36%,#fee08b 56.58%,#fee08b 75.63%,#fdae61 77.61%,#f46d43 79.40%,#f46d43 100.48%)"></div>
<div class="r" style="background:linear-gradient(90deg,#006837 -0.47%,#006837 34.03%,#1a9850 35.19%,#66bd63 36.28%,#66bd63 43.50%,#86cb66 45.72%,#a6d96a 47.71%,#c0e47a 49.51%,#d9ef8b 51.15%,#ecf7a5 52.66%,#ffffbf 54.06%,#fef0a5 55.36%,#fee08b 56.58%,#fee08b 75.45%,#fdae61 77.48%,#f46d43 79.30%,#f46d43 100.48%)"></div>
<div class="r" style="background:linear-gradient(90deg,#006837 -0.47%,#006837 34.09%,#1a9850 35.24%,#66bd63 36.33%,#66bd63 43.50%,#86cb66 45.72%,#a6d96a 47.71%,#c0e47a 49.51%,#d9ef8b 51.15%,#ecf7a5 52.66%,#ffffbf 54.06%,#fef0a5 55.36%,#fee08b 56.58%,#fee08b 75.28%,#fdae61 77.34%,#f46d43 79.21%,#f46d43 100.48%)"></div>
</div>
<svg width="1270" height="475" viewBox="0 0 1270 475">
<defs><filter id="bl" x="-5%" y="-5%" width="110%" height="110%"><feGaussianBlur stdDeviation="1.5 0.8"/></filter><clipPath id="cb"><rect x="746.6" y="35.8" width="402.6" height="332.0"/></clipPath></defs>
<g clip-path="url(#cb)"><rect x="745.6" y="34.8" width="404.6" height="334.0" fill="#ffffbf"/>
<g filter="url(#bl)">
<polygon fill="#a50026" stroke="#f67a49" stroke-width="1.6" points="738.7,376.8 738.7,148.2 746.6,149.9 746.6,152.1 754.5,153.9 754.5,156.1 762.4,157.8 762.4,160.0 770.3,161.7 770.3,163.9 778.2,165.7 778.2,167.9 786.1,169.6 786.1,171.8 794.0,173.6 794.0,175.8 801.9,177.5 801.9,179.7 809.8,181.4 809.8,183.6 817.6,185.4 817.6,187.6 825.5,189.3 825.5,191.5 833.4,193.2 833.4,195.4 841.3,197.2 841.3,199.4 849.2,201.1 849.2,203.3 857.1,205.1 857.1,207.3 865.0,209.0 865.0,211.2 872.9,212.9 872.9,215.1 880.8,216.9 880.8,219.1 888.7,220.8 888.7,223.0 896.6,224.7 896.6,226.9 904.5,228.7 904.5,230.9 912.4,232.6 912.4,234.8 920.3,236.6 920.3,238.8 928.2,240.5 928.2,242.7 936.1,244.4 936.1,246.6 944.0,248.4 944.0,250.6 951.8,252.3 951.8,254.5 959.7,256.2 959.7,258.4 967.6,260.2 967.6,262.4 975.5,264.1 975.5,266.3 983.4,268.1 983.4,270.3 991.3,272.0 991.3,274.2 999.2,275.9 999.2,278.1 1007.1,279.9 1007.1,282.1 1015.0,283.8 1015.0,286.0 1022.9,287.7 1022.9,289.9 1030.8,291.7 1030.8,293.9 1038.7,295.6 1038.7,297.8 1046.6,299.6 1046.6,301.8 1054.5,303.5 1054.5,305.7 1062.4,307.4 1062.4,309.6 1070.3,311.4 1070.3,313.6 1078.2,315.3 1078.2,317.5 1086.0,319.2 1086.0,321.4 1093.9,323.2 1093.9,325.4 1101.8,327.1 1101.8,329.3 1109.7,331.1 1109.7,333.3 1117.6,335.0 1117.6,337.2 1125.5,338.9 1125.5,341.1 1133.4,342.9 1133.4,345.1 1141.3,346.8 1141.3,349.0 1149.2,350.7 1149.2,352.9 1157.1,354.7 1157.1,376.8"/>
<polygon fill="#4db05c" points="738.7,26.8 738.7,-21.0 746.6,-18.7 746.6,-15.8 754.5,-13.5 754.5,-10.7 762.4,-8.4 762.4,-5.5 770.3,-3.3 770.3,-0.4 778.2,1.9 778.2,4.8 786.1,7.0 786.1,9.9 794.0,12.2 794.0,15.1 801.9,17.3 801.9,20.2 809.8,22.5 809.8,25.4 817.6,27.6 817.6,30.5 825.5,32.8 825.5,35.7 833.4,37.9 833.4,40.8 841.3,43.1 841.3,46.0 849.2,48.2 849.2,51.1 857.1,53.4 857.1,56.2 865.0,58.5 865.0,61.4 872.9,63.7 872.9,66.5 880.8,68.8 880.8,71.7 888.7,74.0 888.7,76.8 896.6,79.1 896.6,82.0 904.5,84.2 904.5,87.1 912.4,89.4 912.4,92.3 920.3,94.5 920.3,97.4 928.2,99.7 928.2,102.6 936.1,104.8 936.1,107.7 944.0,110.0 944.0,112.9 951.8,115.1 951.8,118.0 959.7,120.3 959.7,123.2 967.6,125.4 967.6,128.3 975.5,130.6 975.5,133.5 983.4,135.7 983.4,138.6 991.3,140.9 991.3,143.7 999.2,146.0 999.2,148.9 1007.1,151.2 1007.1,154.0 1015.0,156.3 1015.0,159.2 1022.9,161.5 1022.9,164.3 1030.8,166.6 1030.8,169.5 1038.7,171.7 1038.7,174.6 1046.6,176.9 1046.6,179.8 1054.5,182.0 1054.5,184.9 1062.4,187.2 1062.4,190.1 1070.3,192.3 1070.3,195.2 1078.2,197.5 1078.2,200.4 1086.0,202.6 1086.0,205.5 1093.9,207.8 1093.9,210.7 1101.8,212.9 1101.8,215.8 1109.7,218.1 1109.7,221.0 1117.6,223.2 1117.6,226.1 1125.5,228.4 1125.5,231.2 1133.4,233.5 1133.4,236.4 1141.3,238.7 1141.3,241.5 1149.2,243.8 1149.2,246.7 1157.1,249.0 1157.1,26.8"/>
<polygon fill="#006837" points="738.7,26.8 738.7,-129.4 746.6,-127.1 746.6,-124.2 754.5,-121.9 754.5,-119.0 762.4,-116.7 762.4,-113.8 770.3,-111.5 770.3,-108.5 778.2,-106.3 778.2,-103.3 786.1,-101.0 786.1,-98.1 794.0,-95.8 794.0,-92.9 801.9,-90.6 801.9,-87.7 809.8,-85.4 809.8,-82.5 817.6,-80.2 817.6,-77.3 825.5,-75.0 825.5,-72.1 833.4,-69.8 833.4,-66.9 841.3,-64.6 841.3,-61.7 849.2,-59.4 849.2,-56.4 857.1,-54.2 857.1,-51.2 865.0,-48.9 865.0,-46.0 872.9,-43.7 872.9,-40.8 880.8,-38.5 880.8,-35.6 888.7,-33.3 888.7,-30.4 896.6,-28.1 896.6,-25.2 904.5,-22.9 904.5,-20.0 912.4,-17.7 912.4,-14.8 920.3,-12.5 920.3,-9.6 928.2,-7.3 928.2,-4.3 936.1,-2.1 936.1,0.9 944.0,3.2 944.0,6.1 951.8,8.4 951.8,11.3 959.7,13.6 959.7,16.5 967.6,18.8 967.6,21.7 975.5,24.0 975.5,26.9 983.4,29.2 983.4,32.1 991.3,34.4 991.3,37.3 999.2,39.6 999.2,42.5 1007.1,44.8 1007.1,47.8 1015.0,50.0 1015.0,53.0 1022.9,55.3 1022.9,58.2 1030.8,60.5 1030.8,63.4 1038.7,65.7 1038.7,68.6 1046.6,70.9 1046.6,73.8 1054.5,76.1 1054.5,79.0 1062.4,81.3 1062.4,84.2 1070.3,86.5 1070.3,89.4 1078.2,91.7 1078.2,94.6 1086.0,96.9 1086.0,99.9 1093.9,102.2 1093.9,105.1 1101.8,107.4 1101.8,110.3 1109.7,112.6 1109.7,115.5 1117.6,117.8 1117.6,120.7 1125.5,123.0 1125.5,125.9 1133.4,128.2 1133.4,131.1 1141.3,133.4 1141.3,136.3 1149.2,138.6 1149.2,141.5 1157.1,143.8 1157.1,26.8"/>
</g></g>
<g fill="none" stroke="#2a2a2a" stroke-width="1.5">
<rect x="165.1" y="35.8" width="402.9" height="332.0"/>
<rect x="746.6" y="35.8" width="402.6" height="332.0"/>
<path d="M217.8 35.8v6.6M217.8 367.8v-6.6" stroke-width="1.25"/>
<path d="M248.6 35.8v6.6M248.6 367.8v-6.6" stroke-width="1.25"/>
<path d="M270.5 35.8v6.6M270.5 367.8v-6.6" stroke-width="1.25"/>
<path d="M287.5 35.8v6.6M287.5 367.8v-6.6" stroke-width="1.25"/>
<path d="M301.3 35.8v6.6M301.3 367.8v-6.6" stroke-width="1.25"/>
<path d="M313.1 35.8v6.6M313.1 367.8v-6.6" stroke-width="1.25"/>
<path d="M323.2 35.8v6.6M323.2 367.8v-6.6" stroke-width="1.25"/>
<path d="M332.2 35.8v6.6M332.2 367.8v-6.6" stroke-width="1.25"/>
<path d="M340.2 35.8v12.8M340.2 367.8v-12.8" stroke-width="1.55"/>
<path d="M392.9 35.8v6.6M392.9 367.8v-6.6" stroke-width="1.25"/>
<path d="M423.7 35.8v6.6M423.7 367.8v-6.6" stroke-width="1.25"/>
<path d="M445.6 35.8v6.6M445.6 367.8v-6.6" stroke-width="1.25"/>
<path d="M462.5 35.8v6.6M462.5 367.8v-6.6" stroke-width="1.25"/>
<path d="M476.4 35.8v6.6M476.4 367.8v-6.6" stroke-width="1.25"/>
<path d="M488.1 35.8v6.6M488.1 367.8v-6.6" stroke-width="1.25"/>
<path d="M498.3 35.8v6.6M498.3 367.8v-6.6" stroke-width="1.25"/>
<path d="M507.2 35.8v6.6M507.2 367.8v-6.6" stroke-width="1.25"/>
<path d="M515.2 35.8v12.8M515.2 367.8v-12.8" stroke-width="1.55"/>
<path d="M165.1 360.1h6.6M568.0 360.1h-6.6" stroke-width="1.25"/>
<path d="M165.1 337.9h12.8M568.0 337.9h-12.8" stroke-width="1.55"/>
<path d="M165.1 315.8h6.6M568.0 315.8h-6.6" stroke-width="1.25"/>
<path d="M165.1 293.7h6.6M568.0 293.7h-6.6" stroke-width="1.25"/>
<path d="M165.1 271.5h6.6M568.0 271.5h-6.6" stroke-width="1.25"/>
<path d="M165.1 249.4h6.6M568.0 249.4h-6.6" stroke-width="1.25"/>
<path d="M165.1 227.3h12.8M568.0 227.3h-12.8" stroke-width="1.55"/>
<path d="M165.1 205.1h6.6M568.0 205.1h-6.6" stroke-width="1.25"/>
<path d="M165.1 183.0h6.6M568.0 183.0h-6.6" stroke-width="1.25"/>
<path d="M165.1 160.9h6.6M568.0 160.9h-6.6" stroke-width="1.25"/>
<path d="M165.1 138.7h6.6M568.0 138.7h-6.6" stroke-width="1.25"/>
<path d="M165.1 116.6h12.8M568.0 116.6h-12.8" stroke-width="1.55"/>
<path d="M165.1 94.5h6.6M568.0 94.5h-6.6" stroke-width="1.25"/>
<path d="M165.1 72.3h6.6M568.0 72.3h-6.6" stroke-width="1.25"/>
<path d="M165.1 50.2h6.6M568.0 50.2h-6.6" stroke-width="1.25"/>
<path d="M770.8 35.8v6.6M770.8 367.8v-6.6" stroke-width="1.25"/>
<path d="M785.0 35.8v6.6M785.0 367.8v-6.6" stroke-width="1.25"/>
<path d="M795.1 35.8v6.6M795.1 367.8v-6.6" stroke-width="1.25"/>
<path d="M802.9 35.8v6.6M802.9 367.8v-6.6" stroke-width="1.25"/>
<path d="M809.3 35.8v6.6M809.3 367.8v-6.6" stroke-width="1.25"/>
<path d="M814.6 35.8v6.6M814.6 367.8v-6.6" stroke-width="1.25"/>
<path d="M819.3 35.8v6.6M819.3 367.8v-6.6" stroke-width="1.25"/>
<path d="M823.4 35.8v6.6M823.4 367.8v-6.6" stroke-width="1.25"/>
<path d="M827.1 35.8v12.8M827.1 367.8v-12.8" stroke-width="1.55"/>
<path d="M851.4 35.8v6.6M851.4 367.8v-6.6" stroke-width="1.25"/>
<path d="M865.5 35.8v6.6M865.5 367.8v-6.6" stroke-width="1.25"/>
<path d="M875.6 35.8v6.6M875.6 367.8v-6.6" stroke-width="1.25"/>
<path d="M883.4 35.8v6.6M883.4 367.8v-6.6" stroke-width="1.25"/>
<path d="M889.8 35.8v6.6M889.8 367.8v-6.6" stroke-width="1.25"/>
<path d="M895.2 35.8v6.6M895.2 367.8v-6.6" stroke-width="1.25"/>
<path d="M899.8 35.8v6.6M899.8 367.8v-6.6" stroke-width="1.25"/>
<path d="M904.0 35.8v6.6M904.0 367.8v-6.6" stroke-width="1.25"/>
<path d="M907.6 35.8v12.8M907.6 367.8v-12.8" stroke-width="1.55"/>
<path d="M931.9 35.8v6.6M931.9 367.8v-6.6" stroke-width="1.25"/>
<path d="M946.1 35.8v6.6M946.1 367.8v-6.6" stroke-width="1.25"/>
<path d="M956.1 35.8v6.6M956.1 367.8v-6.6" stroke-width="1.25"/>
<path d="M963.9 35.8v6.6M963.9 367.8v-6.6" stroke-width="1.25"/>
<path d="M970.3 35.8v6.6M970.3 367.8v-6.6" stroke-width="1.25"/>
<path d="M975.7 35.8v6.6M975.7 367.8v-6.6" stroke-width="1.25"/>
<path d="M980.4 35.8v6.6M980.4 367.8v-6.6" stroke-width="1.25"/>
<path d="M984.5 35.8v6.6M984.5 367.8v-6.6" stroke-width="1.25"/>
<path d="M988.2 35.8v12.8M988.2 367.8v-12.8" stroke-width="1.55"/>
<path d="M1012.4 35.8v6.6M1012.4 367.8v-6.6" stroke-width="1.25"/>
<path d="M1026.6 35.8v6.6M1026.6 367.8v-6.6" stroke-width="1.25"/>
<path d="M1036.6 35.8v6.6M1036.6 367.8v-6.6" stroke-width="1.25"/>
<path d="M1044.4 35.8v6.6M1044.4 367.8v-6.6" stroke-width="1.25"/>
<path d="M1050.8 35.8v6.6M1050.8 367.8v-6.6" stroke-width="1.25"/>
<path d="M1056.2 35.8v6.6M1056.2 367.8v-6.6" stroke-width="1.25"/>
<path d="M1060.9 35.8v6.6M1060.9 367.8v-6.6" stroke-width="1.25"/>
<path d="M1065.0 35.8v6.6M1065.0 367.8v-6.6" stroke-width="1.25"/>
<path d="M1068.7 35.8v12.8M1068.7 367.8v-12.8" stroke-width="1.55"/>
<path d="M1092.9 35.8v6.6M1092.9 367.8v-6.6" stroke-width="1.25"/>
<path d="M1107.1 35.8v6.6M1107.1 367.8v-6.6" stroke-width="1.25"/>
<path d="M1117.2 35.8v6.6M1117.2 367.8v-6.6" stroke-width="1.25"/>
<path d="M1125.0 35.8v6.6M1125.0 367.8v-6.6" stroke-width="1.25"/>
<path d="M1131.3 35.8v6.6M1131.3 367.8v-6.6" stroke-width="1.25"/>
<path d="M1136.7 35.8v6.6M1136.7 367.8v-6.6" stroke-width="1.25"/>
<path d="M1141.4 35.8v6.6M1141.4 367.8v-6.6" stroke-width="1.25"/>
<path d="M1145.5 35.8v6.6M1145.5 367.8v-6.6" stroke-width="1.25"/>
<path d="M746.6 367.8h6.6M1149.2 367.8h-6.6" stroke-width="1.25"/>
<path d="M746.6 343.0h6.6M1149.2 343.0h-6.6" stroke-width="1.25"/>
<path d="M746.6 318.2h12.8M1149.2 318.2h-12.8" stroke-width="1.55"/>
<path d="M746.6 293.5h6.6M1149.2 293.5h-6.6" stroke-width="1.25"/>
<path d="M746.6 268.7h6.6M1149.2 268.7h-6.6" stroke-width="1.25"/>
<path d="M746.6 243.9h6.6M1149.2 243.9h-6.6" stroke-width="1.25"/>
<path d="M746.6 219.1h6.6M1149.2 219.1h-6.6" stroke-width="1.25"/>
<path d="M746.6 194.4h12.8M1149.2 194.4h-12.8" stroke-width="1.55"/>
<path d="M746.6 169.6h6.6M1149.2 169.6h-6.6" stroke-width="1.25"/>
<path d="M746.6 144.8h6.6M1149.2 144.8h-6.6" stroke-width="1.25"/>
<path d="M746.6 120.0h6.6M1149.2 120.0h-6.6" stroke-width="1.25"/>
<path d="M746.6 95.3h6.6M1149.2 95.3h-6.6" stroke-width="1.25"/>
<path d="M746.6 70.5h12.8M1149.2 70.5h-12.8" stroke-width="1.55"/>
<path d="M746.6 45.7h6.6M1149.2 45.7h-6.6" stroke-width="1.25"/>
</g>
<g fill="#000">
<text x="70.0" y="45.5" font-size="28.2">(a)</text>
<text x="650.0" y="45.5" font-size="28.2">(b)</text>
<text x="116.5" y="125.9" font-size="27.5" textLength="38.2" lengthAdjust="spacingAndGlyphs">900</text>
<text x="116.5" y="236.6" font-size="27.5" textLength="38.2" lengthAdjust="spacingAndGlyphs">800</text>
<text x="116.5" y="347.2" font-size="27.5" textLength="38.2" lengthAdjust="spacingAndGlyphs">700</text>
<text x="697.5" y="77.7" font-size="27.5" textLength="38.2" lengthAdjust="spacingAndGlyphs">480</text>
<text x="697.5" y="201.6" font-size="27.5" textLength="38.2" lengthAdjust="spacingAndGlyphs">430</text>
<text x="697.5" y="325.4" font-size="27.5" textLength="38.2" lengthAdjust="spacingAndGlyphs">380</text>
<text x="148.8" y="410.0" font-size="27.5" textLength="34.0" lengthAdjust="spacingAndGlyphs">10<tspan dy="-13.5" font-size="20.0">2</tspan></text>
<text x="323.9" y="410.0" font-size="27.5" textLength="34.0" lengthAdjust="spacingAndGlyphs">10<tspan dy="-13.5" font-size="20.0">3</tspan></text>
<text x="498.9" y="410.0" font-size="27.5" textLength="34.0" lengthAdjust="spacingAndGlyphs">10<tspan dy="-13.5" font-size="20.0">4</tspan></text>
<text x="722.0" y="400.0" font-size="27.0" textLength="47.0" lengthAdjust="spacingAndGlyphs">10<tspan dy="-10.0" font-size="19.5">−1</tspan></text>
<text x="809.9" y="400.0" font-size="27.0" textLength="33.5" lengthAdjust="spacingAndGlyphs">10<tspan dy="-10.0" font-size="19.5">0</tspan></text>
<text x="890.4" y="400.0" font-size="27.0" textLength="33.5" lengthAdjust="spacingAndGlyphs">10<tspan dy="-10.0" font-size="19.5">1</tspan></text>
<text x="971.0" y="400.0" font-size="27.0" textLength="33.5" lengthAdjust="spacingAndGlyphs">10<tspan dy="-10.0" font-size="19.5">2</tspan></text>
<text x="1051.5" y="400.0" font-size="27.0" textLength="33.5" lengthAdjust="spacingAndGlyphs">10<tspan dy="-10.0" font-size="19.5">3</tspan></text>
<text x="1132.0" y="400.0" font-size="27.0" textLength="33.5" lengthAdjust="spacingAndGlyphs">10<tspan dy="-10.0" font-size="19.5">4</tspan></text>
<text x="302.0" y="442.4" font-size="29.5" textLength="129.0" lengthAdjust="spacingAndGlyphs"><tspan class="i">ϕ</tspan><tspan dy="4" font-size="20.5">c</tspan><tspan dy="-4"> (K s</tspan><tspan dy="-10.5" font-size="20.5">−1</tspan><tspan dy="10.5">)</tspan></text>
<text x="916.0" y="436.0" font-size="29.5" textLength="62.0" lengthAdjust="spacingAndGlyphs"><tspan class="i">t</tspan><tspan dy="4" font-size="20.5">a</tspan><tspan dy="-4"> (s)</tspan></text>
<g transform="translate(97.6,245) rotate(-90)"><text x="0.0" y="0.0" font-size="29.5" textLength="85.5" lengthAdjust="spacingAndGlyphs"><tspan class="i">T</tspan><tspan dy="4" font-size="20.5">q</tspan><tspan dy="-4"> (K)</tspan></text></g>
<g transform="translate(678.3,245) rotate(-90)"><text x="0.0" y="0.0" font-size="29.5" textLength="85.5" lengthAdjust="spacingAndGlyphs"><tspan class="i">T</tspan><tspan dy="4" font-size="20.5">a</tspan><tspan dy="-4"> (K)</tspan></text></g>
<text x="324.0" y="123.0" font-size="28.7" textLength="104.4" lengthAdjust="spacingAndGlyphs" fill="#000">SDG(<tspan class="i">ϕ</tspan><tspan dy="4" font-size="20">c</tspan><tspan dy="-4">)</tspan></text>
<text x="447.0" y="200.9" font-size="28.7" textLength="105.0" lengthAdjust="spacingAndGlyphs" fill="#fff">SDG(<tspan class="i">T</tspan><tspan dy="4" font-size="20">q</tspan><tspan dy="-4">)</tspan></text>
<text x="394.2" y="311.2" font-size="28.7" textLength="103.7" lengthAdjust="spacingAndGlyphs" fill="#000">SDG(<tspan class="i">ϕ</tspan><tspan dy="4" font-size="20">c</tspan><tspan dy="-4">)</tspan></text>
<text x="394.2" y="344.7" font-size="28.7" textLength="104.8" lengthAdjust="spacingAndGlyphs" fill="#000">SDG(<tspan class="i">T</tspan><tspan dy="4" font-size="20">q</tspan><tspan dy="-4">)</tspan></text>
<text x="499.0" y="127.0" font-size="27.5" textLength="57.0" lengthAdjust="spacingAndGlyphs" fill="#fff">CHG</text>
<text x="218.4" y="347.6" font-size="27.5" textLength="79.4" lengthAdjust="spacingAndGlyphs" fill="#fff">Crystal</text>
<text x="314.3" y="347.6" font-size="27.5" textLength="51.8" lengthAdjust="spacingAndGlyphs" fill="#fff">SCG</text>
<text x="1069.5" y="68.0" font-size="27.5" textLength="79.4" lengthAdjust="spacingAndGlyphs" fill="#fff">Crystal</text>
<text x="1013.3" y="129.7" font-size="27.5" textLength="52.5" lengthAdjust="spacingAndGlyphs" fill="#fff">SCG</text>
<text x="809.7" y="303.0" font-size="27.5" textLength="56.8" lengthAdjust="spacingAndGlyphs" fill="#fff">CHG</text>
<g transform="translate(896,164.5) rotate(27.8)"><text x="0.0" y="0.0" font-size="27.5" textLength="221.0" lengthAdjust="spacingAndGlyphs">SDG (by annealing)</text></g>
</g>
</svg></body></html>
